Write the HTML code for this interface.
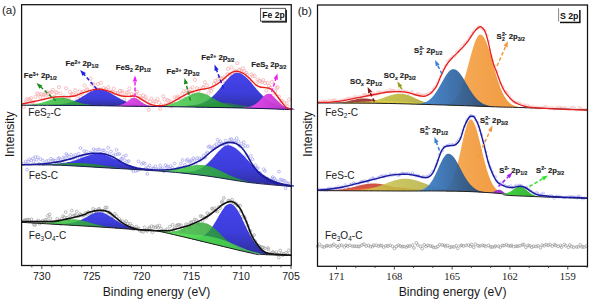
<!DOCTYPE html>
<html><head><meta charset="utf-8"><style>
html,body{margin:0;padding:0;background:#fff;}
svg{display:block;}
.b{stroke:#1a1a1a;stroke-width:0.14px;}
</style></head><body>
<svg width="593" height="300" viewBox="0 0 593 300">
<defs><linearGradient id="g1" gradientUnits="userSpaceOnUse" x1="0" y1="89.1" x2="0" y2="106.5"><stop offset="0.00" stop-color="#3434ea" stop-opacity="0.92"/><stop offset="0.55" stop-color="#2c2cd8" stop-opacity="0.92"/><stop offset="1.00" stop-color="#1c1c92" stop-opacity="0.92"/></linearGradient><linearGradient id="g2" gradientUnits="userSpaceOnUse" x1="0" y1="72.8" x2="0" y2="109.6"><stop offset="0.00" stop-color="#3434ea" stop-opacity="0.92"/><stop offset="0.55" stop-color="#2c2cd8" stop-opacity="0.92"/><stop offset="1.00" stop-color="#1c1c92" stop-opacity="0.92"/></linearGradient><linearGradient id="g3" gradientUnits="userSpaceOnUse" x1="19.4" y1="0" x2="102.6" y2="0"><stop offset="0" stop-color="#46dc46" stop-opacity="0.85"/><stop offset="1" stop-color="#1f8f2f" stop-opacity="0.85"/></linearGradient><linearGradient id="g4" gradientUnits="userSpaceOnUse" x1="151.0" y1="0" x2="247.0" y2="0"><stop offset="0" stop-color="#46dc46" stop-opacity="0.82"/><stop offset="1" stop-color="#1f8f2f" stop-opacity="0.82"/></linearGradient><linearGradient id="g5" gradientUnits="userSpaceOnUse" x1="164.4" y1="0" x2="279.6" y2="0"><stop offset="0" stop-color="#2aa02a" stop-opacity="0.55"/><stop offset="1" stop-color="#1f8a2a" stop-opacity="0.55"/></linearGradient><linearGradient id="g6" gradientUnits="userSpaceOnUse" x1="113.8" y1="0" x2="155.1" y2="0"><stop offset="0" stop-color="#f64cf6" stop-opacity="0.95"/><stop offset="1" stop-color="#b030c0" stop-opacity="0.95"/></linearGradient><linearGradient id="g7" gradientUnits="userSpaceOnUse" x1="242.9" y1="0" x2="295.7" y2="0"><stop offset="0" stop-color="#f64cf6" stop-opacity="0.95"/><stop offset="1" stop-color="#b030c0" stop-opacity="0.95"/></linearGradient><linearGradient id="g8" gradientUnits="userSpaceOnUse" x1="0" y1="153.8" x2="0" y2="171.1"><stop offset="0.00" stop-color="#3434ea" stop-opacity="0.92"/><stop offset="0.55" stop-color="#2c2cd8" stop-opacity="0.92"/><stop offset="1.00" stop-color="#1c1c92" stop-opacity="0.92"/></linearGradient><linearGradient id="g9" gradientUnits="userSpaceOnUse" x1="0" y1="145.3" x2="0" y2="186.6"><stop offset="0.00" stop-color="#3434ea" stop-opacity="0.92"/><stop offset="0.55" stop-color="#2c2cd8" stop-opacity="0.92"/><stop offset="1.00" stop-color="#1c1c92" stop-opacity="0.92"/></linearGradient><linearGradient id="g10" gradientUnits="userSpaceOnUse" x1="20.0" y1="0" x2="148.0" y2="0"><stop offset="0" stop-color="#2cae2c" stop-opacity="0.85"/><stop offset="1" stop-color="#1a7a2a" stop-opacity="0.85"/></linearGradient><linearGradient id="g11" gradientUnits="userSpaceOnUse" x1="140.0" y1="0" x2="264.8" y2="0"><stop offset="0" stop-color="#46dc46" stop-opacity="0.85"/><stop offset="1" stop-color="#1f8f2f" stop-opacity="0.85"/></linearGradient><linearGradient id="g12" gradientUnits="userSpaceOnUse" x1="0" y1="212.2" x2="0" y2="230.5"><stop offset="0.00" stop-color="#3434ea" stop-opacity="0.92"/><stop offset="0.55" stop-color="#2c2cd8" stop-opacity="0.92"/><stop offset="1.00" stop-color="#1c1c92" stop-opacity="0.92"/></linearGradient><linearGradient id="g13" gradientUnits="userSpaceOnUse" x1="0" y1="203.9" x2="0" y2="255.0"><stop offset="0.00" stop-color="#3434ea" stop-opacity="0.92"/><stop offset="0.55" stop-color="#2c2cd8" stop-opacity="0.92"/><stop offset="1.00" stop-color="#1c1c92" stop-opacity="0.92"/></linearGradient><linearGradient id="g14" gradientUnits="userSpaceOnUse" x1="26.0" y1="0" x2="125.2" y2="0"><stop offset="0" stop-color="#46dc46" stop-opacity="0.85"/><stop offset="1" stop-color="#1f8f2f" stop-opacity="0.85"/></linearGradient><linearGradient id="g15" gradientUnits="userSpaceOnUse" x1="150.6" y1="0" x2="254.6" y2="0"><stop offset="0" stop-color="#3cc83c" stop-opacity="0.82"/><stop offset="1" stop-color="#1f8a2a" stop-opacity="0.82"/></linearGradient><linearGradient id="g16" gradientUnits="userSpaceOnUse" x1="131.8" y1="0" x2="285.4" y2="0"><stop offset="0" stop-color="#60f060" stop-opacity="0.70"/><stop offset="1" stop-color="#48d848" stop-opacity="0.70"/></linearGradient><linearGradient id="g17" gradientUnits="userSpaceOnUse" x1="325.6" y1="0" x2="402.4" y2="0"><stop offset="0" stop-color="#a83030" stop-opacity="0.92"/><stop offset="1" stop-color="#8a2a2a" stop-opacity="0.92"/></linearGradient><linearGradient id="g18" gradientUnits="userSpaceOnUse" x1="349.8" y1="0" x2="445.8" y2="0"><stop offset="0" stop-color="#d2cc48" stop-opacity="0.92"/><stop offset="1" stop-color="#a6a238" stop-opacity="0.92"/></linearGradient><linearGradient id="g19" gradientUnits="userSpaceOnUse" x1="296.0" y1="0" x2="475.2" y2="0"><stop offset="0" stop-color="#ecd848" stop-opacity="0.80"/><stop offset="1" stop-color="#d8c840" stop-opacity="0.80"/></linearGradient><linearGradient id="g20" gradientUnits="userSpaceOnUse" x1="443.7" y1="0" x2="519.9" y2="0"><stop offset="0" stop-color="#f7ad5a" stop-opacity="1.00"/><stop offset="1" stop-color="#f09a40" stop-opacity="1.00"/></linearGradient><linearGradient id="g21" gradientUnits="userSpaceOnUse" x1="415.1" y1="0" x2="495.1" y2="0"><stop offset="0" stop-color="#3f88d8" stop-opacity="0.93"/><stop offset="1" stop-color="#22446e" stop-opacity="0.93"/></linearGradient><linearGradient id="g22" gradientUnits="userSpaceOnUse" x1="316.4" y1="0" x2="428.4" y2="0"><stop offset="0" stop-color="#d04a3a" stop-opacity="0.92"/><stop offset="1" stop-color="#c04030" stop-opacity="0.92"/></linearGradient><linearGradient id="g23" gradientUnits="userSpaceOnUse" x1="311.2" y1="0" x2="458.4" y2="0"><stop offset="0" stop-color="#f47040" stop-opacity="0.90"/><stop offset="1" stop-color="#e85a28" stop-opacity="0.90"/></linearGradient><linearGradient id="g24" gradientUnits="userSpaceOnUse" x1="344.2" y1="0" x2="469.0" y2="0"><stop offset="0" stop-color="#d6d050" stop-opacity="0.85"/><stop offset="1" stop-color="#a4a038" stop-opacity="0.85"/></linearGradient><linearGradient id="g25" gradientUnits="userSpaceOnUse" x1="440.4" y1="0" x2="504.7" y2="0"><stop offset="0" stop-color="#f7ad5a" stop-opacity="1.00"/><stop offset="1" stop-color="#f09a40" stop-opacity="1.00"/></linearGradient><linearGradient id="g26" gradientUnits="userSpaceOnUse" x1="415.9" y1="0" x2="486.9" y2="0"><stop offset="0" stop-color="#3f88d8" stop-opacity="0.93"/><stop offset="1" stop-color="#22446e" stop-opacity="0.93"/></linearGradient><linearGradient id="g27" gradientUnits="userSpaceOnUse" x1="486.5" y1="0" x2="512.1" y2="0"><stop offset="0" stop-color="#a030e0" stop-opacity="0.92"/><stop offset="1" stop-color="#8020c0" stop-opacity="0.92"/></linearGradient><linearGradient id="g28" gradientUnits="userSpaceOnUse" x1="497.4" y1="0" x2="542.2" y2="0"><stop offset="0" stop-color="#38d838" stop-opacity="0.92"/><stop offset="1" stop-color="#20a020" stop-opacity="0.92"/></linearGradient></defs>
<rect width="593" height="300" fill="#fff"/>
<g fill="none" stroke="#f3a6a6" stroke-width="0.70"><circle cx="23.8" cy="106.9" r="1.6"/><circle cx="25.5" cy="102.3" r="1.6"/><circle cx="26.5" cy="99.7" r="1.6"/><circle cx="28.3" cy="99.1" r="1.6"/><circle cx="29.9" cy="99.8" r="1.6"/><circle cx="31.0" cy="98.2" r="1.6"/><circle cx="32.2" cy="102.2" r="1.6"/><circle cx="34.2" cy="104.5" r="1.6"/><circle cx="35.4" cy="97.0" r="1.6"/><circle cx="37.2" cy="93.5" r="1.6"/><circle cx="38.5" cy="94.3" r="1.6"/><circle cx="40.2" cy="97.1" r="1.6"/><circle cx="41.3" cy="94.2" r="1.6"/><circle cx="43.3" cy="94.8" r="1.6"/><circle cx="44.5" cy="94.3" r="1.6"/><circle cx="45.8" cy="95.7" r="1.6"/><circle cx="47.1" cy="92.2" r="1.6"/><circle cx="48.6" cy="93.9" r="1.6"/><circle cx="50.1" cy="92.6" r="1.6"/><circle cx="51.9" cy="92.0" r="1.6"/><circle cx="52.8" cy="89.8" r="1.6"/><circle cx="54.4" cy="96.8" r="1.6"/><circle cx="55.9" cy="92.6" r="1.6"/><circle cx="56.9" cy="92.6" r="1.6"/><circle cx="59.0" cy="87.2" r="1.6"/><circle cx="60.5" cy="93.4" r="1.6"/><circle cx="61.6" cy="97.8" r="1.6"/><circle cx="63.3" cy="97.8" r="1.6"/><circle cx="64.4" cy="96.9" r="1.6"/><circle cx="66.0" cy="88.2" r="1.6"/><circle cx="67.7" cy="97.6" r="1.6"/><circle cx="68.9" cy="98.5" r="1.6"/><circle cx="70.0" cy="91.9" r="1.6"/><circle cx="71.5" cy="94.4" r="1.6"/><circle cx="73.0" cy="94.2" r="1.6"/><circle cx="75.2" cy="90.2" r="1.6"/><circle cx="76.4" cy="94.5" r="1.6"/><circle cx="77.4" cy="98.7" r="1.6"/><circle cx="79.4" cy="91.4" r="1.6"/><circle cx="80.8" cy="97.0" r="1.6"/><circle cx="82.1" cy="92.9" r="1.6"/><circle cx="83.3" cy="91.2" r="1.6"/><circle cx="84.6" cy="85.5" r="1.6"/><circle cx="86.6" cy="90.1" r="1.6"/><circle cx="87.4" cy="89.3" r="1.6"/><circle cx="89.2" cy="92.2" r="1.6"/><circle cx="90.4" cy="78.7" r="1.6"/><circle cx="91.8" cy="84.5" r="1.6"/><circle cx="93.5" cy="84.1" r="1.6"/><circle cx="94.6" cy="88.2" r="1.6"/><circle cx="96.7" cy="89.1" r="1.6"/><circle cx="97.9" cy="84.0" r="1.6"/><circle cx="99.9" cy="89.4" r="1.6"/><circle cx="100.8" cy="82.8" r="1.6"/><circle cx="102.0" cy="91.2" r="1.6"/><circle cx="103.5" cy="88.0" r="1.6"/><circle cx="105.0" cy="89.9" r="1.6"/><circle cx="106.2" cy="89.2" r="1.6"/><circle cx="108.3" cy="87.3" r="1.6"/><circle cx="109.2" cy="91.4" r="1.6"/><circle cx="111.2" cy="92.2" r="1.6"/><circle cx="112.3" cy="91.8" r="1.6"/><circle cx="113.7" cy="88.7" r="1.6"/><circle cx="115.3" cy="92.9" r="1.6"/><circle cx="117.3" cy="92.8" r="1.6"/><circle cx="118.1" cy="93.5" r="1.6"/><circle cx="120.0" cy="90.9" r="1.6"/><circle cx="121.6" cy="91.1" r="1.6"/><circle cx="122.4" cy="93.1" r="1.6"/><circle cx="124.4" cy="99.9" r="1.6"/><circle cx="125.8" cy="95.6" r="1.6"/><circle cx="126.8" cy="92.4" r="1.6"/><circle cx="128.4" cy="92.3" r="1.6"/><circle cx="129.4" cy="88.5" r="1.6"/><circle cx="131.6" cy="94.1" r="1.6"/><circle cx="132.5" cy="97.6" r="1.6"/><circle cx="134.4" cy="95.2" r="1.6"/><circle cx="136.0" cy="93.7" r="1.6"/><circle cx="137.1" cy="91.8" r="1.6"/><circle cx="138.2" cy="98.6" r="1.6"/><circle cx="140.3" cy="96.0" r="1.6"/><circle cx="141.0" cy="98.3" r="1.6"/><circle cx="143.3" cy="95.5" r="1.6"/><circle cx="144.3" cy="98.6" r="1.6"/><circle cx="145.5" cy="97.0" r="1.6"/><circle cx="147.2" cy="100.7" r="1.6"/><circle cx="148.8" cy="109.8" r="1.6"/><circle cx="150.0" cy="101.5" r="1.6"/><circle cx="151.4" cy="98.7" r="1.6"/><circle cx="153.3" cy="103.8" r="1.6"/><circle cx="154.2" cy="101.6" r="1.6"/><circle cx="155.9" cy="101.3" r="1.6"/><circle cx="157.6" cy="99.2" r="1.6"/><circle cx="159.1" cy="102.7" r="1.6"/><circle cx="160.2" cy="108.7" r="1.6"/><circle cx="161.3" cy="105.2" r="1.6"/><circle cx="163.3" cy="96.3" r="1.6"/><circle cx="164.3" cy="99.6" r="1.6"/><circle cx="165.9" cy="104.5" r="1.6"/><circle cx="167.5" cy="100.1" r="1.6"/><circle cx="168.6" cy="100.8" r="1.6"/><circle cx="170.7" cy="101.4" r="1.6"/><circle cx="171.4" cy="106.4" r="1.6"/><circle cx="173.3" cy="103.0" r="1.6"/><circle cx="174.6" cy="97.3" r="1.6"/><circle cx="176.7" cy="98.0" r="1.6"/><circle cx="177.9" cy="96.6" r="1.6"/><circle cx="179.3" cy="97.4" r="1.6"/><circle cx="180.3" cy="98.7" r="1.6"/><circle cx="182.4" cy="93.8" r="1.6"/><circle cx="183.7" cy="91.5" r="1.6"/><circle cx="184.9" cy="98.7" r="1.6"/><circle cx="186.4" cy="90.7" r="1.6"/><circle cx="188.2" cy="92.0" r="1.6"/><circle cx="189.1" cy="91.9" r="1.6"/><circle cx="190.3" cy="89.3" r="1.6"/><circle cx="192.4" cy="87.4" r="1.6"/><circle cx="193.6" cy="94.1" r="1.6"/><circle cx="194.9" cy="79.9" r="1.6"/><circle cx="197.0" cy="88.2" r="1.6"/><circle cx="198.4" cy="91.2" r="1.6"/><circle cx="199.2" cy="89.4" r="1.6"/><circle cx="200.5" cy="96.1" r="1.6"/><circle cx="202.6" cy="87.6" r="1.6"/><circle cx="203.4" cy="87.0" r="1.6"/><circle cx="204.8" cy="82.2" r="1.6"/><circle cx="206.9" cy="85.4" r="1.6"/><circle cx="208.4" cy="93.5" r="1.6"/><circle cx="209.8" cy="88.8" r="1.6"/><circle cx="211.1" cy="90.9" r="1.6"/><circle cx="212.5" cy="87.6" r="1.6"/><circle cx="214.0" cy="84.0" r="1.6"/><circle cx="215.3" cy="80.9" r="1.6"/><circle cx="216.5" cy="82.7" r="1.6"/><circle cx="218.3" cy="78.8" r="1.6"/><circle cx="219.8" cy="77.7" r="1.6"/><circle cx="221.6" cy="78.5" r="1.6"/><circle cx="222.5" cy="81.7" r="1.6"/><circle cx="224.2" cy="77.3" r="1.6"/><circle cx="225.3" cy="80.1" r="1.6"/><circle cx="227.5" cy="74.0" r="1.6"/><circle cx="228.0" cy="68.8" r="1.6"/><circle cx="229.4" cy="74.8" r="1.6"/><circle cx="231.6" cy="67.6" r="1.6"/><circle cx="232.9" cy="75.0" r="1.6"/><circle cx="234.7" cy="70.9" r="1.6"/><circle cx="235.3" cy="71.9" r="1.6"/><circle cx="237.2" cy="63.2" r="1.6"/><circle cx="239.0" cy="70.2" r="1.6"/><circle cx="239.7" cy="69.6" r="1.6"/><circle cx="241.5" cy="72.4" r="1.6"/><circle cx="243.0" cy="68.3" r="1.6"/><circle cx="244.3" cy="71.0" r="1.6"/><circle cx="246.3" cy="72.8" r="1.6"/><circle cx="247.0" cy="75.0" r="1.6"/><circle cx="249.2" cy="79.4" r="1.6"/><circle cx="249.9" cy="82.9" r="1.6"/><circle cx="251.5" cy="74.4" r="1.6"/><circle cx="252.6" cy="76.1" r="1.6"/><circle cx="254.7" cy="75.9" r="1.6"/><circle cx="256.1" cy="83.8" r="1.6"/><circle cx="257.6" cy="79.6" r="1.6"/><circle cx="259.2" cy="80.8" r="1.6"/><circle cx="260.2" cy="81.3" r="1.6"/><circle cx="262.3" cy="82.1" r="1.6"/><circle cx="263.2" cy="80.2" r="1.6"/><circle cx="265.1" cy="83.1" r="1.6"/><circle cx="266.4" cy="90.6" r="1.6"/><circle cx="267.5" cy="82.8" r="1.6"/><circle cx="269.0" cy="85.9" r="1.6"/><circle cx="270.2" cy="87.6" r="1.6"/><circle cx="271.9" cy="81.8" r="1.6"/><circle cx="273.6" cy="95.5" r="1.6"/><circle cx="275.1" cy="91.5" r="1.6"/><circle cx="276.7" cy="88.1" r="1.6"/><circle cx="277.6" cy="87.1" r="1.6"/><circle cx="279.0" cy="96.7" r="1.6"/><circle cx="280.8" cy="100.8" r="1.6"/><circle cx="281.9" cy="101.1" r="1.6"/><circle cx="283.5" cy="108.4" r="1.6"/><circle cx="284.6" cy="102.9" r="1.6"/><circle cx="286.6" cy="103.4" r="1.6"/><circle cx="287.5" cy="106.3" r="1.6"/><circle cx="289.0" cy="99.5" r="1.6"/></g>
<path d="M51.00 104.80 L52.00 104.77 L53.00 104.74 L54.00 104.70 L55.00 104.65 L56.00 104.60 L57.00 104.54 L58.00 104.47 L59.00 104.39 L60.00 104.30 L61.00 104.19 L62.00 104.07 L63.00 103.94 L64.00 103.79 L65.00 103.62 L66.00 103.43 L67.00 103.22 L68.00 102.98 L69.00 102.73 L70.00 102.44 L71.00 102.13 L72.00 101.79 L73.00 101.42 L74.00 101.02 L75.00 100.59 L76.00 100.14 L77.00 99.65 L78.00 99.14 L79.00 98.60 L80.00 98.04 L81.00 97.45 L82.00 96.85 L83.00 96.23 L84.00 95.60 L85.00 94.97 L86.00 94.33 L87.00 93.70 L88.00 93.08 L89.00 92.48 L90.00 91.91 L91.00 91.37 L92.00 90.88 L93.00 90.43 L94.00 90.04 L95.00 89.72 L96.00 89.46 L97.00 89.27 L98.00 89.17 L99.00 89.14 L100.00 89.19 L101.00 89.31 L102.00 89.49 L103.00 89.73 L104.00 90.03 L105.00 90.39 L106.00 90.80 L107.00 91.25 L108.00 91.73 L109.00 92.25 L110.00 92.80 L111.00 93.37 L112.00 93.95 L113.00 94.54 L114.00 95.14 L115.00 95.74 L116.00 96.33 L117.00 96.92 L118.00 97.50 L119.00 98.06 L120.00 98.61 L121.00 99.15 L122.00 99.66 L123.00 100.15 L124.00 100.62 L125.00 101.06 L126.00 101.48 L127.00 101.88 L128.00 102.25 L129.00 102.60 L130.00 102.92 L131.00 103.22 L132.00 103.50 L133.00 103.76 L134.00 103.99 L135.00 104.21 L136.00 104.41 L137.00 104.58 L138.00 104.74 L139.00 104.89 L140.00 105.02 L141.00 105.14 L142.00 105.25 L143.00 105.35 L144.00 105.44 L145.00 105.52 L146.00 105.59 L147.00 105.65 L148.00 105.71 L149.00 105.77 L150.00 105.82 L151.00 105.86 L151.00 106.46 L150.00 106.45 L149.00 106.44 L148.00 106.43 L147.00 106.42 L146.00 106.41 L145.00 106.40 L144.00 106.39 L143.00 106.38 L142.00 106.37 L141.00 106.36 L140.00 106.35 L139.00 106.34 L138.00 106.33 L137.00 106.32 L136.00 106.31 L135.00 106.30 L134.00 106.28 L133.00 106.27 L132.00 106.25 L131.00 106.24 L130.00 106.22 L129.00 106.21 L128.00 106.19 L127.00 106.18 L126.00 106.16 L125.00 106.14 L124.00 106.13 L123.00 106.11 L122.00 106.10 L121.00 106.08 L120.00 106.07 L119.00 106.05 L118.00 106.04 L117.00 106.02 L116.00 106.00 L115.00 105.99 L114.00 105.97 L113.00 105.96 L112.00 105.94 L111.00 105.93 L110.00 105.91 L109.00 105.90 L108.00 105.88 L107.00 105.86 L106.00 105.85 L105.00 105.83 L104.00 105.82 L103.00 105.80 L102.00 105.79 L101.00 105.77 L100.00 105.76 L99.00 105.74 L98.00 105.72 L97.00 105.71 L96.00 105.69 L95.00 105.68 L94.00 105.66 L93.00 105.65 L92.00 105.63 L91.00 105.62 L90.00 105.60 L89.00 105.59 L88.00 105.59 L87.00 105.58 L86.00 105.58 L85.00 105.57 L84.00 105.57 L83.00 105.56 L82.00 105.55 L81.00 105.55 L80.00 105.54 L79.00 105.54 L78.00 105.53 L77.00 105.52 L76.00 105.52 L75.00 105.51 L74.00 105.51 L73.00 105.50 L72.00 105.50 L71.00 105.49 L70.00 105.48 L69.00 105.48 L68.00 105.47 L67.00 105.47 L66.00 105.46 L65.00 105.46 L64.00 105.45 L63.00 105.44 L62.00 105.44 L61.00 105.43 L60.00 105.43 L59.00 105.42 L58.00 105.41 L57.00 105.41 L56.00 105.40 L55.00 105.40 L54.00 105.39 L53.00 105.39 L52.00 105.38 L51.00 105.37 Z" fill="url(#g1)"/>
<path d="M186.30 105.76 L187.30 105.70 L188.30 105.64 L189.30 105.57 L190.30 105.48 L191.30 105.39 L192.30 105.28 L193.30 105.15 L194.30 105.01 L195.30 104.84 L196.30 104.66 L197.30 104.45 L198.30 104.21 L199.30 103.94 L200.30 103.64 L201.30 103.31 L202.30 102.94 L203.30 102.53 L204.30 102.08 L205.30 101.58 L206.30 101.03 L207.30 100.43 L208.30 99.79 L209.30 99.09 L210.30 98.33 L211.30 97.52 L212.30 96.65 L213.30 95.73 L214.30 94.76 L215.30 93.74 L216.30 92.67 L217.30 91.55 L218.30 90.40 L219.30 89.21 L220.30 87.99 L221.30 86.75 L222.30 85.50 L223.30 84.25 L224.30 83.00 L225.30 81.77 L226.30 80.56 L227.30 79.40 L228.30 78.28 L229.30 77.24 L230.30 76.27 L231.30 75.40 L232.30 74.63 L233.30 73.98 L234.30 73.46 L235.30 73.07 L236.30 72.84 L237.30 72.75 L238.30 72.81 L239.30 72.99 L240.30 73.30 L241.30 73.73 L242.30 74.27 L243.30 74.92 L244.30 75.67 L245.30 76.51 L246.30 77.42 L247.30 78.40 L248.30 79.44 L249.30 80.53 L250.30 81.66 L251.30 82.82 L252.30 84.01 L253.30 85.21 L254.30 86.40 L255.30 87.60 L256.30 88.78 L257.30 89.95 L258.30 91.09 L259.30 92.21 L260.30 93.29 L261.30 94.34 L262.30 95.34 L263.30 96.31 L264.30 97.24 L265.30 98.11 L266.30 98.95 L267.30 99.74 L268.30 100.48 L269.30 101.18 L270.30 101.83 L271.30 102.44 L272.30 103.00 L273.30 103.53 L274.30 104.02 L275.30 104.47 L276.30 104.88 L277.30 105.26 L278.30 105.61 L279.30 105.93 L280.30 106.23 L281.30 106.50 L282.30 106.74 L283.30 106.97 L284.30 107.18 L285.30 107.36 L286.30 107.54 L287.30 107.70 L288.30 107.84 L289.30 107.98 L290.30 108.10 L291.30 108.22 L292.30 108.31 L293.30 108.38 L293.30 109.60 L292.30 109.60 L291.30 109.58 L290.30 109.54 L289.30 109.51 L288.30 109.48 L287.30 109.44 L286.30 109.41 L285.30 109.38 L284.30 109.34 L283.30 109.31 L282.30 109.28 L281.30 109.24 L280.30 109.21 L279.30 109.18 L278.30 109.14 L277.30 109.11 L276.30 109.08 L275.30 109.04 L274.30 109.01 L273.30 108.98 L272.30 108.94 L271.30 108.91 L270.30 108.88 L269.30 108.84 L268.30 108.81 L267.30 108.78 L266.30 108.74 L265.30 108.71 L264.30 108.68 L263.30 108.64 L262.30 108.61 L261.30 108.58 L260.30 108.54 L259.30 108.51 L258.30 108.48 L257.30 108.44 L256.30 108.41 L255.30 108.38 L254.30 108.34 L253.30 108.31 L252.30 108.28 L251.30 108.24 L250.30 108.21 L249.30 108.19 L248.30 108.17 L247.30 108.15 L246.30 108.13 L245.30 108.11 L244.30 108.09 L243.30 108.07 L242.30 108.05 L241.30 108.03 L240.30 108.01 L239.30 107.99 L238.30 107.97 L237.30 107.95 L236.30 107.93 L235.30 107.91 L234.30 107.89 L233.30 107.87 L232.30 107.85 L231.30 107.83 L230.30 107.81 L229.30 107.79 L228.30 107.77 L227.30 107.75 L226.30 107.73 L225.30 107.71 L224.30 107.69 L223.30 107.67 L222.30 107.65 L221.30 107.63 L220.30 107.61 L219.30 107.59 L218.30 107.57 L217.30 107.55 L216.30 107.53 L215.30 107.51 L214.30 107.49 L213.30 107.47 L212.30 107.45 L211.30 107.43 L210.30 107.41 L209.30 107.39 L208.30 107.37 L207.30 107.35 L206.30 107.33 L205.30 107.31 L204.30 107.29 L203.30 107.27 L202.30 107.25 L201.30 107.23 L200.30 107.21 L199.30 107.19 L198.30 107.17 L197.30 107.15 L196.30 107.14 L195.30 107.12 L194.30 107.10 L193.30 107.09 L192.30 107.07 L191.30 107.05 L190.30 107.03 L189.30 107.02 L188.30 107.00 L187.30 106.98 L186.30 106.97 Z" fill="url(#g2)"/>
<path d="M19.40 104.93 L20.40 104.91 L21.40 104.89 L22.40 104.87 L23.40 104.85 L24.40 104.82 L25.40 104.78 L26.40 104.74 L27.40 104.69 L28.40 104.64 L29.40 104.57 L30.40 104.50 L31.40 104.41 L32.40 104.31 L33.40 104.20 L34.40 104.07 L35.40 103.93 L36.40 103.77 L37.40 103.59 L38.40 103.40 L39.40 103.18 L40.40 102.95 L41.40 102.70 L42.40 102.43 L43.40 102.15 L44.40 101.85 L45.40 101.54 L46.40 101.21 L47.40 100.88 L48.40 100.54 L49.40 100.20 L50.40 99.86 L51.40 99.52 L52.40 99.20 L53.40 98.89 L54.40 98.61 L55.40 98.35 L56.40 98.12 L57.40 97.93 L58.40 97.79 L59.40 97.69 L60.40 97.64 L61.40 97.64 L62.40 97.69 L63.40 97.79 L64.40 97.94 L65.40 98.13 L66.40 98.36 L67.40 98.63 L68.40 98.92 L69.40 99.23 L70.40 99.57 L71.40 99.91 L72.40 100.26 L73.40 100.61 L74.40 100.97 L75.40 101.31 L76.40 101.65 L77.40 101.98 L78.40 102.29 L79.40 102.59 L80.40 102.88 L81.40 103.14 L82.40 103.39 L83.40 103.62 L84.40 103.83 L85.40 104.02 L86.40 104.19 L87.40 104.35 L88.40 104.49 L89.40 104.62 L90.40 104.74 L91.40 104.85 L92.40 104.95 L93.40 105.04 L94.40 105.11 L95.40 105.19 L96.40 105.25 L97.40 105.31 L98.40 105.36 L99.40 105.40 L100.40 105.45 L101.40 105.49 L102.40 105.52 L102.40 105.79 L101.40 105.78 L100.40 105.76 L99.40 105.75 L98.40 105.73 L97.40 105.72 L96.40 105.70 L95.40 105.68 L94.40 105.67 L93.40 105.65 L92.40 105.64 L91.40 105.62 L90.40 105.61 L89.40 105.60 L88.40 105.59 L87.40 105.58 L86.40 105.58 L85.40 105.57 L84.40 105.57 L83.40 105.56 L82.40 105.56 L81.40 105.55 L80.40 105.54 L79.40 105.54 L78.40 105.53 L77.40 105.53 L76.40 105.52 L75.40 105.52 L74.40 105.51 L73.40 105.50 L72.40 105.50 L71.40 105.49 L70.40 105.49 L69.40 105.48 L68.40 105.47 L67.40 105.47 L66.40 105.46 L65.40 105.46 L64.40 105.45 L63.40 105.45 L62.40 105.44 L61.40 105.43 L60.40 105.43 L59.40 105.42 L58.40 105.42 L57.40 105.41 L56.40 105.41 L55.40 105.40 L54.40 105.39 L53.40 105.39 L52.40 105.38 L51.40 105.38 L50.40 105.37 L49.40 105.36 L48.40 105.36 L47.40 105.35 L46.40 105.35 L45.40 105.34 L44.40 105.34 L43.40 105.33 L42.40 105.32 L41.40 105.32 L40.40 105.31 L39.40 105.31 L38.40 105.30 L37.40 105.30 L36.40 105.29 L35.40 105.28 L34.40 105.28 L33.40 105.27 L32.40 105.27 L31.40 105.26 L30.40 105.25 L29.40 105.25 L28.40 105.24 L27.40 105.24 L26.40 105.23 L25.40 105.23 L24.40 105.22 L23.40 105.21 L22.40 105.21 L21.40 105.20 L20.40 105.20 L19.40 105.20 Z" fill="url(#g3)"/>
<path d="M151.00 105.96 L152.00 105.94 L153.00 105.91 L154.00 105.88 L155.00 105.85 L156.00 105.80 L157.00 105.75 L158.00 105.70 L159.00 105.63 L160.00 105.56 L161.00 105.47 L162.00 105.37 L163.00 105.26 L164.00 105.13 L165.00 104.99 L166.00 104.83 L167.00 104.66 L168.00 104.46 L169.00 104.25 L170.00 104.01 L171.00 103.75 L172.00 103.46 L173.00 103.15 L174.00 102.81 L175.00 102.44 L176.00 102.06 L177.00 101.64 L178.00 101.20 L179.00 100.74 L180.00 100.26 L181.00 99.75 L182.00 99.24 L183.00 98.70 L184.00 98.16 L185.00 97.62 L186.00 97.07 L187.00 96.53 L188.00 96.00 L189.00 95.48 L190.00 94.98 L191.00 94.52 L192.00 94.09 L193.00 93.70 L194.00 93.36 L195.00 93.07 L196.00 92.85 L197.00 92.69 L198.00 92.60 L199.00 92.58 L200.00 92.64 L201.00 92.76 L202.00 92.96 L203.00 93.22 L204.00 93.54 L205.00 93.92 L206.00 94.35 L207.00 94.81 L208.00 95.32 L209.00 95.85 L210.00 96.40 L211.00 96.97 L212.00 97.55 L213.00 98.13 L214.00 98.72 L215.00 99.30 L216.00 99.86 L217.00 100.42 L218.00 100.96 L219.00 101.48 L220.00 101.98 L221.00 102.45 L222.00 102.91 L223.00 103.33 L224.00 103.73 L225.00 104.11 L226.00 104.46 L227.00 104.78 L228.00 105.08 L229.00 105.36 L230.00 105.61 L231.00 105.84 L232.00 106.05 L233.00 106.25 L234.00 106.42 L235.00 106.58 L236.00 106.72 L237.00 106.85 L238.00 106.97 L239.00 107.07 L240.00 107.17 L241.00 107.25 L242.00 107.33 L243.00 107.41 L244.00 107.47 L245.00 107.53 L246.00 107.59 L247.00 107.64 L247.00 108.14 L246.00 108.12 L245.00 108.10 L244.00 108.08 L243.00 108.06 L242.00 108.04 L241.00 108.02 L240.00 108.00 L239.00 107.98 L238.00 107.96 L237.00 107.94 L236.00 107.92 L235.00 107.90 L234.00 107.88 L233.00 107.86 L232.00 107.84 L231.00 107.82 L230.00 107.80 L229.00 107.78 L228.00 107.76 L227.00 107.74 L226.00 107.72 L225.00 107.70 L224.00 107.68 L223.00 107.66 L222.00 107.64 L221.00 107.62 L220.00 107.60 L219.00 107.58 L218.00 107.56 L217.00 107.54 L216.00 107.52 L215.00 107.50 L214.00 107.48 L213.00 107.46 L212.00 107.44 L211.00 107.42 L210.00 107.40 L209.00 107.38 L208.00 107.36 L207.00 107.34 L206.00 107.32 L205.00 107.30 L204.00 107.28 L203.00 107.26 L202.00 107.24 L201.00 107.22 L200.00 107.20 L199.00 107.18 L198.00 107.17 L197.00 107.15 L196.00 107.13 L195.00 107.11 L194.00 107.10 L193.00 107.08 L192.00 107.06 L191.00 107.05 L190.00 107.03 L189.00 107.01 L188.00 106.99 L187.00 106.98 L186.00 106.96 L185.00 106.94 L184.00 106.93 L183.00 106.91 L182.00 106.89 L181.00 106.87 L180.00 106.86 L179.00 106.84 L178.00 106.82 L177.00 106.81 L176.00 106.79 L175.00 106.77 L174.00 106.75 L173.00 106.74 L172.00 106.72 L171.00 106.70 L170.00 106.69 L169.00 106.67 L168.00 106.65 L167.00 106.63 L166.00 106.62 L165.00 106.60 L164.00 106.59 L163.00 106.58 L162.00 106.57 L161.00 106.56 L160.00 106.55 L159.00 106.54 L158.00 106.53 L157.00 106.52 L156.00 106.51 L155.00 106.50 L154.00 106.49 L153.00 106.48 L152.00 106.47 L151.00 106.46 Z" fill="url(#g4)"/>
<path d="M164.40 106.42 L165.40 106.43 L166.40 106.43 L167.40 106.44 L168.40 106.44 L169.40 106.45 L170.40 106.45 L171.40 106.45 L172.40 106.45 L173.40 106.45 L174.40 106.44 L175.40 106.43 L176.40 106.42 L177.40 106.41 L178.40 106.39 L179.40 106.37 L180.40 106.35 L181.40 106.32 L182.40 106.29 L183.40 106.25 L184.40 106.21 L185.40 106.16 L186.40 106.11 L187.40 106.05 L188.40 105.99 L189.40 105.92 L190.40 105.84 L191.40 105.76 L192.40 105.68 L193.40 105.58 L194.40 105.48 L195.40 105.38 L196.40 105.27 L197.40 105.15 L198.40 105.03 L199.40 104.90 L200.40 104.77 L201.40 104.64 L202.40 104.50 L203.40 104.36 L204.40 104.22 L205.40 104.08 L206.40 103.94 L207.40 103.80 L208.40 103.66 L209.40 103.53 L210.40 103.40 L211.40 103.28 L212.40 103.16 L213.40 103.05 L214.40 102.95 L215.40 102.86 L216.40 102.79 L217.40 102.72 L218.40 102.68 L219.40 102.65 L220.40 102.63 L221.40 102.63 L222.40 102.65 L223.40 102.68 L224.40 102.74 L225.40 102.81 L226.40 102.89 L227.40 102.99 L228.40 103.10 L229.40 103.23 L230.40 103.36 L231.40 103.51 L232.40 103.67 L233.40 103.83 L234.40 104.00 L235.40 104.17 L236.40 104.35 L237.40 104.53 L238.40 104.71 L239.40 104.89 L240.40 105.07 L241.40 105.25 L242.40 105.43 L243.40 105.60 L244.40 105.77 L245.40 105.93 L246.40 106.09 L247.40 106.25 L248.40 106.40 L249.40 106.54 L250.40 106.69 L251.40 106.83 L252.40 106.97 L253.40 107.10 L254.40 107.23 L255.40 107.35 L256.40 107.47 L257.40 107.57 L258.40 107.68 L259.40 107.78 L260.40 107.87 L261.40 107.96 L262.40 108.04 L263.40 108.12 L264.40 108.20 L265.40 108.27 L266.40 108.34 L267.40 108.40 L268.40 108.46 L269.40 108.52 L270.40 108.58 L271.40 108.63 L272.40 108.68 L273.40 108.73 L274.40 108.78 L275.40 108.83 L276.40 108.88 L277.40 108.92 L278.40 108.96 L279.40 109.01 L279.40 109.18 L278.40 109.15 L277.40 109.11 L276.40 109.08 L275.40 109.05 L274.40 109.01 L273.40 108.98 L272.40 108.95 L271.40 108.91 L270.40 108.88 L269.40 108.85 L268.40 108.81 L267.40 108.78 L266.40 108.75 L265.40 108.71 L264.40 108.68 L263.40 108.65 L262.40 108.61 L261.40 108.58 L260.40 108.55 L259.40 108.51 L258.40 108.48 L257.40 108.45 L256.40 108.41 L255.40 108.38 L254.40 108.35 L253.40 108.31 L252.40 108.28 L251.40 108.25 L250.40 108.21 L249.40 108.19 L248.40 108.17 L247.40 108.15 L246.40 108.13 L245.40 108.11 L244.40 108.09 L243.40 108.07 L242.40 108.05 L241.40 108.03 L240.40 108.01 L239.40 107.99 L238.40 107.97 L237.40 107.95 L236.40 107.93 L235.40 107.91 L234.40 107.89 L233.40 107.87 L232.40 107.85 L231.40 107.83 L230.40 107.81 L229.40 107.79 L228.40 107.77 L227.40 107.75 L226.40 107.73 L225.40 107.71 L224.40 107.69 L223.40 107.67 L222.40 107.65 L221.40 107.63 L220.40 107.61 L219.40 107.59 L218.40 107.57 L217.40 107.55 L216.40 107.53 L215.40 107.51 L214.40 107.49 L213.40 107.47 L212.40 107.45 L211.40 107.43 L210.40 107.41 L209.40 107.39 L208.40 107.37 L207.40 107.35 L206.40 107.33 L205.40 107.31 L204.40 107.29 L203.40 107.27 L202.40 107.25 L201.40 107.23 L200.40 107.21 L199.40 107.19 L198.40 107.17 L197.40 107.16 L196.40 107.14 L195.40 107.12 L194.40 107.10 L193.40 107.09 L192.40 107.07 L191.40 107.05 L190.40 107.04 L189.40 107.02 L188.40 107.00 L187.40 106.98 L186.40 106.97 L185.40 106.95 L184.40 106.93 L183.40 106.92 L182.40 106.90 L181.40 106.88 L180.40 106.86 L179.40 106.85 L178.40 106.83 L177.40 106.81 L176.40 106.80 L175.40 106.78 L174.40 106.76 L173.40 106.74 L172.40 106.73 L171.40 106.71 L170.40 106.69 L169.40 106.68 L168.40 106.66 L167.40 106.64 L166.40 106.62 L165.40 106.61 L164.40 106.59 Z" fill="url(#g5)"/>
<path d="M113.84 105.68 L114.84 105.65 L115.84 105.60 L116.84 105.53 L117.84 105.43 L118.84 105.29 L119.84 105.10 L120.84 104.85 L121.84 104.53 L122.84 104.13 L123.84 103.65 L124.84 103.09 L125.84 102.44 L126.84 101.73 L127.84 100.98 L128.84 100.21 L129.84 99.48 L130.84 98.82 L131.84 98.28 L132.84 97.92 L133.84 97.78 L134.84 97.87 L135.84 98.16 L136.84 98.63 L137.84 99.24 L138.84 99.94 L139.84 100.68 L140.84 101.43 L141.84 102.17 L142.84 102.85 L143.84 103.47 L144.84 104.02 L145.84 104.49 L146.84 104.89 L147.84 105.21 L148.84 105.47 L149.84 105.68 L150.84 105.84 L151.84 105.96 L152.84 106.06 L153.84 106.14 L154.84 106.20 L154.84 106.50 L153.84 106.49 L152.84 106.48 L151.84 106.47 L150.84 106.46 L149.84 106.45 L148.84 106.44 L147.84 106.43 L146.84 106.42 L145.84 106.41 L144.84 106.40 L143.84 106.39 L142.84 106.38 L141.84 106.37 L140.84 106.36 L139.84 106.35 L138.84 106.34 L137.84 106.33 L136.84 106.32 L135.84 106.31 L134.84 106.30 L133.84 106.28 L132.84 106.27 L131.84 106.25 L130.84 106.24 L129.84 106.22 L128.84 106.20 L127.84 106.19 L126.84 106.17 L125.84 106.16 L124.84 106.14 L123.84 106.13 L122.84 106.11 L121.84 106.10 L120.84 106.08 L119.84 106.06 L118.84 106.05 L117.84 106.03 L116.84 106.02 L115.84 106.00 L114.84 105.99 L113.84 105.97 Z" fill="url(#g6)"/>
<path d="M242.90 107.54 L243.90 107.50 L244.90 107.44 L245.90 107.35 L246.90 107.24 L247.90 107.10 L248.90 106.92 L249.90 106.68 L250.90 106.39 L251.90 106.04 L252.90 105.61 L253.90 105.10 L254.90 104.50 L255.90 103.80 L256.90 103.01 L257.90 102.13 L258.90 101.18 L259.90 100.17 L260.90 99.13 L261.90 98.08 L262.90 97.05 L263.90 96.10 L264.90 95.26 L265.90 94.57 L266.90 94.09 L267.90 93.84 L268.90 93.85 L269.90 94.09 L270.90 94.54 L271.90 95.18 L272.90 95.98 L273.90 96.90 L274.90 97.90 L275.90 98.94 L276.90 99.99 L277.90 101.03 L278.90 102.04 L279.90 102.99 L280.90 103.87 L281.90 104.67 L282.90 105.40 L283.90 106.04 L284.90 106.60 L285.90 107.08 L286.90 107.49 L287.90 107.84 L288.90 108.14 L289.90 108.38 L290.90 108.59 L291.90 108.76 L292.90 108.88 L293.90 108.97 L294.90 109.04 L294.90 109.60 L293.90 109.60 L292.90 109.60 L291.90 109.60 L290.90 109.56 L289.90 109.53 L288.90 109.50 L287.90 109.46 L286.90 109.43 L285.90 109.40 L284.90 109.36 L283.90 109.33 L282.90 109.30 L281.90 109.26 L280.90 109.23 L279.90 109.20 L278.90 109.16 L277.90 109.13 L276.90 109.10 L275.90 109.06 L274.90 109.03 L273.90 109.00 L272.90 108.96 L271.90 108.93 L270.90 108.90 L269.90 108.86 L268.90 108.83 L267.90 108.80 L266.90 108.76 L265.90 108.73 L264.90 108.70 L263.90 108.66 L262.90 108.63 L261.90 108.60 L260.90 108.56 L259.90 108.53 L258.90 108.50 L257.90 108.46 L256.90 108.43 L255.90 108.40 L254.90 108.36 L253.90 108.33 L252.90 108.30 L251.90 108.26 L250.90 108.23 L249.90 108.20 L248.90 108.18 L247.90 108.16 L246.90 108.14 L245.90 108.12 L244.90 108.10 L243.90 108.08 L242.90 108.06 Z" fill="url(#g7)"/>
<path d="M21.00 105.20 C32.50 105.27 71.00 105.42 90.00 105.60 C109.00 105.78 122.50 106.13 135.00 106.30 C147.50 106.47 154.17 106.45 165.00 106.60 C175.83 106.75 185.83 106.93 200.00 107.20 C214.17 107.47 234.67 107.80 250.00 108.20 C265.33 108.60 285.00 109.37 292.00 109.60" fill="none" stroke="#15154a" stroke-width="1.00" stroke-linejoin="round"/>
<path d="M22.00 104.00 C24.17 103.55 31.17 102.13 35.00 101.30 C38.83 100.47 41.67 99.72 45.00 99.00 C48.33 98.28 52.17 97.40 55.00 97.00 C57.83 96.60 59.67 96.67 62.00 96.60 C64.33 96.53 66.87 96.70 69.00 96.60 C71.13 96.50 72.85 96.48 74.80 96.00 C76.75 95.52 78.55 94.48 80.70 93.70 C82.85 92.92 85.57 91.98 87.70 91.30 C89.83 90.62 91.57 89.98 93.50 89.60 C95.43 89.22 97.35 88.90 99.30 89.00 C101.25 89.10 103.25 89.72 105.20 90.20 C107.15 90.68 109.23 91.23 111.00 91.90 C112.77 92.57 114.02 93.52 115.80 94.20 C117.58 94.88 119.75 95.63 121.70 96.00 C123.65 96.37 125.57 96.40 127.50 96.40 C129.43 96.40 131.55 95.87 133.30 96.00 C135.05 96.13 136.43 96.52 138.00 97.20 C139.57 97.88 140.95 99.03 142.70 100.10 C144.45 101.17 146.57 102.72 148.50 103.60 C150.43 104.48 152.35 105.07 154.30 105.40 C156.25 105.73 158.25 105.68 160.20 105.60 C162.15 105.52 164.03 105.43 166.00 104.90 C167.97 104.37 169.83 103.50 172.00 102.40 C174.17 101.30 176.67 99.63 179.00 98.30 C181.33 96.97 183.67 95.53 186.00 94.40 C188.33 93.27 190.67 92.30 193.00 91.50 C195.33 90.70 197.88 90.07 200.00 89.60 C202.12 89.13 203.87 89.08 205.70 88.70 C207.53 88.32 209.23 87.97 211.00 87.30 C212.77 86.63 214.52 85.80 216.30 84.70 C218.08 83.60 219.92 82.15 221.70 80.70 C223.48 79.25 225.45 77.30 227.00 76.00 C228.55 74.70 229.67 73.67 231.00 72.90 C232.33 72.13 233.67 71.60 235.00 71.40 C236.33 71.20 237.45 71.27 239.00 71.70 C240.55 72.13 242.75 73.07 244.30 74.00 C245.85 74.93 246.97 76.08 248.30 77.30 C249.63 78.52 251.02 80.02 252.30 81.30 C253.58 82.58 254.72 84.05 256.00 85.00 C257.28 85.95 258.67 86.58 260.00 87.00 C261.33 87.42 262.67 87.33 264.00 87.50 C265.33 87.67 266.75 87.67 268.00 88.00 C269.25 88.33 270.33 88.67 271.50 89.50 C272.67 90.33 273.75 91.50 275.00 93.00 C276.25 94.50 277.43 96.40 279.00 98.50 C280.57 100.60 282.90 103.93 284.40 105.60 C285.90 107.27 286.90 107.83 288.00 108.50 C289.10 109.17 290.50 109.42 291.00 109.60" fill="none" stroke="#e8201c" stroke-width="1.40" stroke-linejoin="round"/>
<g fill="none" stroke="#a0a0ec" stroke-width="0.70"><circle cx="23.7" cy="163.7" r="1.4"/><circle cx="25.8" cy="161.4" r="1.4"/><circle cx="27.1" cy="169.6" r="1.4"/><circle cx="28.2" cy="161.5" r="1.4"/><circle cx="29.2" cy="159.5" r="1.4"/><circle cx="31.2" cy="160.4" r="1.4"/><circle cx="32.8" cy="158.5" r="1.4"/><circle cx="33.6" cy="161.4" r="1.4"/><circle cx="35.3" cy="157.0" r="1.4"/><circle cx="36.7" cy="159.8" r="1.4"/><circle cx="37.8" cy="157.3" r="1.4"/><circle cx="39.2" cy="163.8" r="1.4"/><circle cx="40.5" cy="159.1" r="1.4"/><circle cx="42.7" cy="160.3" r="1.4"/><circle cx="43.1" cy="164.4" r="1.4"/><circle cx="45.1" cy="163.4" r="1.4"/><circle cx="46.5" cy="161.2" r="1.4"/><circle cx="48.3" cy="160.7" r="1.4"/><circle cx="49.6" cy="163.3" r="1.4"/><circle cx="51.0" cy="158.8" r="1.4"/><circle cx="52.5" cy="160.6" r="1.4"/><circle cx="53.3" cy="160.1" r="1.4"/><circle cx="55.1" cy="160.8" r="1.4"/><circle cx="56.2" cy="164.0" r="1.4"/><circle cx="58.1" cy="158.8" r="1.4"/><circle cx="59.1" cy="158.1" r="1.4"/><circle cx="60.5" cy="160.1" r="1.4"/><circle cx="62.1" cy="162.8" r="1.4"/><circle cx="63.2" cy="157.6" r="1.4"/><circle cx="64.9" cy="158.0" r="1.4"/><circle cx="66.3" cy="154.0" r="1.4"/><circle cx="67.3" cy="155.5" r="1.4"/><circle cx="68.9" cy="156.8" r="1.4"/><circle cx="70.6" cy="163.5" r="1.4"/><circle cx="71.2" cy="154.9" r="1.4"/><circle cx="72.9" cy="158.7" r="1.4"/><circle cx="74.3" cy="157.0" r="1.4"/><circle cx="75.3" cy="154.9" r="1.4"/><circle cx="77.2" cy="158.0" r="1.4"/><circle cx="78.5" cy="153.8" r="1.4"/><circle cx="80.5" cy="148.0" r="1.4"/><circle cx="81.7" cy="157.8" r="1.4"/><circle cx="82.6" cy="158.3" r="1.4"/><circle cx="84.1" cy="151.1" r="1.4"/><circle cx="85.4" cy="154.8" r="1.4"/><circle cx="86.6" cy="151.4" r="1.4"/><circle cx="88.8" cy="158.1" r="1.4"/><circle cx="90.3" cy="152.6" r="1.4"/><circle cx="91.4" cy="153.6" r="1.4"/><circle cx="92.8" cy="153.5" r="1.4"/><circle cx="93.7" cy="149.1" r="1.4"/><circle cx="95.1" cy="150.6" r="1.4"/><circle cx="96.4" cy="154.6" r="1.4"/><circle cx="98.1" cy="149.7" r="1.4"/><circle cx="99.2" cy="149.4" r="1.4"/><circle cx="100.7" cy="153.7" r="1.4"/><circle cx="102.7" cy="150.3" r="1.4"/><circle cx="104.1" cy="150.4" r="1.4"/><circle cx="104.8" cy="154.6" r="1.4"/><circle cx="107.1" cy="153.0" r="1.4"/><circle cx="108.3" cy="147.7" r="1.4"/><circle cx="109.6" cy="155.4" r="1.4"/><circle cx="111.0" cy="151.5" r="1.4"/><circle cx="111.9" cy="162.1" r="1.4"/><circle cx="113.5" cy="155.3" r="1.4"/><circle cx="115.4" cy="154.5" r="1.4"/><circle cx="116.5" cy="149.8" r="1.4"/><circle cx="117.8" cy="154.1" r="1.4"/><circle cx="119.3" cy="154.0" r="1.4"/><circle cx="120.8" cy="159.3" r="1.4"/><circle cx="121.9" cy="158.9" r="1.4"/><circle cx="123.2" cy="156.5" r="1.4"/><circle cx="124.8" cy="160.3" r="1.4"/><circle cx="126.0" cy="155.4" r="1.4"/><circle cx="127.2" cy="161.6" r="1.4"/><circle cx="128.8" cy="161.1" r="1.4"/><circle cx="130.9" cy="166.7" r="1.4"/><circle cx="131.9" cy="169.4" r="1.4"/><circle cx="133.4" cy="171.2" r="1.4"/><circle cx="134.7" cy="167.6" r="1.4"/><circle cx="135.9" cy="170.9" r="1.4"/><circle cx="137.7" cy="170.3" r="1.4"/><circle cx="138.5" cy="161.4" r="1.4"/><circle cx="139.8" cy="169.1" r="1.4"/><circle cx="141.7" cy="163.9" r="1.4"/><circle cx="143.3" cy="162.8" r="1.4"/><circle cx="144.8" cy="163.7" r="1.4"/><circle cx="146.0" cy="168.2" r="1.4"/><circle cx="147.2" cy="173.9" r="1.4"/><circle cx="148.3" cy="167.2" r="1.4"/><circle cx="149.6" cy="165.5" r="1.4"/><circle cx="151.8" cy="169.2" r="1.4"/><circle cx="153.1" cy="168.3" r="1.4"/><circle cx="153.8" cy="168.7" r="1.4"/><circle cx="155.3" cy="166.2" r="1.4"/><circle cx="156.9" cy="169.3" r="1.4"/><circle cx="158.5" cy="169.2" r="1.4"/><circle cx="160.1" cy="165.6" r="1.4"/><circle cx="161.1" cy="169.2" r="1.4"/><circle cx="162.6" cy="168.1" r="1.4"/><circle cx="163.8" cy="171.3" r="1.4"/><circle cx="165.7" cy="165.1" r="1.4"/><circle cx="166.7" cy="167.1" r="1.4"/><circle cx="167.8" cy="166.7" r="1.4"/><circle cx="169.5" cy="168.7" r="1.4"/><circle cx="170.7" cy="166.0" r="1.4"/><circle cx="172.5" cy="167.9" r="1.4"/><circle cx="174.2" cy="170.3" r="1.4"/><circle cx="174.7" cy="163.6" r="1.4"/><circle cx="176.6" cy="169.0" r="1.4"/><circle cx="177.7" cy="168.7" r="1.4"/><circle cx="179.5" cy="167.5" r="1.4"/><circle cx="180.9" cy="163.6" r="1.4"/><circle cx="182.7" cy="160.0" r="1.4"/><circle cx="183.8" cy="167.5" r="1.4"/><circle cx="185.0" cy="164.9" r="1.4"/><circle cx="186.7" cy="160.7" r="1.4"/><circle cx="187.5" cy="159.4" r="1.4"/><circle cx="189.4" cy="161.9" r="1.4"/><circle cx="190.5" cy="161.2" r="1.4"/><circle cx="191.6" cy="160.2" r="1.4"/><circle cx="193.3" cy="158.2" r="1.4"/><circle cx="194.7" cy="160.0" r="1.4"/><circle cx="195.7" cy="164.1" r="1.4"/><circle cx="197.1" cy="158.3" r="1.4"/><circle cx="199.4" cy="158.2" r="1.4"/><circle cx="200.0" cy="160.4" r="1.4"/><circle cx="201.7" cy="158.6" r="1.4"/><circle cx="203.6" cy="155.6" r="1.4"/><circle cx="205.1" cy="157.6" r="1.4"/><circle cx="206.1" cy="153.8" r="1.4"/><circle cx="207.2" cy="152.3" r="1.4"/><circle cx="208.5" cy="146.9" r="1.4"/><circle cx="209.7" cy="146.3" r="1.4"/><circle cx="211.2" cy="148.0" r="1.4"/><circle cx="213.0" cy="148.2" r="1.4"/><circle cx="214.2" cy="146.1" r="1.4"/><circle cx="216.3" cy="144.1" r="1.4"/><circle cx="217.6" cy="139.7" r="1.4"/><circle cx="219.1" cy="143.5" r="1.4"/><circle cx="220.4" cy="141.3" r="1.4"/><circle cx="221.3" cy="143.8" r="1.4"/><circle cx="223.0" cy="144.1" r="1.4"/><circle cx="224.5" cy="144.3" r="1.4"/><circle cx="225.6" cy="140.7" r="1.4"/><circle cx="226.6" cy="144.8" r="1.4"/><circle cx="228.1" cy="143.0" r="1.4"/><circle cx="230.0" cy="139.5" r="1.4"/><circle cx="231.5" cy="139.0" r="1.4"/><circle cx="232.8" cy="142.5" r="1.4"/><circle cx="234.3" cy="140.8" r="1.4"/><circle cx="235.7" cy="142.2" r="1.4"/><circle cx="236.7" cy="138.1" r="1.4"/><circle cx="238.4" cy="141.3" r="1.4"/><circle cx="239.4" cy="145.9" r="1.4"/><circle cx="241.3" cy="143.8" r="1.4"/><circle cx="242.8" cy="146.5" r="1.4"/><circle cx="243.8" cy="142.2" r="1.4"/><circle cx="245.2" cy="145.8" r="1.4"/><circle cx="246.2" cy="155.8" r="1.4"/><circle cx="247.8" cy="146.3" r="1.4"/><circle cx="249.1" cy="160.4" r="1.4"/><circle cx="250.7" cy="155.8" r="1.4"/><circle cx="252.5" cy="159.1" r="1.4"/><circle cx="253.7" cy="166.6" r="1.4"/><circle cx="255.5" cy="165.3" r="1.4"/><circle cx="256.5" cy="168.7" r="1.4"/><circle cx="257.8" cy="168.0" r="1.4"/><circle cx="259.5" cy="172.8" r="1.4"/><circle cx="260.4" cy="173.5" r="1.4"/><circle cx="261.5" cy="177.2" r="1.4"/><circle cx="263.7" cy="169.2" r="1.4"/><circle cx="264.9" cy="171.1" r="1.4"/><circle cx="266.7" cy="182.4" r="1.4"/><circle cx="267.3" cy="178.6" r="1.4"/><circle cx="269.5" cy="181.0" r="1.4"/><circle cx="270.4" cy="180.9" r="1.4"/><circle cx="272.0" cy="178.6" r="1.4"/><circle cx="272.7" cy="177.1" r="1.4"/><circle cx="274.4" cy="178.5" r="1.4"/><circle cx="275.6" cy="180.0" r="1.4"/><circle cx="277.8" cy="182.0" r="1.4"/><circle cx="279.0" cy="171.6" r="1.4"/><circle cx="280.5" cy="179.5" r="1.4"/><circle cx="281.5" cy="180.0" r="1.4"/><circle cx="283.3" cy="180.5" r="1.4"/><circle cx="284.8" cy="181.0" r="1.4"/><circle cx="285.6" cy="188.4" r="1.4"/><circle cx="287.0" cy="183.0" r="1.4"/><circle cx="288.3" cy="183.5" r="1.4"/></g>
<path d="M41.40 164.47 L42.40 164.45 L43.40 164.43 L44.40 164.41 L45.40 164.39 L46.40 164.36 L47.40 164.33 L48.40 164.29 L49.40 164.25 L50.40 164.20 L51.40 164.15 L52.40 164.09 L53.40 164.02 L54.40 163.95 L55.40 163.87 L56.40 163.78 L57.40 163.67 L58.40 163.56 L59.40 163.44 L60.40 163.32 L61.40 163.22 L62.40 163.11 L63.40 162.98 L64.40 162.84 L65.40 162.68 L66.40 162.51 L67.40 162.32 L68.40 162.12 L69.40 161.89 L70.40 161.66 L71.40 161.40 L72.40 161.13 L73.40 160.85 L74.40 160.55 L75.40 160.23 L76.40 159.91 L77.40 159.57 L78.40 159.21 L79.40 158.85 L80.40 158.49 L81.40 158.11 L82.40 157.74 L83.40 157.36 L84.40 156.98 L85.40 156.61 L86.40 156.25 L87.40 155.90 L88.40 155.56 L89.40 155.25 L90.40 154.95 L91.40 154.68 L92.40 154.44 L93.40 154.24 L94.40 154.07 L95.40 153.94 L96.40 153.85 L97.40 153.81 L98.40 153.82 L99.40 153.87 L100.40 153.97 L101.40 154.11 L102.40 154.29 L103.40 154.52 L104.40 154.79 L105.40 155.09 L106.40 155.42 L107.40 155.79 L108.40 156.18 L109.40 156.59 L110.40 157.02 L111.40 157.47 L112.40 157.93 L113.40 158.40 L114.40 158.88 L115.40 159.35 L116.40 159.84 L117.40 160.31 L118.40 160.79 L119.40 161.26 L120.40 161.72 L121.40 162.17 L122.40 162.62 L123.40 163.05 L124.40 163.46 L125.40 163.87 L126.40 164.26 L127.40 164.63 L128.40 164.99 L129.40 165.34 L130.40 165.67 L131.40 165.98 L132.40 166.28 L133.40 166.56 L134.40 166.83 L135.40 167.09 L136.40 167.33 L137.40 167.55 L138.40 167.77 L139.40 167.97 L140.40 168.17 L141.40 168.36 L142.40 168.55 L143.40 168.72 L144.40 168.89 L145.40 169.05 L146.40 169.20 L147.40 169.34 L148.40 169.48 L149.40 169.61 L150.40 169.74 L151.40 169.86 L152.40 169.98 L153.40 170.09 L154.40 170.20 L155.40 170.31 L156.40 170.41 L157.40 170.51 L157.40 171.07 L156.40 171.00 L155.40 170.93 L154.40 170.85 L153.40 170.78 L152.40 170.71 L151.40 170.63 L150.40 170.56 L149.40 170.49 L148.40 170.42 L147.40 170.34 L146.40 170.27 L145.40 170.20 L144.40 170.12 L143.40 170.05 L142.40 169.98 L141.40 169.90 L140.40 169.83 L139.40 169.77 L138.40 169.71 L137.40 169.65 L136.40 169.59 L135.40 169.54 L134.40 169.48 L133.40 169.42 L132.40 169.36 L131.40 169.31 L130.40 169.25 L129.40 169.19 L128.40 169.13 L127.40 169.08 L126.40 169.02 L125.40 168.96 L124.40 168.90 L123.40 168.85 L122.40 168.79 L121.40 168.73 L120.40 168.67 L119.40 168.62 L118.40 168.56 L117.40 168.50 L116.40 168.44 L115.40 168.39 L114.40 168.33 L113.40 168.27 L112.40 168.21 L111.40 168.16 L110.40 168.10 L109.40 168.04 L108.40 167.98 L107.40 167.93 L106.40 167.87 L105.40 167.81 L104.40 167.75 L103.40 167.70 L102.40 167.64 L101.40 167.58 L100.40 167.52 L99.40 167.47 L98.40 167.41 L97.40 167.35 L96.40 167.29 L95.40 167.24 L94.40 167.18 L93.40 167.12 L92.40 167.06 L91.40 167.01 L90.40 166.95 L89.40 166.89 L88.40 166.83 L87.40 166.78 L86.40 166.72 L85.40 166.66 L84.40 166.60 L83.40 166.55 L82.40 166.49 L81.40 166.43 L80.40 166.37 L79.40 166.32 L78.40 166.26 L77.40 166.20 L76.40 166.14 L75.40 166.09 L74.40 166.03 L73.40 165.97 L72.40 165.91 L71.40 165.86 L70.40 165.80 L69.40 165.74 L68.40 165.68 L67.40 165.63 L66.40 165.57 L65.40 165.51 L64.40 165.45 L63.40 165.40 L62.40 165.34 L61.40 165.28 L60.40 165.22 L59.40 165.19 L58.40 165.18 L57.40 165.17 L56.40 165.16 L55.40 165.15 L54.40 165.14 L53.40 165.13 L52.40 165.12 L51.40 165.11 L50.40 165.10 L49.40 165.09 L48.40 165.08 L47.40 165.07 L46.40 165.06 L45.40 165.05 L44.40 165.04 L43.40 165.03 L42.40 165.02 L41.40 165.01 Z" fill="url(#g8)"/>
<path d="M181.00 171.68 L182.00 171.72 L183.00 171.74 L184.00 171.76 L185.00 171.76 L186.00 171.75 L187.00 171.73 L188.00 171.69 L189.00 171.62 L190.00 171.54 L191.00 171.42 L192.00 171.28 L193.00 171.11 L194.00 170.91 L195.00 170.67 L196.00 170.39 L197.00 170.07 L198.00 169.70 L199.00 169.28 L200.00 168.81 L201.00 168.29 L202.00 167.71 L203.00 167.07 L204.00 166.37 L205.00 165.62 L206.00 164.81 L207.00 163.94 L208.00 163.01 L209.00 162.03 L210.00 161.00 L211.00 159.97 L212.00 158.89 L213.00 157.79 L214.00 156.66 L215.00 155.51 L216.00 154.37 L217.00 153.22 L218.00 152.10 L219.00 151.01 L220.00 149.97 L221.00 149.00 L222.00 148.10 L223.00 147.30 L224.00 146.61 L225.00 146.05 L226.00 145.64 L227.00 145.37 L228.00 145.28 L229.00 145.34 L230.00 145.55 L231.00 145.84 L232.00 146.22 L233.00 146.69 L234.00 147.24 L235.00 147.87 L236.00 148.57 L237.00 149.34 L238.00 150.17 L239.00 151.06 L240.00 152.00 L241.00 152.97 L242.00 153.99 L243.00 155.03 L244.00 156.10 L245.00 157.19 L246.00 158.29 L247.00 159.39 L248.00 160.50 L249.00 161.61 L250.00 162.71 L251.00 163.74 L252.00 164.76 L253.00 165.76 L254.00 166.75 L255.00 167.71 L256.00 168.64 L257.00 169.55 L258.00 170.44 L259.00 171.29 L260.00 172.12 L261.00 172.91 L262.00 173.67 L263.00 174.40 L264.00 175.10 L265.00 175.77 L266.00 176.41 L267.00 177.02 L268.00 177.59 L269.00 178.14 L270.00 178.66 L271.00 179.15 L272.00 179.61 L273.00 180.05 L274.00 180.47 L275.00 180.86 L276.00 181.23 L277.00 181.58 L278.00 181.91 L279.00 182.22 L280.00 182.51 L281.00 182.79 L282.00 183.05 L283.00 183.30 L284.00 183.54 L285.00 183.76 L286.00 183.98 L287.00 184.18 L288.00 184.38 L289.00 184.57 L290.00 184.74 L291.00 184.92 L292.00 185.08 L293.00 185.15 L294.00 185.21 L294.00 186.60 L293.00 186.60 L292.00 186.60 L291.00 186.50 L290.00 186.41 L289.00 186.31 L288.00 186.22 L287.00 186.12 L286.00 186.03 L285.00 185.93 L284.00 185.84 L283.00 185.74 L282.00 185.65 L281.00 185.55 L280.00 185.46 L279.00 185.36 L278.00 185.27 L277.00 185.17 L276.00 185.08 L275.00 184.98 L274.00 184.89 L273.00 184.79 L272.00 184.70 L271.00 184.60 L270.00 184.50 L269.00 184.41 L268.00 184.31 L267.00 184.22 L266.00 184.12 L265.00 184.03 L264.00 183.93 L263.00 183.84 L262.00 183.74 L261.00 183.65 L260.00 183.55 L259.00 183.46 L258.00 183.36 L257.00 183.27 L256.00 183.17 L255.00 183.08 L254.00 182.98 L253.00 182.89 L252.00 182.79 L251.00 182.70 L250.00 182.60 L249.00 182.44 L248.00 182.29 L247.00 182.13 L246.00 181.98 L245.00 181.82 L244.00 181.67 L243.00 181.51 L242.00 181.36 L241.00 181.20 L240.00 181.05 L239.00 180.90 L238.00 180.74 L237.00 180.59 L236.00 180.43 L235.00 180.28 L234.00 180.12 L233.00 179.97 L232.00 179.81 L231.00 179.66 L230.00 179.50 L229.00 179.34 L228.00 179.19 L227.00 179.03 L226.00 178.88 L225.00 178.72 L224.00 178.57 L223.00 178.41 L222.00 178.26 L221.00 178.10 L220.00 177.95 L219.00 177.80 L218.00 177.64 L217.00 177.49 L216.00 177.33 L215.00 177.18 L214.00 177.02 L213.00 176.87 L212.00 176.71 L211.00 176.56 L210.00 176.40 L209.00 176.28 L208.00 176.17 L207.00 176.05 L206.00 175.94 L205.00 175.82 L204.00 175.70 L203.00 175.59 L202.00 175.47 L201.00 175.36 L200.00 175.24 L199.00 175.12 L198.00 175.01 L197.00 174.89 L196.00 174.78 L195.00 174.66 L194.00 174.54 L193.00 174.43 L192.00 174.31 L191.00 174.20 L190.00 174.08 L189.00 173.97 L188.00 173.85 L187.00 173.73 L186.00 173.62 L185.00 173.50 L184.00 173.39 L183.00 173.27 L182.00 173.15 L181.00 173.04 Z" fill="url(#g9)"/>
<path d="M20.00 164.78 L21.00 164.78 L22.00 164.78 L23.00 164.79 L24.00 164.79 L25.00 164.80 L26.00 164.80 L27.00 164.80 L28.00 164.80 L29.00 164.80 L30.00 164.80 L31.00 164.80 L32.00 164.80 L33.00 164.79 L34.00 164.78 L35.00 164.77 L36.00 164.76 L37.00 164.75 L38.00 164.73 L39.00 164.71 L40.00 164.69 L41.00 164.67 L42.00 164.64 L43.00 164.61 L44.00 164.58 L45.00 164.54 L46.00 164.50 L47.00 164.45 L48.00 164.40 L49.00 164.35 L50.00 164.30 L51.00 164.24 L52.00 164.17 L53.00 164.11 L54.00 164.03 L55.00 163.96 L56.00 163.88 L57.00 163.80 L58.00 163.72 L59.00 163.63 L60.00 163.55 L61.00 163.50 L62.00 163.46 L63.00 163.41 L64.00 163.37 L65.00 163.32 L66.00 163.28 L67.00 163.23 L68.00 163.19 L69.00 163.15 L70.00 163.11 L71.00 163.08 L72.00 163.05 L73.00 163.02 L74.00 163.00 L75.00 162.99 L76.00 162.98 L77.00 162.98 L78.00 162.98 L79.00 163.00 L80.00 163.02 L81.00 163.05 L82.00 163.08 L83.00 163.13 L84.00 163.18 L85.00 163.24 L86.00 163.31 L87.00 163.39 L88.00 163.48 L89.00 163.57 L90.00 163.67 L91.00 163.78 L92.00 163.90 L93.00 164.02 L94.00 164.15 L95.00 164.29 L96.00 164.43 L97.00 164.57 L98.00 164.72 L99.00 164.88 L100.00 165.03 L101.00 165.19 L102.00 165.35 L103.00 165.51 L104.00 165.67 L105.00 165.83 L106.00 165.99 L107.00 166.15 L108.00 166.31 L109.00 166.46 L110.00 166.61 L111.00 166.77 L112.00 166.91 L113.00 167.06 L114.00 167.20 L115.00 167.34 L116.00 167.47 L117.00 167.61 L118.00 167.73 L119.00 167.86 L120.00 167.98 L121.00 168.09 L122.00 168.21 L123.00 168.31 L124.00 168.42 L125.00 168.52 L126.00 168.62 L127.00 168.72 L128.00 168.81 L129.00 168.90 L130.00 168.98 L131.00 169.07 L132.00 169.15 L133.00 169.23 L134.00 169.31 L135.00 169.38 L136.00 169.45 L137.00 169.53 L138.00 169.60 L139.00 169.66 L140.00 169.73 L141.00 169.81 L142.00 169.90 L143.00 169.98 L144.00 170.06 L145.00 170.13 L146.00 170.21 L147.00 170.29 L148.00 170.37 L148.00 170.39 L147.00 170.31 L146.00 170.24 L145.00 170.17 L144.00 170.09 L143.00 170.02 L142.00 169.95 L141.00 169.87 L140.00 169.80 L139.00 169.74 L138.00 169.69 L137.00 169.63 L136.00 169.57 L135.00 169.51 L134.00 169.46 L133.00 169.40 L132.00 169.34 L131.00 169.28 L130.00 169.23 L129.00 169.17 L128.00 169.11 L127.00 169.05 L126.00 169.00 L125.00 168.94 L124.00 168.88 L123.00 168.82 L122.00 168.77 L121.00 168.71 L120.00 168.65 L119.00 168.59 L118.00 168.53 L117.00 168.48 L116.00 168.42 L115.00 168.36 L114.00 168.31 L113.00 168.25 L112.00 168.19 L111.00 168.13 L110.00 168.07 L109.00 168.02 L108.00 167.96 L107.00 167.90 L106.00 167.84 L105.00 167.79 L104.00 167.73 L103.00 167.67 L102.00 167.62 L101.00 167.56 L100.00 167.50 L99.00 167.44 L98.00 167.38 L97.00 167.33 L96.00 167.27 L95.00 167.21 L94.00 167.16 L93.00 167.10 L92.00 167.04 L91.00 166.98 L90.00 166.93 L89.00 166.87 L88.00 166.81 L87.00 166.75 L86.00 166.69 L85.00 166.64 L84.00 166.58 L83.00 166.52 L82.00 166.47 L81.00 166.41 L80.00 166.35 L79.00 166.29 L78.00 166.23 L77.00 166.18 L76.00 166.12 L75.00 166.06 L74.00 166.00 L73.00 165.95 L72.00 165.89 L71.00 165.83 L70.00 165.77 L69.00 165.72 L68.00 165.66 L67.00 165.60 L66.00 165.54 L65.00 165.49 L64.00 165.43 L63.00 165.37 L62.00 165.31 L61.00 165.26 L60.00 165.20 L59.00 165.19 L58.00 165.18 L57.00 165.17 L56.00 165.16 L55.00 165.15 L54.00 165.14 L53.00 165.13 L52.00 165.12 L51.00 165.11 L50.00 165.10 L49.00 165.09 L48.00 165.08 L47.00 165.07 L46.00 165.06 L45.00 165.05 L44.00 165.04 L43.00 165.03 L42.00 165.02 L41.00 165.01 L40.00 164.99 L39.00 164.98 L38.00 164.97 L37.00 164.96 L36.00 164.95 L35.00 164.94 L34.00 164.93 L33.00 164.92 L32.00 164.91 L31.00 164.90 L30.00 164.89 L29.00 164.88 L28.00 164.87 L27.00 164.86 L26.00 164.85 L25.00 164.84 L24.00 164.83 L23.00 164.82 L22.00 164.81 L21.00 164.80 L20.00 164.80 Z" fill="url(#g10)"/>
<path d="M140.00 169.74 L141.00 169.80 L142.00 169.86 L143.00 169.92 L144.00 169.98 L145.00 170.03 L146.00 170.08 L147.00 170.13 L148.00 170.18 L149.00 170.22 L150.00 170.26 L151.00 170.29 L152.00 170.32 L153.00 170.35 L154.00 170.36 L155.00 170.38 L156.00 170.38 L157.00 170.38 L158.00 170.37 L159.00 170.36 L160.00 170.33 L161.00 170.30 L162.00 170.25 L163.00 170.20 L164.00 170.14 L165.00 170.06 L166.00 169.98 L167.00 169.88 L168.00 169.77 L169.00 169.65 L170.00 169.52 L171.00 169.38 L172.00 169.22 L173.00 169.06 L174.00 168.88 L175.00 168.69 L176.00 168.52 L177.00 168.35 L178.00 168.18 L179.00 168.00 L180.00 167.81 L181.00 167.62 L182.00 167.42 L183.00 167.22 L184.00 167.02 L185.00 166.81 L186.00 166.61 L187.00 166.42 L188.00 166.22 L189.00 166.04 L190.00 165.86 L191.00 165.70 L192.00 165.54 L193.00 165.40 L194.00 165.28 L195.00 165.17 L196.00 165.08 L197.00 165.02 L198.00 164.97 L199.00 164.95 L200.00 164.95 L201.00 164.97 L202.00 165.02 L203.00 165.10 L204.00 165.20 L205.00 165.33 L206.00 165.49 L207.00 165.68 L208.00 165.90 L209.00 166.14 L210.00 166.41 L211.00 166.74 L212.00 167.10 L213.00 167.48 L214.00 167.88 L215.00 168.30 L216.00 168.73 L217.00 169.18 L218.00 169.64 L219.00 170.11 L220.00 170.58 L221.00 171.07 L222.00 171.56 L223.00 172.05 L224.00 172.54 L225.00 173.02 L226.00 173.51 L227.00 173.99 L228.00 174.46 L229.00 174.93 L230.00 175.38 L231.00 175.83 L232.00 176.27 L233.00 176.69 L234.00 177.10 L235.00 177.50 L236.00 177.89 L237.00 178.26 L238.00 178.62 L239.00 178.97 L240.00 179.31 L241.00 179.63 L242.00 179.94 L243.00 180.24 L244.00 180.53 L245.00 180.80 L246.00 181.07 L247.00 181.32 L248.00 181.57 L249.00 181.81 L250.00 182.04 L251.00 182.20 L252.00 182.36 L253.00 182.51 L254.00 182.65 L255.00 182.79 L256.00 182.92 L257.00 183.05 L258.00 183.18 L259.00 183.30 L260.00 183.42 L261.00 183.53 L262.00 183.64 L263.00 183.75 L264.00 183.86 L264.00 183.93 L263.00 183.84 L262.00 183.74 L261.00 183.65 L260.00 183.55 L259.00 183.46 L258.00 183.36 L257.00 183.27 L256.00 183.17 L255.00 183.08 L254.00 182.98 L253.00 182.89 L252.00 182.79 L251.00 182.70 L250.00 182.60 L249.00 182.44 L248.00 182.29 L247.00 182.13 L246.00 181.98 L245.00 181.82 L244.00 181.67 L243.00 181.51 L242.00 181.36 L241.00 181.20 L240.00 181.05 L239.00 180.90 L238.00 180.74 L237.00 180.59 L236.00 180.43 L235.00 180.28 L234.00 180.12 L233.00 179.97 L232.00 179.81 L231.00 179.66 L230.00 179.50 L229.00 179.34 L228.00 179.19 L227.00 179.03 L226.00 178.88 L225.00 178.72 L224.00 178.57 L223.00 178.41 L222.00 178.26 L221.00 178.10 L220.00 177.95 L219.00 177.80 L218.00 177.64 L217.00 177.49 L216.00 177.33 L215.00 177.18 L214.00 177.02 L213.00 176.87 L212.00 176.71 L211.00 176.56 L210.00 176.40 L209.00 176.28 L208.00 176.17 L207.00 176.05 L206.00 175.94 L205.00 175.82 L204.00 175.70 L203.00 175.59 L202.00 175.47 L201.00 175.36 L200.00 175.24 L199.00 175.12 L198.00 175.01 L197.00 174.89 L196.00 174.78 L195.00 174.66 L194.00 174.54 L193.00 174.43 L192.00 174.31 L191.00 174.20 L190.00 174.08 L189.00 173.97 L188.00 173.85 L187.00 173.73 L186.00 173.62 L185.00 173.50 L184.00 173.39 L183.00 173.27 L182.00 173.15 L181.00 173.04 L180.00 172.92 L179.00 172.81 L178.00 172.69 L177.00 172.57 L176.00 172.46 L175.00 172.36 L174.00 172.29 L173.00 172.22 L172.00 172.14 L171.00 172.07 L170.00 172.00 L169.00 171.92 L168.00 171.85 L167.00 171.78 L166.00 171.70 L165.00 171.63 L164.00 171.56 L163.00 171.48 L162.00 171.41 L161.00 171.34 L160.00 171.26 L159.00 171.19 L158.00 171.12 L157.00 171.05 L156.00 170.97 L155.00 170.90 L154.00 170.83 L153.00 170.75 L152.00 170.68 L151.00 170.61 L150.00 170.53 L149.00 170.46 L148.00 170.39 L147.00 170.31 L146.00 170.24 L145.00 170.17 L144.00 170.09 L143.00 170.02 L142.00 169.95 L141.00 169.87 L140.00 169.80 Z" fill="url(#g11)"/>
<path d="M21.00 164.80 C27.50 164.87 46.83 164.75 60.00 165.20 C73.17 165.65 86.67 166.73 100.00 167.50 C113.33 168.27 127.42 168.98 140.00 169.80 C152.58 170.62 163.83 171.30 175.50 172.40 C187.17 173.50 197.58 174.70 210.00 176.40 C222.42 178.10 236.33 180.90 250.00 182.60 C263.67 184.30 285.00 185.93 292.00 186.60" fill="none" stroke="#222250" stroke-width="1.00" stroke-linejoin="round"/>
<path d="M22.00 164.70 C25.00 164.58 35.00 164.32 40.00 164.00 C45.00 163.68 48.67 163.20 52.00 162.80 C55.33 162.40 57.32 162.13 60.00 161.60 C62.68 161.07 65.40 160.38 68.10 159.60 C70.80 158.82 73.50 157.73 76.20 156.90 C78.90 156.07 81.60 155.18 84.30 154.60 C87.00 154.02 89.70 153.60 92.40 153.40 C95.10 153.20 98.03 153.17 100.50 153.40 C102.97 153.63 104.95 154.12 107.20 154.80 C109.45 155.48 111.75 156.37 114.00 157.50 C116.25 158.63 118.45 160.35 120.70 161.60 C122.95 162.85 125.25 164.00 127.50 165.00 C129.75 166.00 132.12 167.00 134.20 167.60 C136.28 168.20 137.17 168.23 140.00 168.60 C142.83 168.97 147.53 169.57 151.20 169.80 C154.87 170.03 158.40 170.08 162.00 170.00 C165.60 169.92 169.43 169.75 172.80 169.30 C176.17 168.85 179.05 168.12 182.20 167.30 C185.35 166.48 188.77 165.52 191.70 164.40 C194.63 163.28 197.58 161.83 199.80 160.60 C202.02 159.37 203.30 158.35 205.00 157.00 C206.70 155.65 208.17 154.00 210.00 152.50 C211.83 151.00 214.00 149.35 216.00 148.00 C218.00 146.65 219.83 145.33 222.00 144.40 C224.17 143.47 226.67 142.53 229.00 142.40 C231.33 142.27 233.83 142.67 236.00 143.60 C238.17 144.53 240.17 146.10 242.00 148.00 C243.83 149.90 245.33 152.33 247.00 155.00 C248.67 157.67 250.17 161.17 252.00 164.00 C253.83 166.83 256.00 169.83 258.00 172.00 C260.00 174.17 261.67 175.40 264.00 177.00 C266.33 178.60 269.33 180.43 272.00 181.60 C274.67 182.77 276.83 183.27 280.00 184.00 C283.17 184.73 289.17 185.67 291.00 186.00" fill="none" stroke="#1a1a9a" stroke-width="1.60" stroke-linejoin="round"/>
<g fill="none" stroke="#9c9c9c" stroke-width="0.70"><circle cx="24.0" cy="220.7" r="1.4"/><circle cx="25.0" cy="220.0" r="1.4"/><circle cx="26.7" cy="219.8" r="1.4"/><circle cx="27.9" cy="219.6" r="1.4"/><circle cx="29.3" cy="220.1" r="1.4"/><circle cx="31.4" cy="219.2" r="1.4"/><circle cx="32.8" cy="222.2" r="1.4"/><circle cx="34.0" cy="224.7" r="1.4"/><circle cx="35.1" cy="224.9" r="1.4"/><circle cx="36.8" cy="221.7" r="1.4"/><circle cx="38.4" cy="220.4" r="1.4"/><circle cx="39.7" cy="223.7" r="1.4"/><circle cx="40.9" cy="222.3" r="1.4"/><circle cx="42.6" cy="220.8" r="1.4"/><circle cx="44.0" cy="221.9" r="1.4"/><circle cx="45.3" cy="219.9" r="1.4"/><circle cx="46.5" cy="219.6" r="1.4"/><circle cx="47.8" cy="215.8" r="1.4"/><circle cx="49.6" cy="214.4" r="1.4"/><circle cx="50.3" cy="218.4" r="1.4"/><circle cx="52.4" cy="223.0" r="1.4"/><circle cx="52.9" cy="222.7" r="1.4"/><circle cx="54.8" cy="223.2" r="1.4"/><circle cx="55.8" cy="223.3" r="1.4"/><circle cx="57.2" cy="218.9" r="1.4"/><circle cx="58.9" cy="220.7" r="1.4"/><circle cx="60.7" cy="223.9" r="1.4"/><circle cx="61.6" cy="218.8" r="1.4"/><circle cx="63.0" cy="216.1" r="1.4"/><circle cx="64.5" cy="217.4" r="1.4"/><circle cx="65.7" cy="212.1" r="1.4"/><circle cx="67.1" cy="217.8" r="1.4"/><circle cx="68.7" cy="219.4" r="1.4"/><circle cx="70.3" cy="215.2" r="1.4"/><circle cx="71.8" cy="210.6" r="1.4"/><circle cx="73.1" cy="216.1" r="1.4"/><circle cx="74.5" cy="215.2" r="1.4"/><circle cx="75.8" cy="215.1" r="1.4"/><circle cx="76.8" cy="211.5" r="1.4"/><circle cx="78.6" cy="216.1" r="1.4"/><circle cx="80.0" cy="214.0" r="1.4"/><circle cx="81.0" cy="214.8" r="1.4"/><circle cx="82.6" cy="215.7" r="1.4"/><circle cx="83.8" cy="215.5" r="1.4"/><circle cx="85.2" cy="213.2" r="1.4"/><circle cx="86.6" cy="214.2" r="1.4"/><circle cx="88.2" cy="212.0" r="1.4"/><circle cx="89.9" cy="214.0" r="1.4"/><circle cx="91.2" cy="213.1" r="1.4"/><circle cx="93.1" cy="208.9" r="1.4"/><circle cx="93.7" cy="212.3" r="1.4"/><circle cx="95.4" cy="210.0" r="1.4"/><circle cx="96.4" cy="212.9" r="1.4"/><circle cx="98.5" cy="209.7" r="1.4"/><circle cx="99.1" cy="208.7" r="1.4"/><circle cx="101.3" cy="212.5" r="1.4"/><circle cx="102.5" cy="210.9" r="1.4"/><circle cx="104.3" cy="210.3" r="1.4"/><circle cx="105.4" cy="207.5" r="1.4"/><circle cx="106.8" cy="207.6" r="1.4"/><circle cx="108.2" cy="212.3" r="1.4"/><circle cx="109.6" cy="212.4" r="1.4"/><circle cx="110.6" cy="213.8" r="1.4"/><circle cx="112.5" cy="216.2" r="1.4"/><circle cx="113.6" cy="216.9" r="1.4"/><circle cx="114.9" cy="213.8" r="1.4"/><circle cx="116.6" cy="216.3" r="1.4"/><circle cx="117.6" cy="222.8" r="1.4"/><circle cx="119.3" cy="218.9" r="1.4"/><circle cx="120.6" cy="221.2" r="1.4"/><circle cx="122.5" cy="221.1" r="1.4"/><circle cx="123.8" cy="227.2" r="1.4"/><circle cx="125.0" cy="223.1" r="1.4"/><circle cx="126.1" cy="221.2" r="1.4"/><circle cx="127.7" cy="223.5" r="1.4"/><circle cx="129.2" cy="225.8" r="1.4"/><circle cx="130.3" cy="223.8" r="1.4"/><circle cx="132.0" cy="226.0" r="1.4"/><circle cx="133.3" cy="229.3" r="1.4"/><circle cx="134.3" cy="228.0" r="1.4"/><circle cx="136.2" cy="226.6" r="1.4"/><circle cx="137.1" cy="228.6" r="1.4"/><circle cx="138.7" cy="228.4" r="1.4"/><circle cx="139.8" cy="230.8" r="1.4"/><circle cx="141.8" cy="231.3" r="1.4"/><circle cx="143.2" cy="231.8" r="1.4"/><circle cx="144.6" cy="227.4" r="1.4"/><circle cx="146.2" cy="230.3" r="1.4"/><circle cx="147.1" cy="231.0" r="1.4"/><circle cx="149.0" cy="228.4" r="1.4"/><circle cx="149.6" cy="227.6" r="1.4"/><circle cx="151.7" cy="226.2" r="1.4"/><circle cx="152.4" cy="232.2" r="1.4"/><circle cx="153.7" cy="227.0" r="1.4"/><circle cx="155.6" cy="227.4" r="1.4"/><circle cx="157.1" cy="226.2" r="1.4"/><circle cx="158.2" cy="228.0" r="1.4"/><circle cx="159.5" cy="225.6" r="1.4"/><circle cx="161.2" cy="228.7" r="1.4"/><circle cx="162.2" cy="230.7" r="1.4"/><circle cx="163.6" cy="230.7" r="1.4"/><circle cx="165.6" cy="230.6" r="1.4"/><circle cx="167.1" cy="229.3" r="1.4"/><circle cx="168.6" cy="231.3" r="1.4"/><circle cx="169.9" cy="226.6" r="1.4"/><circle cx="170.8" cy="231.5" r="1.4"/><circle cx="172.7" cy="224.8" r="1.4"/><circle cx="173.6" cy="229.6" r="1.4"/><circle cx="174.9" cy="228.0" r="1.4"/><circle cx="176.8" cy="225.6" r="1.4"/><circle cx="177.8" cy="224.9" r="1.4"/><circle cx="179.1" cy="224.9" r="1.4"/><circle cx="181.0" cy="225.2" r="1.4"/><circle cx="182.4" cy="228.4" r="1.4"/><circle cx="183.3" cy="230.4" r="1.4"/><circle cx="185.0" cy="226.8" r="1.4"/><circle cx="186.1" cy="224.1" r="1.4"/><circle cx="188.2" cy="224.7" r="1.4"/><circle cx="189.3" cy="227.3" r="1.4"/><circle cx="190.7" cy="222.3" r="1.4"/><circle cx="191.6" cy="222.6" r="1.4"/><circle cx="193.4" cy="221.8" r="1.4"/><circle cx="194.7" cy="219.4" r="1.4"/><circle cx="196.2" cy="220.1" r="1.4"/><circle cx="197.7" cy="222.4" r="1.4"/><circle cx="199.1" cy="223.9" r="1.4"/><circle cx="200.5" cy="216.1" r="1.4"/><circle cx="202.0" cy="216.2" r="1.4"/><circle cx="202.7" cy="220.8" r="1.4"/><circle cx="204.9" cy="217.5" r="1.4"/><circle cx="206.3" cy="217.7" r="1.4"/><circle cx="207.2" cy="213.1" r="1.4"/><circle cx="208.6" cy="214.9" r="1.4"/><circle cx="210.5" cy="213.4" r="1.4"/><circle cx="211.9" cy="208.6" r="1.4"/><circle cx="212.9" cy="209.4" r="1.4"/><circle cx="214.7" cy="208.1" r="1.4"/><circle cx="216.0" cy="210.9" r="1.4"/><circle cx="217.6" cy="211.5" r="1.4"/><circle cx="218.9" cy="206.9" r="1.4"/><circle cx="220.1" cy="208.2" r="1.4"/><circle cx="221.7" cy="202.3" r="1.4"/><circle cx="222.4" cy="201.2" r="1.4"/><circle cx="223.9" cy="197.9" r="1.4"/><circle cx="225.8" cy="207.4" r="1.4"/><circle cx="226.8" cy="206.9" r="1.4"/><circle cx="228.3" cy="200.7" r="1.4"/><circle cx="229.5" cy="200.5" r="1.4"/><circle cx="231.6" cy="201.9" r="1.4"/><circle cx="232.2" cy="199.8" r="1.4"/><circle cx="234.1" cy="203.0" r="1.4"/><circle cx="235.6" cy="203.1" r="1.4"/><circle cx="237.2" cy="205.2" r="1.4"/><circle cx="238.1" cy="205.7" r="1.4"/><circle cx="240.1" cy="205.8" r="1.4"/><circle cx="240.9" cy="211.2" r="1.4"/><circle cx="242.2" cy="216.6" r="1.4"/><circle cx="244.2" cy="216.8" r="1.4"/><circle cx="244.9" cy="218.3" r="1.4"/><circle cx="246.4" cy="221.8" r="1.4"/><circle cx="248.0" cy="225.6" r="1.4"/><circle cx="249.0" cy="231.7" r="1.4"/><circle cx="250.5" cy="230.8" r="1.4"/><circle cx="252.3" cy="236.4" r="1.4"/><circle cx="254.0" cy="235.0" r="1.4"/><circle cx="255.2" cy="241.2" r="1.4"/><circle cx="256.4" cy="243.8" r="1.4"/><circle cx="257.9" cy="245.6" r="1.4"/><circle cx="259.3" cy="245.9" r="1.4"/><circle cx="260.8" cy="246.8" r="1.4"/><circle cx="262.5" cy="247.6" r="1.4"/><circle cx="263.2" cy="247.5" r="1.4"/><circle cx="264.9" cy="248.2" r="1.4"/><circle cx="266.6" cy="253.6" r="1.4"/><circle cx="268.0" cy="248.0" r="1.4"/><circle cx="268.5" cy="249.4" r="1.4"/><circle cx="269.9" cy="253.5" r="1.4"/><circle cx="272.0" cy="252.8" r="1.4"/><circle cx="273.0" cy="251.9" r="1.4"/><circle cx="274.6" cy="253.9" r="1.4"/><circle cx="276.4" cy="252.1" r="1.4"/><circle cx="277.2" cy="254.2" r="1.4"/><circle cx="278.8" cy="257.5" r="1.4"/><circle cx="280.2" cy="250.5" r="1.4"/><circle cx="281.6" cy="253.4" r="1.4"/><circle cx="282.7" cy="255.2" r="1.4"/><circle cx="284.0" cy="253.9" r="1.4"/><circle cx="286.0" cy="252.7" r="1.4"/><circle cx="287.5" cy="254.1" r="1.4"/><circle cx="288.8" cy="250.4" r="1.4"/></g>
<path d="M55.20 223.74 L56.20 223.77 L57.20 223.78 L58.20 223.80 L59.20 223.80 L60.20 223.80 L61.20 223.79 L62.20 223.77 L63.20 223.74 L64.20 223.70 L65.20 223.64 L66.20 223.57 L67.20 223.49 L68.20 223.38 L69.20 223.26 L70.20 223.11 L71.20 222.94 L72.20 222.75 L73.20 222.53 L74.20 222.28 L75.20 222.01 L76.20 221.70 L77.20 221.37 L78.20 221.01 L79.20 220.61 L80.20 220.19 L81.20 219.75 L82.20 219.27 L83.20 218.78 L84.20 218.27 L85.20 217.74 L86.20 217.20 L87.20 216.65 L88.20 216.10 L89.20 215.56 L90.20 215.03 L91.20 214.52 L92.20 214.04 L93.20 213.59 L94.20 213.20 L95.20 212.85 L96.20 212.57 L97.20 212.36 L98.20 212.23 L99.20 212.18 L100.20 212.22 L101.20 212.35 L102.20 212.56 L103.20 212.84 L104.20 213.19 L105.20 213.61 L106.20 214.09 L107.20 214.61 L108.20 215.18 L109.20 215.78 L110.20 216.40 L111.20 217.05 L112.20 217.70 L113.20 218.37 L114.20 219.03 L115.20 219.68 L116.20 220.33 L117.20 220.96 L118.20 221.57 L119.20 222.17 L120.20 222.74 L121.20 223.29 L122.20 223.81 L123.20 224.30 L124.20 224.77 L125.20 225.21 L126.20 225.62 L127.20 226.00 L128.20 226.36 L129.20 226.70 L130.20 227.01 L131.20 227.29 L132.20 227.56 L133.20 227.81 L134.20 228.04 L135.20 228.25 L136.20 228.45 L137.20 228.63 L138.20 228.80 L139.20 228.96 L140.20 229.11 L141.20 229.26 L142.20 229.39 L143.20 229.52 L144.20 229.64 L145.20 229.76 L146.20 229.87 L146.20 230.47 L145.20 230.39 L144.20 230.31 L143.20 230.24 L142.20 230.16 L141.20 230.09 L140.20 230.01 L139.20 229.94 L138.20 229.87 L137.20 229.79 L136.20 229.72 L135.20 229.64 L134.20 229.56 L133.20 229.49 L132.20 229.41 L131.20 229.34 L130.20 229.26 L129.20 229.19 L128.20 229.12 L127.20 229.04 L126.20 228.97 L125.20 228.89 L124.20 228.81 L123.20 228.74 L122.20 228.66 L121.20 228.59 L120.20 228.51 L119.20 228.44 L118.20 228.37 L117.20 228.29 L116.20 228.22 L115.20 228.14 L114.20 228.06 L113.20 227.99 L112.20 227.91 L111.20 227.84 L110.20 227.76 L109.20 227.69 L108.20 227.62 L107.20 227.54 L106.20 227.47 L105.20 227.39 L104.20 227.31 L103.20 227.24 L102.20 227.16 L101.20 227.09 L100.20 227.01 L99.20 226.95 L98.20 226.89 L97.20 226.83 L96.20 226.77 L95.20 226.71 L94.20 226.65 L93.20 226.60 L92.20 226.54 L91.20 226.48 L90.20 226.42 L89.20 226.36 L88.20 226.30 L87.20 226.24 L86.20 226.18 L85.20 226.12 L84.20 226.06 L83.20 226.00 L82.20 225.94 L81.20 225.88 L80.20 225.82 L79.20 225.76 L78.20 225.70 L77.20 225.64 L76.20 225.58 L75.20 225.52 L74.20 225.47 L73.20 225.41 L72.20 225.35 L71.20 225.29 L70.20 225.23 L69.20 225.17 L68.20 225.11 L67.20 225.05 L66.20 224.99 L65.20 224.93 L64.20 224.87 L63.20 224.81 L62.20 224.75 L61.20 224.69 L60.20 224.63 L59.20 224.57 L58.20 224.51 L57.20 224.45 L56.20 224.39 L55.20 224.33 Z" fill="url(#g12)"/>
<path d="M187.80 237.33 L188.80 237.48 L189.80 237.62 L190.80 237.74 L191.80 237.83 L192.80 237.90 L193.80 237.94 L194.80 237.95 L195.80 237.91 L196.80 237.83 L197.80 237.70 L198.80 237.51 L199.80 237.26 L200.80 236.94 L201.80 236.55 L202.80 236.07 L203.80 235.51 L204.80 234.85 L205.80 234.10 L206.80 233.24 L207.80 232.28 L208.80 231.22 L209.80 230.06 L210.80 228.79 L211.80 227.43 L212.80 225.97 L213.80 224.44 L214.80 222.84 L215.80 221.18 L216.80 219.48 L217.80 217.76 L218.80 216.04 L219.80 214.34 L220.80 212.68 L221.80 211.09 L222.80 209.60 L223.80 208.22 L224.80 206.99 L225.80 205.92 L226.80 205.05 L227.80 204.39 L228.80 203.95 L229.80 203.76 L230.80 203.82 L231.80 204.13 L232.80 204.67 L233.80 205.45 L234.80 206.44 L235.80 207.64 L236.80 209.02 L237.80 210.58 L238.80 212.29 L239.80 214.12 L240.80 216.05 L241.80 218.07 L242.80 220.15 L243.80 222.26 L244.80 224.39 L245.80 226.51 L246.80 228.61 L247.80 230.68 L248.80 232.61 L249.80 234.47 L250.80 236.25 L251.80 237.94 L252.80 239.55 L253.80 241.07 L254.80 242.49 L255.80 243.81 L256.80 245.04 L257.80 246.17 L258.80 247.21 L259.80 248.16 L260.80 249.03 L261.80 249.82 L262.80 250.45 L263.80 251.00 L264.80 251.48 L265.80 251.91 L266.80 252.29 L267.80 252.62 L268.80 252.91 L269.80 253.17 L270.80 253.40 L271.80 253.59 L272.80 253.77 L273.80 253.92 L274.80 254.06 L275.80 254.18 L275.80 254.95 L274.80 254.91 L273.80 254.87 L272.80 254.83 L271.80 254.79 L270.80 254.75 L269.80 254.71 L268.80 254.67 L267.80 254.63 L266.80 254.59 L265.80 254.55 L264.80 254.51 L263.80 254.47 L262.80 254.43 L261.80 254.37 L260.80 254.23 L259.80 254.09 L258.80 253.94 L257.80 253.80 L256.80 253.66 L255.80 253.51 L254.80 253.37 L253.80 253.23 L252.80 253.09 L251.80 252.94 L250.80 252.80 L249.80 252.66 L248.80 252.51 L247.80 252.35 L246.80 252.12 L245.80 251.88 L244.80 251.64 L243.80 251.40 L242.80 251.17 L241.80 250.93 L240.80 250.69 L239.80 250.45 L238.80 250.22 L237.80 249.98 L236.80 249.74 L235.80 249.50 L234.80 249.27 L233.80 249.03 L232.80 248.79 L231.80 248.55 L230.80 248.31 L229.80 248.08 L228.80 247.84 L227.80 247.60 L226.80 247.37 L225.80 247.13 L224.80 246.89 L223.80 246.65 L222.80 246.42 L221.80 246.18 L220.80 245.94 L219.80 245.70 L218.80 245.47 L217.80 245.23 L216.80 244.99 L215.80 244.75 L214.80 244.52 L213.80 244.28 L212.80 244.04 L211.80 243.80 L210.80 243.56 L209.80 243.33 L208.80 243.09 L207.80 242.85 L206.80 242.62 L205.80 242.38 L204.80 242.14 L203.80 241.90 L202.80 241.67 L201.80 241.43 L200.80 241.19 L199.80 240.95 L198.80 240.72 L197.80 240.48 L196.80 240.24 L195.80 240.00 L194.80 239.77 L193.80 239.53 L192.80 239.29 L191.80 239.05 L190.80 238.81 L189.80 238.58 L188.80 238.34 L187.80 238.10 Z" fill="url(#g13)"/>
<path d="M26.00 222.56 L27.00 222.61 L28.00 222.66 L29.00 222.71 L30.00 222.75 L31.00 222.79 L32.00 222.83 L33.00 222.87 L34.00 222.90 L35.00 222.92 L36.00 222.94 L37.00 222.96 L38.00 222.96 L39.00 222.96 L40.00 222.96 L41.00 222.94 L42.00 222.91 L43.00 222.88 L44.00 222.83 L45.00 222.77 L46.00 222.70 L47.00 222.62 L48.00 222.53 L49.00 222.42 L50.00 222.30 L51.00 222.17 L52.00 222.03 L53.00 221.88 L54.00 221.71 L55.00 221.54 L56.00 221.36 L57.00 221.18 L58.00 220.99 L59.00 220.80 L60.00 220.61 L61.00 220.42 L62.00 220.24 L63.00 220.06 L64.00 219.89 L65.00 219.74 L66.00 219.60 L67.00 219.48 L68.00 219.37 L69.00 219.29 L70.00 219.23 L71.00 219.20 L72.00 219.19 L73.00 219.21 L74.00 219.25 L75.00 219.32 L76.00 219.42 L77.00 219.54 L78.00 219.68 L79.00 219.85 L80.00 220.03 L81.00 220.24 L82.00 220.46 L83.00 220.70 L84.00 220.95 L85.00 221.21 L86.00 221.49 L87.00 221.77 L88.00 222.06 L89.00 222.35 L90.00 222.64 L91.00 222.94 L92.00 223.23 L93.00 223.52 L94.00 223.80 L95.00 224.08 L96.00 224.35 L97.00 224.62 L98.00 224.87 L99.00 225.11 L100.00 225.34 L101.00 225.58 L102.00 225.81 L103.00 226.03 L104.00 226.23 L105.00 226.43 L106.00 226.61 L107.00 226.79 L108.00 226.95 L109.00 227.11 L110.00 227.26 L111.00 227.40 L112.00 227.53 L113.00 227.66 L114.00 227.78 L115.00 227.89 L116.00 228.00 L117.00 228.11 L118.00 228.21 L119.00 228.31 L120.00 228.40 L121.00 228.49 L122.00 228.58 L123.00 228.67 L124.00 228.75 L125.00 228.84 L125.00 228.88 L124.00 228.80 L123.00 228.72 L122.00 228.65 L121.00 228.57 L120.00 228.50 L119.00 228.43 L118.00 228.35 L117.00 228.28 L116.00 228.20 L115.00 228.12 L114.00 228.05 L113.00 227.97 L112.00 227.90 L111.00 227.82 L110.00 227.75 L109.00 227.68 L108.00 227.60 L107.00 227.53 L106.00 227.45 L105.00 227.38 L104.00 227.30 L103.00 227.22 L102.00 227.15 L101.00 227.07 L100.00 227.00 L99.00 226.94 L98.00 226.88 L97.00 226.82 L96.00 226.76 L95.00 226.70 L94.00 226.64 L93.00 226.58 L92.00 226.52 L91.00 226.46 L90.00 226.41 L89.00 226.35 L88.00 226.29 L87.00 226.23 L86.00 226.17 L85.00 226.11 L84.00 226.05 L83.00 225.99 L82.00 225.93 L81.00 225.87 L80.00 225.81 L79.00 225.75 L78.00 225.69 L77.00 225.63 L76.00 225.57 L75.00 225.51 L74.00 225.45 L73.00 225.39 L72.00 225.33 L71.00 225.27 L70.00 225.22 L69.00 225.16 L68.00 225.10 L67.00 225.04 L66.00 224.98 L65.00 224.92 L64.00 224.86 L63.00 224.80 L62.00 224.74 L61.00 224.68 L60.00 224.62 L59.00 224.56 L58.00 224.50 L57.00 224.44 L56.00 224.38 L55.00 224.32 L54.00 224.26 L53.00 224.20 L52.00 224.14 L51.00 224.08 L50.00 224.03 L49.00 223.97 L48.00 223.91 L47.00 223.85 L46.00 223.79 L45.00 223.73 L44.00 223.67 L43.00 223.61 L42.00 223.55 L41.00 223.49 L40.00 223.43 L39.00 223.37 L38.00 223.31 L37.00 223.25 L36.00 223.19 L35.00 223.13 L34.00 223.07 L33.00 223.01 L32.00 222.95 L31.00 222.89 L30.00 222.84 L29.00 222.78 L28.00 222.72 L27.00 222.66 L26.00 222.60 Z" fill="url(#g14)"/>
<path d="M150.60 230.68 L151.60 230.73 L152.60 230.78 L153.60 230.82 L154.60 230.86 L155.60 230.89 L156.60 230.91 L157.60 230.93 L158.60 230.93 L159.60 230.93 L160.60 231.01 L161.60 231.14 L162.60 231.26 L163.60 231.37 L164.60 231.45 L165.60 231.52 L166.60 231.57 L167.60 231.60 L168.60 231.60 L169.60 231.58 L170.60 231.54 L171.60 231.47 L172.60 231.37 L173.60 231.24 L174.60 231.09 L175.60 230.90 L176.60 230.69 L177.60 230.44 L178.60 230.17 L179.60 229.87 L180.60 229.54 L181.60 229.18 L182.60 228.81 L183.60 228.41 L184.60 228.00 L185.60 227.57 L186.60 227.13 L187.60 226.68 L188.60 226.24 L189.60 225.79 L190.60 225.36 L191.60 224.93 L192.60 224.53 L193.60 224.15 L194.60 223.79 L195.60 223.48 L196.60 223.20 L197.60 222.97 L198.60 222.78 L199.60 222.65 L200.60 222.57 L201.60 222.56 L202.60 222.61 L203.60 222.72 L204.60 222.90 L205.60 223.14 L206.60 223.47 L207.60 223.87 L208.60 224.35 L209.60 224.91 L210.60 225.53 L211.60 226.22 L212.60 226.97 L213.60 227.77 L214.60 228.62 L215.60 229.51 L216.60 230.43 L217.60 231.38 L218.60 232.35 L219.60 233.33 L220.60 234.32 L221.60 235.31 L222.60 236.29 L223.60 237.26 L224.60 238.21 L225.60 239.14 L226.60 240.05 L227.60 240.92 L228.60 241.77 L229.60 242.58 L230.60 243.36 L231.60 244.10 L232.60 244.81 L233.60 245.48 L234.60 246.12 L235.60 246.72 L236.60 247.29 L237.60 247.83 L238.60 248.34 L239.60 248.82 L240.60 249.27 L241.60 249.70 L242.60 250.10 L243.60 250.49 L244.60 250.86 L245.60 251.21 L246.60 251.54 L247.60 251.87 L248.60 252.12 L249.60 252.32 L250.60 252.52 L251.60 252.71 L252.60 252.89 L253.60 253.06 L254.60 253.23 L254.60 253.34 L253.60 253.20 L252.60 253.06 L251.60 252.91 L250.60 252.77 L249.60 252.63 L248.60 252.49 L247.60 252.31 L246.60 252.07 L245.60 251.83 L244.60 251.59 L243.60 251.36 L242.60 251.12 L241.60 250.88 L240.60 250.64 L239.60 250.41 L238.60 250.17 L237.60 249.93 L236.60 249.69 L235.60 249.46 L234.60 249.22 L233.60 248.98 L232.60 248.74 L231.60 248.50 L230.60 248.27 L229.60 248.03 L228.60 247.79 L227.60 247.56 L226.60 247.32 L225.60 247.08 L224.60 246.84 L223.60 246.61 L222.60 246.37 L221.60 246.13 L220.60 245.89 L219.60 245.66 L218.60 245.42 L217.60 245.18 L216.60 244.94 L215.60 244.71 L214.60 244.47 L213.60 244.23 L212.60 243.99 L211.60 243.75 L210.60 243.52 L209.60 243.28 L208.60 243.04 L207.60 242.81 L206.60 242.57 L205.60 242.33 L204.60 242.09 L203.60 241.85 L202.60 241.62 L201.60 241.38 L200.60 241.14 L199.60 240.91 L198.60 240.67 L197.60 240.43 L196.60 240.19 L195.60 239.96 L194.60 239.72 L193.60 239.48 L192.60 239.24 L191.60 239.00 L190.60 238.77 L189.60 238.53 L188.60 238.29 L187.60 238.06 L186.60 237.82 L185.60 237.58 L184.60 237.34 L183.60 237.10 L182.60 236.87 L181.60 236.63 L180.60 236.39 L179.60 236.16 L178.60 235.92 L177.60 235.68 L176.60 235.44 L175.60 235.21 L174.60 234.97 L173.60 234.73 L172.60 234.49 L171.60 234.25 L170.60 234.02 L169.60 233.78 L168.60 233.54 L167.60 233.31 L166.60 233.07 L165.60 232.83 L164.60 232.59 L163.60 232.35 L162.60 232.12 L161.60 231.88 L160.60 231.64 L159.60 231.47 L158.60 231.40 L157.60 231.32 L156.60 231.25 L155.60 231.17 L154.60 231.09 L153.60 231.02 L152.60 230.94 L151.60 230.87 L150.60 230.79 Z" fill="url(#g15)"/>
<path d="M131.80 229.34 L132.80 229.41 L133.80 229.48 L134.80 229.55 L135.80 229.62 L136.80 229.68 L137.80 229.75 L138.80 229.81 L139.80 229.88 L140.80 229.94 L141.80 230.00 L142.80 230.06 L143.80 230.12 L144.80 230.18 L145.80 230.23 L146.80 230.29 L147.80 230.34 L148.80 230.39 L149.80 230.43 L150.80 230.48 L151.80 230.52 L152.80 230.56 L153.80 230.60 L154.80 230.63 L155.80 230.66 L156.80 230.69 L157.80 230.71 L158.80 230.73 L159.80 230.75 L160.80 230.89 L161.80 231.06 L162.80 231.23 L163.80 231.40 L164.80 231.55 L165.80 231.71 L166.80 231.86 L167.80 232.01 L168.80 232.15 L169.80 232.28 L170.80 232.41 L171.80 232.54 L172.80 232.66 L173.80 232.78 L174.80 232.90 L175.80 233.01 L176.80 233.11 L177.80 233.21 L178.80 233.31 L179.80 233.40 L180.80 233.49 L181.80 233.58 L182.80 233.66 L183.80 233.75 L184.80 233.82 L185.80 233.90 L186.80 233.98 L187.80 234.05 L188.80 234.13 L189.80 234.20 L190.80 234.28 L191.80 234.35 L192.80 234.43 L193.80 234.51 L194.80 234.59 L195.80 234.67 L196.80 234.76 L197.80 234.85 L198.80 234.95 L199.80 235.05 L200.80 235.16 L201.80 235.27 L202.80 235.39 L203.80 235.52 L204.80 235.66 L205.80 235.80 L206.80 235.95 L207.80 236.12 L208.80 236.29 L209.80 236.47 L210.80 236.66 L211.80 236.86 L212.80 237.07 L213.80 237.28 L214.80 237.52 L215.80 237.76 L216.80 238.01 L217.80 238.28 L218.80 238.57 L219.80 238.87 L220.80 239.18 L221.80 239.50 L222.80 239.84 L223.80 240.19 L224.80 240.55 L225.80 240.92 L226.80 241.30 L227.80 241.69 L228.80 242.09 L229.80 242.50 L230.80 242.91 L231.80 243.32 L232.80 243.74 L233.80 244.17 L234.80 244.60 L235.80 245.03 L236.80 245.46 L237.80 245.89 L238.80 246.32 L239.80 246.74 L240.80 247.17 L241.80 247.59 L242.80 248.01 L243.80 248.43 L244.80 248.84 L245.80 249.25 L246.80 249.65 L247.80 250.05 L248.80 250.36 L249.80 250.65 L250.80 250.94 L251.80 251.21 L252.80 251.49 L253.80 251.75 L254.80 252.01 L255.80 252.26 L256.80 252.51 L257.80 252.75 L258.80 252.98 L259.80 253.21 L260.80 253.43 L261.80 253.64 L262.80 253.77 L263.80 253.87 L264.80 253.97 L265.80 254.07 L266.80 254.15 L267.80 254.24 L268.80 254.32 L269.80 254.40 L270.80 254.47 L271.80 254.54 L272.80 254.61 L273.80 254.68 L274.80 254.74 L275.80 254.80 L276.80 254.86 L277.80 254.91 L278.80 254.97 L279.80 255.02 L280.80 255.07 L281.80 255.12 L282.80 255.17 L283.80 255.22 L284.80 255.27 L284.80 255.31 L283.80 255.27 L282.80 255.23 L281.80 255.19 L280.80 255.15 L279.80 255.11 L278.80 255.07 L277.80 255.03 L276.80 254.99 L275.80 254.95 L274.80 254.91 L273.80 254.87 L272.80 254.83 L271.80 254.79 L270.80 254.75 L269.80 254.71 L268.80 254.67 L267.80 254.63 L266.80 254.59 L265.80 254.55 L264.80 254.51 L263.80 254.47 L262.80 254.43 L261.80 254.37 L260.80 254.23 L259.80 254.09 L258.80 253.94 L257.80 253.80 L256.80 253.66 L255.80 253.51 L254.80 253.37 L253.80 253.23 L252.80 253.09 L251.80 252.94 L250.80 252.80 L249.80 252.66 L248.80 252.51 L247.80 252.35 L246.80 252.12 L245.80 251.88 L244.80 251.64 L243.80 251.40 L242.80 251.17 L241.80 250.93 L240.80 250.69 L239.80 250.45 L238.80 250.22 L237.80 249.98 L236.80 249.74 L235.80 249.50 L234.80 249.27 L233.80 249.03 L232.80 248.79 L231.80 248.55 L230.80 248.31 L229.80 248.08 L228.80 247.84 L227.80 247.60 L226.80 247.37 L225.80 247.13 L224.80 246.89 L223.80 246.65 L222.80 246.42 L221.80 246.18 L220.80 245.94 L219.80 245.70 L218.80 245.47 L217.80 245.23 L216.80 244.99 L215.80 244.75 L214.80 244.52 L213.80 244.28 L212.80 244.04 L211.80 243.80 L210.80 243.56 L209.80 243.33 L208.80 243.09 L207.80 242.85 L206.80 242.62 L205.80 242.38 L204.80 242.14 L203.80 241.90 L202.80 241.67 L201.80 241.43 L200.80 241.19 L199.80 240.95 L198.80 240.72 L197.80 240.48 L196.80 240.24 L195.80 240.00 L194.80 239.77 L193.80 239.53 L192.80 239.29 L191.80 239.05 L190.80 238.81 L189.80 238.58 L188.80 238.34 L187.80 238.10 L186.80 237.87 L185.80 237.63 L184.80 237.39 L183.80 237.15 L182.80 236.91 L181.80 236.68 L180.80 236.44 L179.80 236.20 L178.80 235.97 L177.80 235.73 L176.80 235.49 L175.80 235.25 L174.80 235.02 L173.80 234.78 L172.80 234.54 L171.80 234.30 L170.80 234.06 L169.80 233.83 L168.80 233.59 L167.80 233.35 L166.80 233.12 L165.80 232.88 L164.80 232.64 L163.80 232.40 L162.80 232.16 L161.80 231.93 L160.80 231.69 L159.80 231.49 L158.80 231.41 L157.80 231.34 L156.80 231.26 L155.80 231.19 L154.80 231.11 L153.80 231.03 L152.80 230.96 L151.80 230.88 L150.80 230.81 L149.80 230.74 L148.80 230.66 L147.80 230.59 L146.80 230.51 L145.80 230.44 L144.80 230.36 L143.80 230.28 L142.80 230.21 L141.80 230.13 L140.80 230.06 L139.80 229.99 L138.80 229.91 L137.80 229.84 L136.80 229.76 L135.80 229.69 L134.80 229.61 L133.80 229.53 L132.80 229.46 L131.80 229.38 Z" fill="url(#g16)"/>
<path d="M21.00 222.30 C34.17 223.08 80.17 225.72 100.00 227.00 C119.83 228.28 130.00 229.25 140.00 230.00 C150.00 230.75 142.00 227.77 160.00 231.50 C178.00 235.23 231.00 248.58 248.00 252.40 C265.00 256.22 254.67 253.87 262.00 254.40 C269.33 254.93 287.00 255.40 292.00 255.60" fill="none" stroke="#202020" stroke-width="1.00" stroke-linejoin="round"/>
<path d="M22.00 221.60 C23.92 221.60 29.33 221.60 33.50 221.60 C37.67 221.60 42.95 221.72 47.00 221.60 C51.05 221.48 54.43 221.35 57.80 220.90 C61.17 220.45 64.05 219.60 67.20 218.90 C70.35 218.20 73.77 217.43 76.70 216.70 C79.63 215.97 82.92 215.18 84.80 214.50 C86.68 213.82 86.65 213.15 88.00 212.60 C89.35 212.05 91.40 211.53 92.90 211.20 C94.40 210.87 95.65 210.73 97.00 210.60 C98.35 210.47 99.67 210.37 101.00 210.40 C102.33 210.43 103.67 210.48 105.00 210.80 C106.33 211.12 107.42 211.33 109.00 212.30 C110.58 213.27 112.33 214.88 114.50 216.60 C116.67 218.32 119.50 220.90 122.00 222.60 C124.50 224.30 127.00 225.70 129.50 226.80 C132.00 227.90 134.25 228.63 137.00 229.20 C139.75 229.77 143.00 229.95 146.00 230.20 C149.00 230.45 152.00 230.62 155.00 230.70 C158.00 230.78 161.50 230.73 164.00 230.70 C166.50 230.67 167.33 230.95 170.00 230.50 C172.67 230.05 176.67 228.92 180.00 228.00 C183.33 227.08 186.67 226.23 190.00 225.00 C193.33 223.77 197.00 222.10 200.00 220.60 C203.00 219.10 205.33 217.77 208.00 216.00 C210.67 214.23 213.67 211.83 216.00 210.00 C218.33 208.17 219.83 206.40 222.00 205.00 C224.17 203.60 227.00 202.03 229.00 201.60 C231.00 201.17 232.33 201.50 234.00 202.40 C235.67 203.30 237.67 205.40 239.00 207.00 C240.33 208.60 240.72 209.42 242.00 212.00 C243.28 214.58 245.15 218.73 246.70 222.50 C248.25 226.27 249.75 231.22 251.30 234.60 C252.85 237.98 254.25 240.27 256.00 242.80 C257.75 245.33 259.87 248.07 261.80 249.80 C263.73 251.53 265.07 252.43 267.60 253.20 C270.13 253.97 273.10 254.08 277.00 254.40 C280.90 254.72 288.67 254.98 291.00 255.10" fill="none" stroke="#111111" stroke-width="1.60" stroke-linejoin="round"/>
<g fill="none" stroke="#f4a4a4" stroke-width="0.45"><circle cx="318.9" cy="102.8" r="1.1"/><circle cx="320.5" cy="101.2" r="1.1"/><circle cx="322.4" cy="101.4" r="1.1"/><circle cx="323.9" cy="101.1" r="1.1"/><circle cx="325.4" cy="101.0" r="1.1"/><circle cx="326.9" cy="101.7" r="1.1"/><circle cx="327.5" cy="101.7" r="1.1"/><circle cx="329.1" cy="100.4" r="1.1"/><circle cx="331.3" cy="100.4" r="1.1"/><circle cx="332.8" cy="100.6" r="1.1"/><circle cx="333.6" cy="99.8" r="1.1"/><circle cx="335.1" cy="99.8" r="1.1"/><circle cx="336.6" cy="101.1" r="1.1"/><circle cx="338.5" cy="101.6" r="1.1"/><circle cx="340.2" cy="101.1" r="1.1"/><circle cx="341.6" cy="99.8" r="1.1"/><circle cx="343.5" cy="100.3" r="1.1"/><circle cx="344.3" cy="99.6" r="1.1"/><circle cx="345.6" cy="99.8" r="1.1"/><circle cx="347.4" cy="98.4" r="1.1"/><circle cx="348.6" cy="98.4" r="1.1"/><circle cx="350.3" cy="97.9" r="1.1"/><circle cx="352.3" cy="98.1" r="1.1"/><circle cx="353.6" cy="97.8" r="1.1"/><circle cx="354.7" cy="96.2" r="1.1"/><circle cx="356.4" cy="98.1" r="1.1"/><circle cx="357.5" cy="96.7" r="1.1"/><circle cx="359.8" cy="96.6" r="1.1"/><circle cx="361.2" cy="97.1" r="1.1"/><circle cx="362.9" cy="95.1" r="1.1"/><circle cx="364.3" cy="94.3" r="1.1"/><circle cx="365.8" cy="94.4" r="1.1"/><circle cx="367.1" cy="95.9" r="1.1"/><circle cx="369.0" cy="95.1" r="1.1"/><circle cx="370.4" cy="95.4" r="1.1"/><circle cx="371.3" cy="93.5" r="1.1"/><circle cx="373.0" cy="92.6" r="1.1"/><circle cx="374.1" cy="94.6" r="1.1"/><circle cx="376.2" cy="95.1" r="1.1"/><circle cx="377.4" cy="92.4" r="1.1"/><circle cx="379.3" cy="91.9" r="1.1"/><circle cx="380.8" cy="92.2" r="1.1"/><circle cx="382.1" cy="92.7" r="1.1"/><circle cx="383.7" cy="92.3" r="1.1"/><circle cx="384.8" cy="92.2" r="1.1"/><circle cx="386.4" cy="91.0" r="1.1"/><circle cx="388.2" cy="91.8" r="1.1"/><circle cx="389.6" cy="89.6" r="1.1"/><circle cx="391.3" cy="90.2" r="1.1"/><circle cx="392.3" cy="90.5" r="1.1"/><circle cx="393.8" cy="90.3" r="1.1"/><circle cx="395.1" cy="90.8" r="1.1"/><circle cx="397.5" cy="91.9" r="1.1"/><circle cx="398.6" cy="90.1" r="1.1"/><circle cx="400.1" cy="91.5" r="1.1"/><circle cx="401.8" cy="90.0" r="1.1"/><circle cx="402.9" cy="91.9" r="1.1"/><circle cx="404.3" cy="91.4" r="1.1"/><circle cx="406.2" cy="92.2" r="1.1"/><circle cx="407.5" cy="91.7" r="1.1"/><circle cx="408.9" cy="93.7" r="1.1"/><circle cx="410.6" cy="92.4" r="1.1"/><circle cx="412.4" cy="91.2" r="1.1"/><circle cx="413.3" cy="94.0" r="1.1"/><circle cx="415.1" cy="94.2" r="1.1"/><circle cx="416.9" cy="94.1" r="1.1"/><circle cx="418.2" cy="93.2" r="1.1"/><circle cx="419.5" cy="94.9" r="1.1"/><circle cx="420.6" cy="94.1" r="1.1"/><circle cx="422.9" cy="95.2" r="1.1"/><circle cx="424.1" cy="94.9" r="1.1"/><circle cx="425.7" cy="94.8" r="1.1"/><circle cx="426.7" cy="94.2" r="1.1"/><circle cx="428.7" cy="93.9" r="1.1"/><circle cx="430.0" cy="92.5" r="1.1"/><circle cx="431.9" cy="92.7" r="1.1"/><circle cx="433.1" cy="89.3" r="1.1"/><circle cx="434.3" cy="87.8" r="1.1"/><circle cx="435.9" cy="86.3" r="1.1"/><circle cx="437.2" cy="83.0" r="1.1"/><circle cx="439.3" cy="79.9" r="1.1"/><circle cx="440.2" cy="76.2" r="1.1"/><circle cx="441.7" cy="73.7" r="1.1"/><circle cx="443.3" cy="69.4" r="1.1"/><circle cx="445.3" cy="65.9" r="1.1"/><circle cx="446.9" cy="64.7" r="1.1"/><circle cx="447.5" cy="61.2" r="1.1"/><circle cx="449.4" cy="59.5" r="1.1"/><circle cx="451.2" cy="58.5" r="1.1"/><circle cx="452.6" cy="56.2" r="1.1"/><circle cx="454.4" cy="56.5" r="1.1"/><circle cx="455.5" cy="55.1" r="1.1"/><circle cx="456.6" cy="52.0" r="1.1"/><circle cx="458.2" cy="51.5" r="1.1"/><circle cx="460.3" cy="48.7" r="1.1"/><circle cx="461.9" cy="48.3" r="1.1"/><circle cx="463.1" cy="45.3" r="1.1"/><circle cx="464.4" cy="44.5" r="1.1"/><circle cx="465.7" cy="42.4" r="1.1"/><circle cx="467.5" cy="40.8" r="1.1"/><circle cx="468.9" cy="37.7" r="1.1"/><circle cx="470.7" cy="36.5" r="1.1"/><circle cx="471.9" cy="33.7" r="1.1"/><circle cx="473.4" cy="32.0" r="1.1"/><circle cx="474.8" cy="29.7" r="1.1"/><circle cx="477.0" cy="28.7" r="1.1"/><circle cx="478.4" cy="27.0" r="1.1"/><circle cx="479.3" cy="27.2" r="1.1"/><circle cx="480.9" cy="27.7" r="1.1"/><circle cx="482.3" cy="28.4" r="1.1"/><circle cx="483.8" cy="30.2" r="1.1"/><circle cx="485.3" cy="30.5" r="1.1"/><circle cx="487.3" cy="35.7" r="1.1"/><circle cx="488.5" cy="41.3" r="1.1"/><circle cx="490.0" cy="50.3" r="1.1"/><circle cx="491.3" cy="55.7" r="1.1"/><circle cx="492.8" cy="60.8" r="1.1"/><circle cx="494.5" cy="66.1" r="1.1"/><circle cx="496.2" cy="69.7" r="1.1"/><circle cx="497.1" cy="72.0" r="1.1"/><circle cx="499.0" cy="78.2" r="1.1"/><circle cx="500.4" cy="83.0" r="1.1"/><circle cx="502.5" cy="85.7" r="1.1"/><circle cx="503.2" cy="87.8" r="1.1"/><circle cx="505.3" cy="91.3" r="1.1"/><circle cx="506.8" cy="91.9" r="1.1"/><circle cx="507.6" cy="94.1" r="1.1"/><circle cx="509.4" cy="96.1" r="1.1"/><circle cx="510.5" cy="98.9" r="1.1"/><circle cx="512.1" cy="99.7" r="1.1"/><circle cx="513.6" cy="101.7" r="1.1"/><circle cx="515.1" cy="102.5" r="1.1"/><circle cx="516.8" cy="102.5" r="1.1"/><circle cx="518.2" cy="103.1" r="1.1"/><circle cx="520.0" cy="103.1" r="1.1"/><circle cx="521.1" cy="104.6" r="1.1"/><circle cx="523.3" cy="105.0" r="1.1"/><circle cx="524.5" cy="104.9" r="1.1"/><circle cx="525.6" cy="106.9" r="1.1"/><circle cx="527.3" cy="105.2" r="1.1"/><circle cx="529.3" cy="105.8" r="1.1"/><circle cx="530.6" cy="107.4" r="1.1"/><circle cx="532.1" cy="107.8" r="1.1"/><circle cx="533.0" cy="106.3" r="1.1"/><circle cx="535.3" cy="107.6" r="1.1"/><circle cx="536.7" cy="106.8" r="1.1"/><circle cx="537.8" cy="107.9" r="1.1"/><circle cx="539.4" cy="107.5" r="1.1"/><circle cx="540.8" cy="108.1" r="1.1"/><circle cx="542.2" cy="107.7" r="1.1"/><circle cx="543.6" cy="107.1" r="1.1"/><circle cx="545.6" cy="106.2" r="1.1"/><circle cx="547.5" cy="107.4" r="1.1"/><circle cx="548.4" cy="108.2" r="1.1"/><circle cx="550.2" cy="108.1" r="1.1"/><circle cx="551.5" cy="107.8" r="1.1"/><circle cx="553.2" cy="107.7" r="1.1"/><circle cx="554.2" cy="109.2" r="1.1"/><circle cx="556.0" cy="108.1" r="1.1"/><circle cx="557.5" cy="107.5" r="1.1"/><circle cx="559.4" cy="107.2" r="1.1"/><circle cx="561.0" cy="107.4" r="1.1"/><circle cx="561.7" cy="108.4" r="1.1"/><circle cx="563.9" cy="108.4" r="1.1"/><circle cx="565.1" cy="107.2" r="1.1"/><circle cx="566.1" cy="109.1" r="1.1"/><circle cx="567.6" cy="109.0" r="1.1"/><circle cx="569.2" cy="109.5" r="1.1"/><circle cx="570.7" cy="108.4" r="1.1"/><circle cx="572.3" cy="107.2" r="1.1"/><circle cx="574.3" cy="107.8" r="1.1"/><circle cx="575.5" cy="109.0" r="1.1"/><circle cx="576.7" cy="110.1" r="1.1"/><circle cx="578.9" cy="107.4" r="1.1"/><circle cx="580.5" cy="109.1" r="1.1"/><circle cx="581.1" cy="108.3" r="1.1"/><circle cx="583.1" cy="109.6" r="1.1"/><circle cx="584.9" cy="109.3" r="1.1"/><circle cx="586.0" cy="109.9" r="1.1"/></g>
<path d="M325.60 103.01 L326.60 103.01 L327.60 103.00 L328.60 102.99 L329.60 102.98 L330.60 102.96 L331.60 102.94 L332.60 102.92 L333.60 102.89 L334.60 102.85 L335.60 102.80 L336.60 102.74 L337.60 102.67 L338.60 102.59 L339.60 102.50 L340.60 102.40 L341.60 102.28 L342.60 102.14 L343.60 102.00 L344.60 101.83 L345.60 101.65 L346.60 101.46 L347.60 101.26 L348.60 101.04 L349.60 100.82 L350.60 100.59 L351.60 100.35 L352.60 100.11 L353.60 99.88 L354.60 99.65 L355.60 99.43 L356.60 99.22 L357.60 99.03 L358.60 98.86 L359.60 98.71 L360.60 98.60 L361.60 98.51 L362.60 98.45 L363.60 98.42 L364.60 98.43 L365.60 98.47 L366.60 98.55 L367.60 98.65 L368.60 98.79 L369.60 98.95 L370.60 99.13 L371.60 99.33 L372.60 99.55 L373.60 99.78 L374.60 100.02 L375.60 100.27 L376.60 100.52 L377.60 100.76 L378.60 101.00 L379.60 101.24 L380.60 101.47 L381.60 101.71 L382.60 101.93 L383.60 102.13 L384.60 102.33 L385.60 102.50 L386.60 102.66 L387.60 102.81 L388.60 102.95 L389.60 103.07 L390.60 103.18 L391.60 103.27 L392.60 103.36 L393.60 103.44 L394.60 103.51 L395.60 103.57 L396.60 103.63 L397.60 103.68 L398.60 103.73 L399.60 103.77 L400.60 103.81 L401.60 103.85 L401.60 103.89 L400.60 103.86 L399.60 103.83 L398.60 103.80 L397.60 103.78 L396.60 103.75 L395.60 103.72 L394.60 103.70 L393.60 103.67 L392.60 103.64 L391.60 103.61 L390.60 103.59 L389.60 103.56 L388.60 103.53 L387.60 103.51 L386.60 103.48 L385.60 103.45 L384.60 103.42 L383.60 103.40 L382.60 103.37 L381.60 103.34 L380.60 103.32 L379.60 103.30 L378.60 103.29 L377.60 103.29 L376.60 103.28 L375.60 103.28 L374.60 103.27 L373.60 103.27 L372.60 103.26 L371.60 103.26 L370.60 103.26 L369.60 103.25 L368.60 103.25 L367.60 103.24 L366.60 103.24 L365.60 103.23 L364.60 103.23 L363.60 103.22 L362.60 103.22 L361.60 103.21 L360.60 103.21 L359.60 103.20 L358.60 103.20 L357.60 103.19 L356.60 103.19 L355.60 103.18 L354.60 103.18 L353.60 103.17 L352.60 103.17 L351.60 103.16 L350.60 103.16 L349.60 103.16 L348.60 103.15 L347.60 103.15 L346.60 103.14 L345.60 103.14 L344.60 103.13 L343.60 103.13 L342.60 103.12 L341.60 103.12 L340.60 103.11 L339.60 103.11 L338.60 103.10 L337.60 103.10 L336.60 103.09 L335.60 103.09 L334.60 103.08 L333.60 103.08 L332.60 103.07 L331.60 103.07 L330.60 103.06 L329.60 103.06 L328.60 103.06 L327.60 103.05 L326.60 103.05 L325.60 103.04 Z" fill="url(#g17)"/>
<path d="M349.80 103.10 L350.80 103.09 L351.80 103.08 L352.80 103.06 L353.80 103.04 L354.80 103.02 L355.80 103.00 L356.80 102.96 L357.80 102.93 L358.80 102.88 L359.80 102.83 L360.80 102.77 L361.80 102.71 L362.80 102.63 L363.80 102.54 L364.80 102.44 L365.80 102.33 L366.80 102.20 L367.80 102.06 L368.80 101.90 L369.80 101.73 L370.80 101.54 L371.80 101.33 L372.80 101.11 L373.80 100.87 L374.80 100.61 L375.80 100.33 L376.80 100.04 L377.80 99.72 L378.80 99.40 L379.80 99.06 L380.80 98.72 L381.80 98.38 L382.80 98.03 L383.80 97.68 L384.80 97.32 L385.80 96.96 L386.80 96.60 L387.80 96.25 L388.80 95.91 L389.80 95.58 L390.80 95.27 L391.80 94.97 L392.80 94.70 L393.80 94.46 L394.80 94.24 L395.80 94.05 L396.80 93.90 L397.80 93.79 L398.80 93.71 L399.80 93.67 L400.80 93.67 L401.80 93.71 L402.80 93.80 L403.80 93.95 L404.80 94.14 L405.80 94.38 L406.80 94.67 L407.80 94.99 L408.80 95.35 L409.80 95.74 L410.80 96.15 L411.80 96.59 L412.80 97.04 L413.80 97.50 L414.80 97.97 L415.80 98.44 L416.80 98.90 L417.80 99.36 L418.80 99.81 L419.80 100.24 L420.80 100.66 L421.80 101.05 L422.80 101.43 L423.80 101.78 L424.80 102.11 L425.80 102.42 L426.80 102.70 L427.80 102.96 L428.80 103.20 L429.80 103.42 L430.80 103.62 L431.80 103.80 L432.80 103.96 L433.80 104.10 L434.80 104.23 L435.80 104.35 L436.80 104.45 L437.80 104.55 L438.80 104.63 L439.80 104.70 L440.80 104.77 L441.80 104.83 L442.80 104.89 L443.80 104.94 L444.80 104.98 L445.80 105.03 L445.80 105.09 L444.80 105.06 L443.80 105.03 L442.80 105.00 L441.80 104.98 L440.80 104.95 L439.80 104.92 L438.80 104.90 L437.80 104.87 L436.80 104.84 L435.80 104.81 L434.80 104.79 L433.80 104.76 L432.80 104.73 L431.80 104.71 L430.80 104.68 L429.80 104.65 L428.80 104.62 L427.80 104.60 L426.80 104.57 L425.80 104.54 L424.80 104.52 L423.80 104.49 L422.80 104.46 L421.80 104.43 L420.80 104.41 L419.80 104.38 L418.80 104.35 L417.80 104.33 L416.80 104.30 L415.80 104.27 L414.80 104.24 L413.80 104.22 L412.80 104.19 L411.80 104.16 L410.80 104.14 L409.80 104.11 L408.80 104.08 L407.80 104.05 L406.80 104.03 L405.80 104.00 L404.80 103.97 L403.80 103.95 L402.80 103.92 L401.80 103.89 L400.80 103.86 L399.80 103.84 L398.80 103.81 L397.80 103.78 L396.80 103.76 L395.80 103.73 L394.80 103.70 L393.80 103.67 L392.80 103.65 L391.80 103.62 L390.80 103.59 L389.80 103.57 L388.80 103.54 L387.80 103.51 L386.80 103.48 L385.80 103.46 L384.80 103.43 L383.80 103.40 L382.80 103.38 L381.80 103.35 L380.80 103.32 L379.80 103.30 L378.80 103.29 L377.80 103.29 L376.80 103.28 L375.80 103.28 L374.80 103.28 L373.80 103.27 L372.80 103.27 L371.80 103.26 L370.80 103.26 L369.80 103.25 L368.80 103.25 L367.80 103.24 L366.80 103.24 L365.80 103.23 L364.80 103.23 L363.80 103.22 L362.80 103.22 L361.80 103.21 L360.80 103.21 L359.80 103.20 L358.80 103.20 L357.80 103.19 L356.80 103.19 L355.80 103.18 L354.80 103.18 L353.80 103.18 L352.80 103.17 L351.80 103.17 L350.80 103.16 L349.80 103.16 Z" fill="url(#g18)"/>
<path d="M296.00 102.99 L297.00 102.98 L298.00 102.98 L299.00 102.98 L300.00 102.98 L301.00 102.98 L302.00 102.97 L303.00 102.97 L304.00 102.97 L305.00 102.96 L306.00 102.96 L307.00 102.96 L308.00 102.95 L309.00 102.95 L310.00 102.94 L311.00 102.94 L312.00 102.93 L313.00 102.93 L314.00 102.92 L315.00 102.91 L316.00 102.90 L317.00 102.89 L318.00 102.89 L319.00 102.89 L320.00 102.88 L321.00 102.87 L322.00 102.87 L323.00 102.86 L324.00 102.85 L325.00 102.84 L326.00 102.83 L327.00 102.82 L328.00 102.81 L329.00 102.79 L330.00 102.78 L331.00 102.76 L332.00 102.75 L333.00 102.73 L334.00 102.71 L335.00 102.69 L336.00 102.67 L337.00 102.65 L338.00 102.63 L339.00 102.60 L340.00 102.58 L341.00 102.55 L342.00 102.52 L343.00 102.49 L344.00 102.46 L345.00 102.43 L346.00 102.40 L347.00 102.36 L348.00 102.33 L349.00 102.29 L350.00 102.26 L351.00 102.22 L352.00 102.18 L353.00 102.14 L354.00 102.10 L355.00 102.06 L356.00 102.02 L357.00 101.98 L358.00 101.93 L359.00 101.89 L360.00 101.85 L361.00 101.80 L362.00 101.76 L363.00 101.71 L364.00 101.67 L365.00 101.63 L366.00 101.58 L367.00 101.54 L368.00 101.50 L369.00 101.46 L370.00 101.42 L371.00 101.38 L372.00 101.34 L373.00 101.30 L374.00 101.27 L375.00 101.23 L376.00 101.20 L377.00 101.17 L378.00 101.14 L379.00 101.11 L380.00 101.08 L381.00 101.08 L382.00 101.08 L383.00 101.09 L384.00 101.09 L385.00 101.10 L386.00 101.11 L387.00 101.12 L388.00 101.14 L389.00 101.16 L390.00 101.18 L391.00 101.20 L392.00 101.23 L393.00 101.25 L394.00 101.29 L395.00 101.32 L396.00 101.36 L397.00 101.41 L398.00 101.45 L399.00 101.50 L400.00 101.55 L401.00 101.61 L402.00 101.67 L403.00 101.73 L404.00 101.79 L405.00 101.86 L406.00 101.93 L407.00 102.00 L408.00 102.07 L409.00 102.15 L410.00 102.23 L411.00 102.30 L412.00 102.38 L413.00 102.46 L414.00 102.55 L415.00 102.63 L416.00 102.71 L417.00 102.79 L418.00 102.88 L419.00 102.96 L420.00 103.04 L421.00 103.12 L422.00 103.21 L423.00 103.29 L424.00 103.37 L425.00 103.45 L426.00 103.53 L427.00 103.61 L428.00 103.68 L429.00 103.76 L430.00 103.83 L431.00 103.91 L432.00 103.98 L433.00 104.05 L434.00 104.11 L435.00 104.18 L436.00 104.25 L437.00 104.31 L438.00 104.37 L439.00 104.43 L440.00 104.49 L441.00 104.55 L442.00 104.61 L443.00 104.66 L444.00 104.71 L445.00 104.76 L446.00 104.81 L447.00 104.86 L448.00 104.91 L449.00 104.96 L450.00 105.00 L451.00 105.05 L452.00 105.10 L453.00 105.15 L454.00 105.20 L455.00 105.25 L456.00 105.30 L457.00 105.35 L458.00 105.39 L459.00 105.44 L460.00 105.48 L461.00 105.53 L462.00 105.57 L463.00 105.61 L464.00 105.65 L465.00 105.69 L466.00 105.73 L467.00 105.77 L468.00 105.81 L469.00 105.85 L470.00 105.89 L471.00 105.93 L472.00 105.97 L473.00 106.01 L474.00 106.05 L475.00 106.09 L475.00 106.10 L474.00 106.06 L473.00 106.03 L472.00 105.99 L471.00 105.96 L470.00 105.92 L469.00 105.88 L468.00 105.85 L467.00 105.81 L466.00 105.78 L465.00 105.74 L464.00 105.70 L463.00 105.67 L462.00 105.63 L461.00 105.60 L460.00 105.56 L459.00 105.52 L458.00 105.49 L457.00 105.45 L456.00 105.42 L455.00 105.38 L454.00 105.34 L453.00 105.31 L452.00 105.27 L451.00 105.24 L450.00 105.20 L449.00 105.17 L448.00 105.15 L447.00 105.12 L446.00 105.09 L445.00 105.06 L444.00 105.04 L443.00 105.01 L442.00 104.98 L441.00 104.96 L440.00 104.93 L439.00 104.90 L438.00 104.87 L437.00 104.85 L436.00 104.82 L435.00 104.79 L434.00 104.77 L433.00 104.74 L432.00 104.71 L431.00 104.68 L430.00 104.66 L429.00 104.63 L428.00 104.60 L427.00 104.58 L426.00 104.55 L425.00 104.52 L424.00 104.49 L423.00 104.47 L422.00 104.44 L421.00 104.41 L420.00 104.39 L419.00 104.36 L418.00 104.33 L417.00 104.30 L416.00 104.28 L415.00 104.25 L414.00 104.22 L413.00 104.20 L412.00 104.17 L411.00 104.14 L410.00 104.11 L409.00 104.09 L408.00 104.06 L407.00 104.03 L406.00 104.01 L405.00 103.98 L404.00 103.95 L403.00 103.92 L402.00 103.90 L401.00 103.87 L400.00 103.84 L399.00 103.82 L398.00 103.79 L397.00 103.76 L396.00 103.73 L395.00 103.71 L394.00 103.68 L393.00 103.65 L392.00 103.63 L391.00 103.60 L390.00 103.57 L389.00 103.54 L388.00 103.52 L387.00 103.49 L386.00 103.46 L385.00 103.44 L384.00 103.41 L383.00 103.38 L382.00 103.35 L381.00 103.33 L380.00 103.30 L379.00 103.30 L378.00 103.29 L377.00 103.29 L376.00 103.28 L375.00 103.28 L374.00 103.27 L373.00 103.27 L372.00 103.26 L371.00 103.26 L370.00 103.25 L369.00 103.25 L368.00 103.24 L367.00 103.24 L366.00 103.23 L365.00 103.23 L364.00 103.22 L363.00 103.22 L362.00 103.21 L361.00 103.21 L360.00 103.20 L359.00 103.20 L358.00 103.20 L357.00 103.19 L356.00 103.19 L355.00 103.18 L354.00 103.18 L353.00 103.17 L352.00 103.17 L351.00 103.16 L350.00 103.16 L349.00 103.15 L348.00 103.15 L347.00 103.14 L346.00 103.14 L345.00 103.13 L344.00 103.13 L343.00 103.12 L342.00 103.12 L341.00 103.11 L340.00 103.11 L339.00 103.10 L338.00 103.10 L337.00 103.10 L336.00 103.09 L335.00 103.09 L334.00 103.08 L333.00 103.08 L332.00 103.07 L331.00 103.07 L330.00 103.06 L329.00 103.06 L328.00 103.05 L327.00 103.05 L326.00 103.04 L325.00 103.04 L324.00 103.03 L323.00 103.03 L322.00 103.02 L321.00 103.02 L320.00 103.01 L319.00 103.01 L318.00 103.00 L317.00 103.00 L316.00 103.00 L315.00 103.00 L314.00 103.00 L313.00 103.00 L312.00 103.00 L311.00 103.00 L310.00 103.00 L309.00 103.00 L308.00 103.00 L307.00 103.00 L306.00 103.00 L305.00 103.00 L304.00 103.00 L303.00 103.00 L302.00 103.00 L301.00 103.00 L300.00 103.00 L299.00 103.00 L298.00 103.00 L297.00 103.00 L296.00 103.00 Z" fill="url(#g19)"/>
<path d="M443.70 104.60 L444.70 104.49 L445.70 104.35 L446.70 104.15 L447.70 103.91 L448.70 103.60 L449.70 103.20 L450.70 102.72 L451.70 102.14 L452.70 101.43 L453.70 100.58 L454.70 99.57 L455.70 98.39 L456.70 97.01 L457.70 95.42 L458.70 93.61 L459.70 91.56 L460.70 89.28 L461.70 86.75 L462.70 83.99 L463.70 80.99 L464.70 77.79 L465.70 74.40 L466.70 70.85 L467.70 67.19 L468.70 63.46 L469.70 59.71 L470.70 56.01 L471.70 52.40 L472.70 48.97 L473.70 45.77 L474.70 42.86 L475.70 40.31 L476.70 38.18 L477.70 36.49 L478.70 35.31 L479.70 34.64 L480.70 34.51 L481.70 34.88 L482.70 35.72 L483.70 37.00 L484.70 38.72 L485.70 40.82 L486.70 43.29 L487.70 46.06 L488.70 49.10 L489.70 52.35 L490.70 55.76 L491.70 59.27 L492.70 62.83 L493.70 66.41 L494.70 69.94 L495.70 73.39 L496.70 76.72 L497.70 79.91 L498.70 82.93 L499.70 85.76 L500.70 88.38 L501.70 90.79 L502.70 92.99 L503.70 94.97 L504.70 96.76 L505.70 98.35 L506.70 99.75 L507.70 100.97 L508.70 102.04 L509.70 102.96 L510.70 103.75 L511.70 104.43 L512.70 105.00 L513.70 105.48 L514.70 105.88 L515.70 106.21 L516.70 106.49 L517.70 106.72 L518.70 106.91 L519.70 107.07 L519.70 107.51 L518.70 107.49 L517.70 107.46 L516.70 107.44 L515.70 107.41 L514.70 107.38 L513.70 107.36 L512.70 107.33 L511.70 107.31 L510.70 107.28 L509.70 107.25 L508.70 107.23 L507.70 107.20 L506.70 107.17 L505.70 107.15 L504.70 107.12 L503.70 107.10 L502.70 107.07 L501.70 107.04 L500.70 107.02 L499.70 106.99 L498.70 106.95 L497.70 106.92 L496.70 106.88 L495.70 106.85 L494.70 106.81 L493.70 106.77 L492.70 106.74 L491.70 106.70 L490.70 106.67 L489.70 106.63 L488.70 106.59 L487.70 106.56 L486.70 106.52 L485.70 106.49 L484.70 106.45 L483.70 106.41 L482.70 106.38 L481.70 106.34 L480.70 106.31 L479.70 106.27 L478.70 106.23 L477.70 106.20 L476.70 106.16 L475.70 106.13 L474.70 106.09 L473.70 106.05 L472.70 106.02 L471.70 105.98 L470.70 105.95 L469.70 105.91 L468.70 105.87 L467.70 105.84 L466.70 105.80 L465.70 105.77 L464.70 105.73 L463.70 105.69 L462.70 105.66 L461.70 105.62 L460.70 105.59 L459.70 105.55 L458.70 105.51 L457.70 105.48 L456.70 105.44 L455.70 105.41 L454.70 105.37 L453.70 105.33 L452.70 105.30 L451.70 105.26 L450.70 105.23 L449.70 105.19 L448.70 105.16 L447.70 105.14 L446.70 105.11 L445.70 105.08 L444.70 105.06 L443.70 105.03 Z" fill="url(#g20)"/>
<path d="M415.10 104.04 L416.10 104.00 L417.10 103.94 L418.10 103.87 L419.10 103.77 L420.10 103.64 L421.10 103.47 L422.10 103.26 L423.10 103.01 L424.10 102.70 L425.10 102.32 L426.10 101.88 L427.10 101.36 L428.10 100.75 L429.10 100.05 L430.10 99.25 L431.10 98.35 L432.10 97.33 L433.10 96.21 L434.10 94.97 L435.10 93.62 L436.10 92.17 L437.10 90.62 L438.10 88.99 L439.10 87.28 L440.10 85.53 L441.10 83.73 L442.10 81.93 L443.10 80.15 L444.10 78.40 L445.10 76.73 L446.10 75.16 L447.10 73.72 L448.10 72.43 L449.10 71.33 L450.10 70.43 L451.10 69.76 L452.10 69.32 L453.10 69.13 L454.10 69.19 L455.10 69.46 L456.10 69.94 L457.10 70.62 L458.10 71.49 L459.10 72.54 L460.10 73.74 L461.10 75.09 L462.10 76.55 L463.10 78.11 L464.10 79.75 L465.10 81.43 L466.10 83.15 L467.10 84.87 L468.10 86.58 L469.10 88.27 L470.10 89.90 L471.10 91.48 L472.10 92.99 L473.10 94.41 L474.10 95.75 L475.10 97.00 L476.10 98.15 L477.10 99.21 L478.10 100.17 L479.10 101.04 L480.10 101.82 L481.10 102.52 L482.10 103.14 L483.10 103.68 L484.10 104.16 L485.10 104.58 L486.10 104.94 L487.10 105.25 L488.10 105.52 L489.10 105.76 L490.10 105.96 L491.10 106.13 L492.10 106.27 L493.10 106.40 L494.10 106.51 L495.10 106.61 L495.10 106.82 L494.10 106.79 L493.10 106.75 L492.10 106.72 L491.10 106.68 L490.10 106.64 L489.10 106.61 L488.10 106.57 L487.10 106.54 L486.10 106.50 L485.10 106.46 L484.10 106.43 L483.10 106.39 L482.10 106.36 L481.10 106.32 L480.10 106.28 L479.10 106.25 L478.10 106.21 L477.10 106.18 L476.10 106.14 L475.10 106.10 L474.10 106.07 L473.10 106.03 L472.10 106.00 L471.10 105.96 L470.10 105.92 L469.10 105.89 L468.10 105.85 L467.10 105.82 L466.10 105.78 L465.10 105.74 L464.10 105.71 L463.10 105.67 L462.10 105.64 L461.10 105.60 L460.10 105.56 L459.10 105.53 L458.10 105.49 L457.10 105.46 L456.10 105.42 L455.10 105.38 L454.10 105.35 L453.10 105.31 L452.10 105.28 L451.10 105.24 L450.10 105.20 L449.10 105.18 L448.10 105.15 L447.10 105.12 L446.10 105.09 L445.10 105.07 L444.10 105.04 L443.10 105.01 L442.10 104.99 L441.10 104.96 L440.10 104.93 L439.10 104.90 L438.10 104.88 L437.10 104.85 L436.10 104.82 L435.10 104.80 L434.10 104.77 L433.10 104.74 L432.10 104.71 L431.10 104.69 L430.10 104.66 L429.10 104.63 L428.10 104.61 L427.10 104.58 L426.10 104.55 L425.10 104.52 L424.10 104.50 L423.10 104.47 L422.10 104.44 L421.10 104.42 L420.10 104.39 L419.10 104.36 L418.10 104.33 L417.10 104.31 L416.10 104.28 L415.10 104.25 Z" fill="url(#g21)"/>
<path d="M317.00 103.00 C327.50 103.05 357.83 102.93 380.00 103.30 C402.17 103.67 430.00 104.58 450.00 105.20 C470.00 105.82 487.83 106.60 500.00 107.00 C512.17 107.40 508.33 107.10 523.00 107.60 C537.67 108.10 577.17 109.60 588.00 110.00" fill="none" stroke="#202020" stroke-width="1.00" stroke-linejoin="round"/>
<path d="M318.00 102.30 C319.75 102.30 324.50 102.53 328.50 102.30 C332.50 102.07 337.50 101.58 342.00 100.90 C346.50 100.22 351.00 99.10 355.50 98.20 C360.00 97.30 364.92 96.28 369.00 95.50 C373.08 94.72 376.67 94.08 380.00 93.50 C383.33 92.92 385.75 92.30 389.00 92.00 C392.25 91.70 396.25 91.58 399.50 91.70 C402.75 91.82 405.75 92.15 408.50 92.70 C411.25 93.25 413.50 94.40 416.00 95.00 C418.50 95.60 421.58 96.25 423.50 96.30 C425.42 96.35 426.25 95.85 427.50 95.30 C428.75 94.75 429.53 94.45 431.00 93.00 C432.47 91.55 434.70 89.32 436.30 86.60 C437.90 83.88 438.95 80.25 440.60 76.70 C442.25 73.15 444.32 68.38 446.20 65.30 C448.08 62.22 450.00 60.32 451.90 58.20 C453.80 56.08 455.72 54.48 457.60 52.60 C459.48 50.72 461.32 49.03 463.20 46.90 C465.08 44.77 467.00 42.40 468.90 39.80 C470.80 37.20 472.82 33.47 474.60 31.30 C476.38 29.13 478.27 27.35 479.60 26.80 C480.93 26.25 481.60 27.02 482.60 28.00 C483.60 28.98 484.63 30.25 485.60 32.70 C486.57 35.15 487.47 38.90 488.40 42.70 C489.33 46.50 490.27 51.70 491.20 55.50 C492.13 59.30 493.17 62.95 494.00 65.50 C494.83 68.05 495.42 68.72 496.20 70.80 C496.98 72.88 497.85 75.68 498.70 78.00 C499.55 80.32 500.30 82.48 501.30 84.70 C502.30 86.92 503.47 89.30 504.70 91.30 C505.93 93.30 507.37 95.13 508.70 96.70 C510.03 98.27 511.15 99.48 512.70 100.70 C514.25 101.92 516.00 103.07 518.00 104.00 C520.00 104.93 522.03 105.70 524.70 106.30 C527.37 106.90 530.62 107.25 534.00 107.60 C537.38 107.95 540.55 108.15 545.00 108.40 C549.45 108.65 553.70 108.80 560.70 109.10 C567.70 109.40 582.62 110.02 587.00 110.20" fill="none" stroke="#e82020" stroke-width="1.30" stroke-linejoin="round"/>
<g fill="none" stroke="#8c8cec" stroke-width="0.45"><circle cx="319.3" cy="189.0" r="1.1"/><circle cx="320.9" cy="190.0" r="1.1"/><circle cx="321.9" cy="189.3" r="1.1"/><circle cx="323.5" cy="189.6" r="1.1"/><circle cx="324.1" cy="190.2" r="1.1"/><circle cx="325.8" cy="189.8" r="1.1"/><circle cx="327.2" cy="190.2" r="1.1"/><circle cx="328.6" cy="188.0" r="1.1"/><circle cx="329.7" cy="189.1" r="1.1"/><circle cx="331.2" cy="188.2" r="1.1"/><circle cx="332.5" cy="189.0" r="1.1"/><circle cx="334.6" cy="188.3" r="1.1"/><circle cx="335.8" cy="187.9" r="1.1"/><circle cx="337.7" cy="189.3" r="1.1"/><circle cx="338.4" cy="186.6" r="1.1"/><circle cx="340.2" cy="188.1" r="1.1"/><circle cx="341.4" cy="186.9" r="1.1"/><circle cx="342.6" cy="186.9" r="1.1"/><circle cx="344.5" cy="187.5" r="1.1"/><circle cx="345.2" cy="184.7" r="1.1"/><circle cx="346.6" cy="186.0" r="1.1"/><circle cx="348.0" cy="186.8" r="1.1"/><circle cx="350.2" cy="184.4" r="1.1"/><circle cx="351.4" cy="184.2" r="1.1"/><circle cx="352.7" cy="184.5" r="1.1"/><circle cx="353.6" cy="182.7" r="1.1"/><circle cx="355.0" cy="183.3" r="1.1"/><circle cx="356.5" cy="184.1" r="1.1"/><circle cx="358.7" cy="184.3" r="1.1"/><circle cx="360.0" cy="182.4" r="1.1"/><circle cx="361.4" cy="181.3" r="1.1"/><circle cx="362.3" cy="181.8" r="1.1"/><circle cx="363.4" cy="181.8" r="1.1"/><circle cx="364.9" cy="180.8" r="1.1"/><circle cx="367.1" cy="181.8" r="1.1"/><circle cx="368.0" cy="182.0" r="1.1"/><circle cx="369.1" cy="180.3" r="1.1"/><circle cx="370.5" cy="179.2" r="1.1"/><circle cx="372.7" cy="177.8" r="1.1"/><circle cx="373.2" cy="178.3" r="1.1"/><circle cx="374.6" cy="179.0" r="1.1"/><circle cx="376.0" cy="179.0" r="1.1"/><circle cx="378.0" cy="177.7" r="1.1"/><circle cx="379.2" cy="177.2" r="1.1"/><circle cx="380.9" cy="176.4" r="1.1"/><circle cx="381.7" cy="176.2" r="1.1"/><circle cx="383.1" cy="175.8" r="1.1"/><circle cx="384.4" cy="176.6" r="1.1"/><circle cx="385.8" cy="175.3" r="1.1"/><circle cx="387.3" cy="176.0" r="1.1"/><circle cx="389.3" cy="175.9" r="1.1"/><circle cx="390.1" cy="174.0" r="1.1"/><circle cx="391.8" cy="175.4" r="1.1"/><circle cx="393.1" cy="174.7" r="1.1"/><circle cx="394.7" cy="174.7" r="1.1"/><circle cx="395.8" cy="173.9" r="1.1"/><circle cx="397.9" cy="175.5" r="1.1"/><circle cx="399.0" cy="174.5" r="1.1"/><circle cx="399.8" cy="175.1" r="1.1"/><circle cx="401.7" cy="173.4" r="1.1"/><circle cx="402.8" cy="173.0" r="1.1"/><circle cx="404.1" cy="173.7" r="1.1"/><circle cx="406.0" cy="173.3" r="1.1"/><circle cx="406.8" cy="173.7" r="1.1"/><circle cx="408.6" cy="173.1" r="1.1"/><circle cx="409.8" cy="174.5" r="1.1"/><circle cx="411.0" cy="174.5" r="1.1"/><circle cx="412.4" cy="172.8" r="1.1"/><circle cx="413.9" cy="174.6" r="1.1"/><circle cx="415.9" cy="176.0" r="1.1"/><circle cx="417.4" cy="175.1" r="1.1"/><circle cx="418.5" cy="176.1" r="1.1"/><circle cx="419.3" cy="176.3" r="1.1"/><circle cx="421.7" cy="177.2" r="1.1"/><circle cx="422.4" cy="177.0" r="1.1"/><circle cx="423.7" cy="176.4" r="1.1"/><circle cx="425.2" cy="177.4" r="1.1"/><circle cx="426.9" cy="176.1" r="1.1"/><circle cx="428.4" cy="176.3" r="1.1"/><circle cx="430.0" cy="175.1" r="1.1"/><circle cx="430.8" cy="174.4" r="1.1"/><circle cx="432.1" cy="172.2" r="1.1"/><circle cx="433.4" cy="171.0" r="1.1"/><circle cx="435.6" cy="166.5" r="1.1"/><circle cx="436.4" cy="164.2" r="1.1"/><circle cx="437.7" cy="160.7" r="1.1"/><circle cx="439.1" cy="154.3" r="1.1"/><circle cx="441.3" cy="151.8" r="1.1"/><circle cx="442.6" cy="150.4" r="1.1"/><circle cx="443.8" cy="147.0" r="1.1"/><circle cx="444.7" cy="147.0" r="1.1"/><circle cx="446.9" cy="145.6" r="1.1"/><circle cx="447.9" cy="145.7" r="1.1"/><circle cx="449.2" cy="144.8" r="1.1"/><circle cx="450.8" cy="144.8" r="1.1"/><circle cx="452.5" cy="144.5" r="1.1"/><circle cx="453.1" cy="145.0" r="1.1"/><circle cx="455.1" cy="144.8" r="1.1"/><circle cx="456.5" cy="142.7" r="1.1"/><circle cx="457.8" cy="141.7" r="1.1"/><circle cx="458.6" cy="139.7" r="1.1"/><circle cx="460.4" cy="137.8" r="1.1"/><circle cx="461.9" cy="133.6" r="1.1"/><circle cx="462.9" cy="130.4" r="1.1"/><circle cx="464.6" cy="126.4" r="1.1"/><circle cx="466.4" cy="122.0" r="1.1"/><circle cx="466.9" cy="119.8" r="1.1"/><circle cx="468.9" cy="118.3" r="1.1"/><circle cx="470.0" cy="116.1" r="1.1"/><circle cx="471.2" cy="115.4" r="1.1"/><circle cx="472.6" cy="116.9" r="1.1"/><circle cx="474.7" cy="116.7" r="1.1"/><circle cx="475.5" cy="120.0" r="1.1"/><circle cx="477.6" cy="122.4" r="1.1"/><circle cx="478.6" cy="126.4" r="1.1"/><circle cx="479.8" cy="130.4" r="1.1"/><circle cx="481.6" cy="134.8" r="1.1"/><circle cx="483.3" cy="140.9" r="1.1"/><circle cx="483.9" cy="145.4" r="1.1"/><circle cx="485.9" cy="151.8" r="1.1"/><circle cx="487.0" cy="156.5" r="1.1"/><circle cx="488.4" cy="162.2" r="1.1"/><circle cx="489.3" cy="166.2" r="1.1"/><circle cx="490.9" cy="168.5" r="1.1"/><circle cx="492.3" cy="172.0" r="1.1"/><circle cx="493.9" cy="176.0" r="1.1"/><circle cx="495.7" cy="176.9" r="1.1"/><circle cx="496.5" cy="180.6" r="1.1"/><circle cx="498.3" cy="182.3" r="1.1"/><circle cx="499.4" cy="184.0" r="1.1"/><circle cx="500.9" cy="183.2" r="1.1"/><circle cx="502.5" cy="183.8" r="1.1"/><circle cx="503.6" cy="185.2" r="1.1"/><circle cx="505.3" cy="185.7" r="1.1"/><circle cx="507.1" cy="186.6" r="1.1"/><circle cx="507.9" cy="186.9" r="1.1"/><circle cx="509.2" cy="186.6" r="1.1"/><circle cx="510.8" cy="185.7" r="1.1"/><circle cx="512.3" cy="187.8" r="1.1"/><circle cx="513.4" cy="187.6" r="1.1"/><circle cx="515.2" cy="186.5" r="1.1"/><circle cx="516.1" cy="185.2" r="1.1"/><circle cx="517.7" cy="186.1" r="1.1"/><circle cx="519.6" cy="185.1" r="1.1"/><circle cx="520.1" cy="185.7" r="1.1"/><circle cx="521.6" cy="185.4" r="1.1"/><circle cx="523.0" cy="187.1" r="1.1"/><circle cx="525.1" cy="187.7" r="1.1"/><circle cx="526.7" cy="187.0" r="1.1"/><circle cx="527.2" cy="188.5" r="1.1"/><circle cx="529.1" cy="189.5" r="1.1"/><circle cx="530.3" cy="190.8" r="1.1"/><circle cx="532.0" cy="191.7" r="1.1"/><circle cx="533.2" cy="193.0" r="1.1"/><circle cx="534.6" cy="193.4" r="1.1"/><circle cx="536.4" cy="192.4" r="1.1"/><circle cx="537.6" cy="193.3" r="1.1"/><circle cx="538.5" cy="194.4" r="1.1"/><circle cx="540.5" cy="195.2" r="1.1"/><circle cx="541.8" cy="193.9" r="1.1"/><circle cx="543.5" cy="193.3" r="1.1"/><circle cx="544.5" cy="196.5" r="1.1"/><circle cx="545.5" cy="196.1" r="1.1"/><circle cx="547.6" cy="196.3" r="1.1"/><circle cx="548.8" cy="196.9" r="1.1"/><circle cx="549.6" cy="195.8" r="1.1"/><circle cx="551.4" cy="195.8" r="1.1"/><circle cx="552.7" cy="196.4" r="1.1"/><circle cx="554.3" cy="198.3" r="1.1"/><circle cx="556.0" cy="196.6" r="1.1"/><circle cx="556.8" cy="196.1" r="1.1"/><circle cx="558.8" cy="197.2" r="1.1"/><circle cx="559.5" cy="196.4" r="1.1"/><circle cx="561.0" cy="197.2" r="1.1"/><circle cx="562.9" cy="197.6" r="1.1"/><circle cx="564.0" cy="197.7" r="1.1"/><circle cx="565.1" cy="197.5" r="1.1"/><circle cx="566.3" cy="197.2" r="1.1"/><circle cx="568.7" cy="196.5" r="1.1"/><circle cx="569.9" cy="197.6" r="1.1"/><circle cx="571.3" cy="196.6" r="1.1"/><circle cx="572.3" cy="197.0" r="1.1"/><circle cx="573.9" cy="197.2" r="1.1"/><circle cx="575.2" cy="197.2" r="1.1"/><circle cx="577.1" cy="198.1" r="1.1"/><circle cx="578.1" cy="196.0" r="1.1"/><circle cx="578.9" cy="196.9" r="1.1"/><circle cx="580.5" cy="196.6" r="1.1"/><circle cx="582.3" cy="198.8" r="1.1"/><circle cx="584.0" cy="198.1" r="1.1"/><circle cx="584.5" cy="198.2" r="1.1"/></g>
<path d="M316.40 190.56 L317.40 190.55 L318.40 190.54 L319.40 190.54 L320.40 190.53 L321.40 190.52 L322.40 190.50 L323.40 190.49 L324.40 190.47 L325.40 190.45 L326.40 190.42 L327.40 190.39 L328.40 190.36 L329.40 190.32 L330.40 190.27 L331.40 190.22 L332.40 190.16 L333.40 190.10 L334.40 190.03 L335.40 189.95 L336.40 189.86 L337.40 189.76 L338.40 189.66 L339.40 189.54 L340.40 189.42 L341.40 189.28 L342.40 189.14 L343.40 188.98 L344.40 188.82 L345.40 188.64 L346.40 188.46 L347.40 188.26 L348.40 188.06 L349.40 187.85 L350.40 187.63 L351.40 187.40 L352.40 187.17 L353.40 186.93 L354.40 186.69 L355.40 186.45 L356.40 186.20 L357.40 185.96 L358.40 185.72 L359.40 185.48 L360.40 185.25 L361.40 185.02 L362.40 184.81 L363.40 184.60 L364.40 184.41 L365.40 184.23 L366.40 184.07 L367.40 183.92 L368.40 183.80 L369.40 183.69 L370.40 183.60 L371.40 183.54 L372.40 183.50 L373.40 183.48 L374.40 183.48 L375.40 183.51 L376.40 183.56 L377.40 183.64 L378.40 183.74 L379.40 183.86 L380.40 184.01 L381.40 184.18 L382.40 184.37 L383.40 184.57 L384.40 184.79 L385.40 185.02 L386.40 185.26 L387.40 185.52 L388.40 185.77 L389.40 186.04 L390.40 186.31 L391.40 186.58 L392.40 186.84 L393.40 187.11 L394.40 187.37 L395.40 187.63 L396.40 187.88 L397.40 188.12 L398.40 188.35 L399.40 188.57 L400.40 188.78 L401.40 188.98 L402.40 189.17 L403.40 189.34 L404.40 189.50 L405.40 189.66 L406.40 189.80 L407.40 189.93 L408.40 190.04 L409.40 190.15 L410.40 190.25 L411.40 190.34 L412.40 190.42 L413.40 190.50 L414.40 190.56 L415.40 190.62 L416.40 190.67 L417.40 190.72 L418.40 190.76 L419.40 190.79 L420.40 190.82 L421.40 190.85 L422.40 190.87 L423.40 190.89 L424.40 190.91 L425.40 190.92 L426.40 190.94 L427.40 190.95 L428.40 190.96 L428.40 191.00 L427.40 191.00 L426.40 191.00 L425.40 191.00 L424.40 191.00 L423.40 191.00 L422.40 191.00 L421.40 191.00 L420.40 191.00 L419.40 191.00 L418.40 191.00 L417.40 191.00 L416.40 191.00 L415.40 191.00 L414.40 191.00 L413.40 191.00 L412.40 191.00 L411.40 191.00 L410.40 191.00 L409.40 191.00 L408.40 191.00 L407.40 191.00 L406.40 191.00 L405.40 191.00 L404.40 191.00 L403.40 191.00 L402.40 191.00 L401.40 191.00 L400.40 191.00 L399.40 191.00 L398.40 190.99 L397.40 190.99 L396.40 190.98 L395.40 190.98 L394.40 190.97 L393.40 190.97 L392.40 190.96 L391.40 190.96 L390.40 190.95 L389.40 190.95 L388.40 190.94 L387.40 190.94 L386.40 190.93 L385.40 190.93 L384.40 190.92 L383.40 190.92 L382.40 190.92 L381.40 190.91 L380.40 190.91 L379.40 190.90 L378.40 190.90 L377.40 190.89 L376.40 190.89 L375.40 190.88 L374.40 190.88 L373.40 190.87 L372.40 190.87 L371.40 190.86 L370.40 190.86 L369.40 190.85 L368.40 190.85 L367.40 190.84 L366.40 190.84 L365.40 190.83 L364.40 190.83 L363.40 190.82 L362.40 190.82 L361.40 190.81 L360.40 190.81 L359.40 190.80 L358.40 190.80 L357.40 190.79 L356.40 190.79 L355.40 190.79 L354.40 190.78 L353.40 190.78 L352.40 190.77 L351.40 190.77 L350.40 190.76 L349.40 190.76 L348.40 190.75 L347.40 190.75 L346.40 190.74 L345.40 190.74 L344.40 190.73 L343.40 190.73 L342.40 190.72 L341.40 190.72 L340.40 190.71 L339.40 190.71 L338.40 190.70 L337.40 190.70 L336.40 190.69 L335.40 190.69 L334.40 190.68 L333.40 190.68 L332.40 190.67 L331.40 190.67 L330.40 190.66 L329.40 190.66 L328.40 190.65 L327.40 190.65 L326.40 190.65 L325.40 190.64 L324.40 190.64 L323.40 190.63 L322.40 190.63 L321.40 190.62 L320.40 190.62 L319.40 190.61 L318.40 190.61 L317.40 190.60 L316.40 190.60 Z" fill="url(#g22)"/>
<path d="M311.20 190.57 L312.20 190.57 L313.20 190.57 L314.20 190.56 L315.20 190.56 L316.20 190.55 L317.20 190.55 L318.20 190.54 L319.20 190.54 L320.20 190.54 L321.20 190.53 L322.20 190.53 L323.20 190.52 L324.20 190.51 L325.20 190.50 L326.20 190.49 L327.20 190.48 L328.20 190.47 L329.20 190.45 L330.20 190.43 L331.20 190.41 L332.20 190.39 L333.20 190.37 L334.20 190.34 L335.20 190.31 L336.20 190.28 L337.20 190.25 L338.20 190.21 L339.20 190.18 L340.20 190.13 L341.20 190.09 L342.20 190.04 L343.20 189.99 L344.20 189.94 L345.20 189.88 L346.20 189.82 L347.20 189.76 L348.20 189.69 L349.20 189.62 L350.20 189.54 L351.20 189.47 L352.20 189.39 L353.20 189.31 L354.20 189.22 L355.20 189.13 L356.20 189.04 L357.20 188.95 L358.20 188.86 L359.20 188.76 L360.20 188.66 L361.20 188.56 L362.20 188.46 L363.20 188.36 L364.20 188.26 L365.20 188.16 L366.20 188.06 L367.20 187.96 L368.20 187.86 L369.20 187.76 L370.20 187.67 L371.20 187.57 L372.20 187.48 L373.20 187.40 L374.20 187.32 L375.20 187.24 L376.20 187.16 L377.20 187.09 L378.20 187.03 L379.20 186.97 L380.20 186.92 L381.20 186.87 L382.20 186.84 L383.20 186.80 L384.20 186.78 L385.20 186.76 L386.20 186.75 L387.20 186.74 L388.20 186.74 L389.20 186.75 L390.20 186.77 L391.20 186.80 L392.20 186.84 L393.20 186.88 L394.20 186.94 L395.20 187.00 L396.20 187.06 L397.20 187.14 L398.20 187.22 L399.20 187.31 L400.20 187.40 L401.20 187.49 L402.20 187.59 L403.20 187.69 L404.20 187.80 L405.20 187.91 L406.20 188.02 L407.20 188.13 L408.20 188.24 L409.20 188.36 L410.20 188.48 L411.20 188.59 L412.20 188.71 L413.20 188.82 L414.20 188.93 L415.20 189.04 L416.20 189.15 L417.20 189.26 L418.20 189.36 L419.20 189.46 L420.20 189.56 L421.20 189.65 L422.20 189.75 L423.20 189.83 L424.20 189.92 L425.20 189.99 L426.20 190.07 L427.20 190.14 L428.20 190.21 L429.20 190.27 L430.20 190.33 L431.20 190.39 L432.20 190.44 L433.20 190.49 L434.20 190.54 L435.20 190.58 L436.20 190.62 L437.20 190.66 L438.20 190.69 L439.20 190.72 L440.20 190.75 L441.20 190.80 L442.20 190.84 L443.20 190.88 L444.20 190.92 L445.20 190.96 L446.20 191.00 L447.20 191.03 L448.20 191.06 L449.20 191.10 L450.20 191.13 L451.20 191.16 L452.20 191.18 L453.20 191.21 L454.20 191.24 L455.20 191.26 L456.20 191.29 L457.20 191.31 L458.20 191.34 L458.20 191.36 L457.20 191.34 L456.20 191.32 L455.20 191.30 L454.20 191.28 L453.20 191.26 L452.20 191.24 L451.20 191.22 L450.20 191.20 L449.20 191.18 L448.20 191.16 L447.20 191.14 L446.20 191.12 L445.20 191.10 L444.20 191.08 L443.20 191.06 L442.20 191.04 L441.20 191.02 L440.20 191.00 L439.20 191.00 L438.20 191.00 L437.20 191.00 L436.20 191.00 L435.20 191.00 L434.20 191.00 L433.20 191.00 L432.20 191.00 L431.20 191.00 L430.20 191.00 L429.20 191.00 L428.20 191.00 L427.20 191.00 L426.20 191.00 L425.20 191.00 L424.20 191.00 L423.20 191.00 L422.20 191.00 L421.20 191.00 L420.20 191.00 L419.20 191.00 L418.20 191.00 L417.20 191.00 L416.20 191.00 L415.20 191.00 L414.20 191.00 L413.20 191.00 L412.20 191.00 L411.20 191.00 L410.20 191.00 L409.20 191.00 L408.20 191.00 L407.20 191.00 L406.20 191.00 L405.20 191.00 L404.20 191.00 L403.20 191.00 L402.20 191.00 L401.20 191.00 L400.20 191.00 L399.20 191.00 L398.20 190.99 L397.20 190.99 L396.20 190.98 L395.20 190.98 L394.20 190.97 L393.20 190.97 L392.20 190.96 L391.20 190.96 L390.20 190.95 L389.20 190.95 L388.20 190.94 L387.20 190.94 L386.20 190.93 L385.20 190.93 L384.20 190.92 L383.20 190.92 L382.20 190.91 L381.20 190.91 L380.20 190.90 L379.20 190.90 L378.20 190.89 L377.20 190.89 L376.20 190.89 L375.20 190.88 L374.20 190.88 L373.20 190.87 L372.20 190.87 L371.20 190.86 L370.20 190.86 L369.20 190.85 L368.20 190.85 L367.20 190.84 L366.20 190.84 L365.20 190.83 L364.20 190.83 L363.20 190.82 L362.20 190.82 L361.20 190.81 L360.20 190.81 L359.20 190.80 L358.20 190.80 L357.20 190.79 L356.20 190.79 L355.20 190.78 L354.20 190.78 L353.20 190.77 L352.20 190.77 L351.20 190.76 L350.20 190.76 L349.20 190.76 L348.20 190.75 L347.20 190.75 L346.20 190.74 L345.20 190.74 L344.20 190.73 L343.20 190.73 L342.20 190.72 L341.20 190.72 L340.20 190.71 L339.20 190.71 L338.20 190.70 L337.20 190.70 L336.20 190.69 L335.20 190.69 L334.20 190.68 L333.20 190.68 L332.20 190.67 L331.20 190.67 L330.20 190.66 L329.20 190.66 L328.20 190.65 L327.20 190.65 L326.20 190.64 L325.20 190.64 L324.20 190.63 L323.20 190.63 L322.20 190.63 L321.20 190.62 L320.20 190.62 L319.20 190.61 L318.20 190.61 L317.20 190.60 L316.20 190.60 L315.20 190.60 L314.20 190.60 L313.20 190.60 L312.20 190.60 L311.20 190.60 Z" fill="url(#g23)"/>
<path d="M344.20 190.66 L345.20 190.65 L346.20 190.64 L347.20 190.63 L348.20 190.61 L349.20 190.59 L350.20 190.57 L351.20 190.54 L352.20 190.51 L353.20 190.48 L354.20 190.43 L355.20 190.39 L356.20 190.33 L357.20 190.27 L358.20 190.21 L359.20 190.13 L360.20 190.04 L361.20 189.95 L362.20 189.85 L363.20 189.73 L364.20 189.60 L365.20 189.46 L366.20 189.31 L367.20 189.14 L368.20 188.96 L369.20 188.77 L370.20 188.56 L371.20 188.33 L372.20 188.09 L373.20 187.84 L374.20 187.57 L375.20 187.29 L376.20 186.99 L377.20 186.67 L378.20 186.35 L379.20 186.01 L380.20 185.66 L381.20 185.30 L382.20 184.93 L383.20 184.55 L384.20 184.17 L385.20 183.78 L386.20 183.39 L387.20 183.01 L388.20 182.62 L389.20 182.24 L390.20 181.87 L391.20 181.51 L392.20 181.16 L393.20 180.82 L394.20 180.51 L395.20 180.21 L396.20 179.93 L397.20 179.68 L398.20 179.45 L399.20 179.26 L400.20 179.09 L401.20 178.94 L402.20 178.83 L403.20 178.76 L404.20 178.71 L405.20 178.70 L406.20 178.72 L407.20 178.77 L408.20 178.86 L409.20 178.97 L410.20 179.11 L411.20 179.28 L412.20 179.47 L413.20 179.69 L414.20 179.93 L415.20 180.20 L416.20 180.49 L417.20 180.79 L418.20 181.11 L419.20 181.44 L420.20 181.79 L421.20 182.14 L422.20 182.50 L423.20 182.87 L424.20 183.24 L425.20 183.61 L426.20 183.99 L427.20 184.36 L428.20 184.72 L429.20 185.08 L430.20 185.44 L431.20 185.78 L432.20 186.12 L433.20 186.45 L434.20 186.76 L435.20 187.07 L436.20 187.36 L437.20 187.63 L438.20 187.90 L439.20 188.15 L440.20 188.39 L441.20 188.63 L442.20 188.86 L443.20 189.08 L444.20 189.28 L445.20 189.47 L446.20 189.65 L447.20 189.82 L448.20 189.97 L449.20 190.11 L450.20 190.25 L451.20 190.37 L452.20 190.48 L453.20 190.59 L454.20 190.69 L455.20 190.78 L456.20 190.86 L457.20 190.94 L458.20 191.01 L459.20 191.07 L460.20 191.13 L461.20 191.19 L462.20 191.24 L463.20 191.29 L464.20 191.33 L465.20 191.37 L466.20 191.41 L467.20 191.45 L468.20 191.48 L468.20 191.56 L467.20 191.54 L466.20 191.52 L465.20 191.50 L464.20 191.48 L463.20 191.46 L462.20 191.44 L461.20 191.42 L460.20 191.40 L459.20 191.38 L458.20 191.36 L457.20 191.34 L456.20 191.32 L455.20 191.30 L454.20 191.28 L453.20 191.26 L452.20 191.24 L451.20 191.22 L450.20 191.20 L449.20 191.18 L448.20 191.16 L447.20 191.14 L446.20 191.12 L445.20 191.10 L444.20 191.08 L443.20 191.06 L442.20 191.04 L441.20 191.02 L440.20 191.00 L439.20 191.00 L438.20 191.00 L437.20 191.00 L436.20 191.00 L435.20 191.00 L434.20 191.00 L433.20 191.00 L432.20 191.00 L431.20 191.00 L430.20 191.00 L429.20 191.00 L428.20 191.00 L427.20 191.00 L426.20 191.00 L425.20 191.00 L424.20 191.00 L423.20 191.00 L422.20 191.00 L421.20 191.00 L420.20 191.00 L419.20 191.00 L418.20 191.00 L417.20 191.00 L416.20 191.00 L415.20 191.00 L414.20 191.00 L413.20 191.00 L412.20 191.00 L411.20 191.00 L410.20 191.00 L409.20 191.00 L408.20 191.00 L407.20 191.00 L406.20 191.00 L405.20 191.00 L404.20 191.00 L403.20 191.00 L402.20 191.00 L401.20 191.00 L400.20 191.00 L399.20 191.00 L398.20 190.99 L397.20 190.99 L396.20 190.98 L395.20 190.98 L394.20 190.97 L393.20 190.97 L392.20 190.96 L391.20 190.96 L390.20 190.95 L389.20 190.95 L388.20 190.94 L387.20 190.94 L386.20 190.93 L385.20 190.93 L384.20 190.92 L383.20 190.92 L382.20 190.91 L381.20 190.91 L380.20 190.90 L379.20 190.90 L378.20 190.89 L377.20 190.89 L376.20 190.89 L375.20 190.88 L374.20 190.88 L373.20 190.87 L372.20 190.87 L371.20 190.86 L370.20 190.86 L369.20 190.85 L368.20 190.85 L367.20 190.84 L366.20 190.84 L365.20 190.83 L364.20 190.83 L363.20 190.82 L362.20 190.82 L361.20 190.81 L360.20 190.81 L359.20 190.80 L358.20 190.80 L357.20 190.79 L356.20 190.79 L355.20 190.78 L354.20 190.78 L353.20 190.77 L352.20 190.77 L351.20 190.76 L350.20 190.76 L349.20 190.76 L348.20 190.75 L347.20 190.75 L346.20 190.74 L345.20 190.74 L344.20 190.73 Z" fill="url(#g24)"/>
<path d="M440.40 190.58 L441.40 190.43 L442.40 190.22 L443.40 189.94 L444.40 189.57 L445.40 189.08 L446.40 188.46 L447.40 187.67 L448.40 186.68 L449.40 185.47 L450.40 184.00 L451.40 182.24 L452.40 180.17 L453.40 177.76 L454.40 174.99 L455.40 171.88 L456.40 168.41 L457.40 164.61 L458.40 160.52 L459.40 156.20 L460.40 151.70 L461.40 147.11 L462.40 142.54 L463.40 138.09 L464.40 133.87 L465.40 129.99 L466.40 126.58 L467.40 123.73 L468.40 121.54 L469.40 120.07 L470.40 119.39 L471.40 119.50 L472.40 120.27 L473.40 121.66 L474.40 123.63 L475.40 126.14 L476.40 129.12 L477.40 132.51 L478.40 136.22 L479.40 140.17 L480.40 144.28 L481.40 148.47 L482.40 152.66 L483.40 156.78 L484.40 160.77 L485.40 164.57 L486.40 168.16 L487.40 171.49 L488.40 174.55 L489.40 177.32 L490.40 179.81 L491.40 182.02 L492.40 183.95 L493.40 185.63 L494.40 187.08 L495.40 188.32 L496.40 189.36 L497.40 190.23 L498.40 190.96 L499.40 191.56 L500.40 192.10 L501.40 192.62 L502.40 193.07 L503.40 193.46 L504.40 193.79 L504.40 194.27 L503.40 194.09 L502.40 193.92 L501.40 193.75 L500.40 193.57 L499.40 193.46 L498.40 193.40 L497.40 193.34 L496.40 193.27 L495.40 193.21 L494.40 193.15 L493.40 193.08 L492.40 193.02 L491.40 192.96 L490.40 192.89 L489.40 192.83 L488.40 192.77 L487.40 192.70 L486.40 192.64 L485.40 192.58 L484.40 192.51 L483.40 192.45 L482.40 192.39 L481.40 192.32 L480.40 192.26 L479.40 192.20 L478.40 192.13 L477.40 192.07 L476.40 192.01 L475.40 191.94 L474.40 191.88 L473.40 191.82 L472.40 191.75 L471.40 191.69 L470.40 191.63 L469.40 191.59 L468.40 191.57 L467.40 191.55 L466.40 191.53 L465.40 191.51 L464.40 191.49 L463.40 191.47 L462.40 191.45 L461.40 191.43 L460.40 191.41 L459.40 191.39 L458.40 191.37 L457.40 191.35 L456.40 191.33 L455.40 191.31 L454.40 191.29 L453.40 191.27 L452.40 191.25 L451.40 191.23 L450.40 191.21 L449.40 191.19 L448.40 191.17 L447.40 191.15 L446.40 191.13 L445.40 191.11 L444.40 191.09 L443.40 191.07 L442.40 191.05 L441.40 191.03 L440.40 191.01 Z" fill="url(#g25)"/>
<path d="M415.86 190.78 L416.86 190.69 L417.86 190.59 L418.86 190.45 L419.86 190.27 L420.86 190.05 L421.86 189.76 L422.86 189.41 L423.86 188.97 L424.86 188.44 L425.86 187.81 L426.86 187.05 L427.86 186.16 L428.86 185.13 L429.86 183.94 L430.86 182.59 L431.86 181.09 L432.86 179.43 L433.86 177.61 L434.86 175.66 L435.86 173.60 L436.86 171.45 L437.86 169.24 L438.86 167.01 L439.86 164.80 L440.86 162.69 L441.86 160.70 L442.86 158.87 L443.86 157.26 L444.86 155.91 L445.86 154.85 L446.86 154.12 L447.86 153.73 L448.86 153.69 L449.86 153.94 L450.86 154.44 L451.86 155.18 L452.86 156.15 L453.86 157.34 L454.86 158.71 L455.86 160.25 L456.86 161.92 L457.86 163.69 L458.86 165.54 L459.86 167.44 L460.86 169.35 L461.86 171.26 L462.86 173.13 L463.86 174.95 L464.86 176.69 L465.86 178.35 L466.86 179.90 L467.86 181.35 L468.86 182.69 L469.86 183.91 L470.86 185.05 L471.86 186.08 L472.86 187.00 L473.86 187.82 L474.86 188.55 L475.86 189.18 L476.86 189.74 L477.86 190.22 L478.86 190.63 L479.86 190.99 L480.86 191.30 L481.86 191.56 L482.86 191.79 L483.86 191.99 L484.86 192.16 L485.86 192.31 L486.86 192.44 L486.86 192.67 L485.86 192.60 L484.86 192.54 L483.86 192.48 L482.86 192.41 L481.86 192.35 L480.86 192.29 L479.86 192.22 L478.86 192.16 L477.86 192.10 L476.86 192.03 L475.86 191.97 L474.86 191.91 L473.86 191.84 L472.86 191.78 L471.86 191.72 L470.86 191.65 L469.86 191.60 L468.86 191.58 L467.86 191.56 L466.86 191.54 L465.86 191.52 L464.86 191.50 L463.86 191.48 L462.86 191.46 L461.86 191.44 L460.86 191.42 L459.86 191.40 L458.86 191.38 L457.86 191.36 L456.86 191.34 L455.86 191.32 L454.86 191.30 L453.86 191.28 L452.86 191.26 L451.86 191.24 L450.86 191.22 L449.86 191.20 L448.86 191.18 L447.86 191.16 L446.86 191.14 L445.86 191.12 L444.86 191.10 L443.86 191.08 L442.86 191.06 L441.86 191.04 L440.86 191.02 L439.86 191.00 L438.86 191.00 L437.86 191.00 L436.86 191.00 L435.86 191.00 L434.86 191.00 L433.86 191.00 L432.86 191.00 L431.86 191.00 L430.86 191.00 L429.86 191.00 L428.86 191.00 L427.86 191.00 L426.86 191.00 L425.86 191.00 L424.86 191.00 L423.86 191.00 L422.86 191.00 L421.86 191.00 L420.86 191.00 L419.86 191.00 L418.86 191.00 L417.86 191.00 L416.86 191.00 L415.86 191.00 Z" fill="url(#g26)"/>
<path d="M486.50 192.62 L487.50 192.66 L488.50 192.67 L489.50 192.65 L490.50 192.56 L491.50 192.39 L492.50 192.13 L493.50 191.76 L494.50 191.30 L495.50 190.80 L496.50 190.30 L497.50 189.91 L498.50 189.68 L499.50 189.67 L500.50 189.95 L501.50 190.50 L502.50 191.18 L503.50 191.92 L504.50 192.66 L505.50 193.32 L506.50 193.89 L507.50 194.35 L508.50 194.72 L509.50 195.02 L510.50 195.26 L511.50 195.48 L511.50 195.51 L510.50 195.34 L509.50 195.16 L508.50 194.99 L507.50 194.81 L506.50 194.64 L505.50 194.46 L504.50 194.29 L503.50 194.11 L502.50 193.94 L501.50 193.76 L500.50 193.59 L499.50 193.47 L498.50 193.41 L497.50 193.34 L496.50 193.28 L495.50 193.22 L494.50 193.15 L493.50 193.09 L492.50 193.03 L491.50 192.96 L490.50 192.90 L489.50 192.84 L488.50 192.77 L487.50 192.71 L486.50 192.65 Z" fill="url(#g27)"/>
<path d="M497.40 193.28 L498.40 193.31 L499.40 193.33 L500.40 193.37 L501.40 193.45 L502.40 193.49 L503.40 193.49 L504.40 193.43 L505.40 193.31 L506.40 193.12 L507.40 192.84 L508.40 192.47 L509.40 192.03 L510.40 191.50 L511.40 190.92 L512.40 190.24 L513.40 189.46 L514.40 188.71 L515.40 188.01 L516.40 187.41 L517.40 186.94 L518.40 186.63 L519.40 186.49 L520.40 186.55 L521.40 186.79 L522.40 187.21 L523.40 187.79 L524.40 188.49 L525.40 189.27 L526.40 190.11 L527.40 190.96 L528.40 191.79 L529.40 192.58 L530.40 193.30 L531.40 193.94 L532.40 194.50 L533.40 194.98 L534.40 195.37 L535.40 195.69 L536.40 195.95 L537.40 196.15 L538.40 196.31 L539.40 196.44 L540.40 196.54 L541.40 196.62 L541.40 196.70 L540.40 196.66 L539.40 196.62 L538.40 196.59 L537.40 196.55 L536.40 196.51 L535.40 196.47 L534.40 196.44 L533.40 196.40 L532.40 196.36 L531.40 196.32 L530.40 196.29 L529.40 196.25 L528.40 196.21 L527.40 196.17 L526.40 196.14 L525.40 196.10 L524.40 196.06 L523.40 196.03 L522.40 195.99 L521.40 195.95 L520.40 195.91 L519.40 195.88 L518.40 195.84 L517.40 195.80 L516.40 195.76 L515.40 195.73 L514.40 195.69 L513.40 195.65 L512.40 195.61 L511.40 195.50 L510.40 195.32 L509.40 195.14 L508.40 194.97 L507.40 194.79 L506.40 194.62 L505.40 194.44 L504.40 194.27 L503.40 194.09 L502.40 193.92 L501.40 193.75 L500.40 193.57 L499.40 193.46 L498.40 193.40 L497.40 193.34 Z" fill="url(#g28)"/>
<path d="M317.00 190.60 C330.83 190.67 379.50 190.93 400.00 191.00 C420.50 191.07 428.33 190.90 440.00 191.00 C451.67 191.10 460.00 191.18 470.00 191.60 C480.00 192.02 493.00 192.83 500.00 193.50 C507.00 194.17 497.50 194.78 512.00 195.60 C526.50 196.42 574.50 197.93 587.00 198.40" fill="none" stroke="#202020" stroke-width="1.00" stroke-linejoin="round"/>
<path d="M318.00 190.00 C319.75 189.88 324.50 189.75 328.50 189.30 C332.50 188.85 337.50 188.20 342.00 187.30 C346.50 186.40 351.00 185.03 355.50 183.90 C360.00 182.77 364.50 181.63 369.00 180.50 C373.50 179.37 379.00 177.95 382.50 177.10 C386.00 176.25 387.75 175.82 390.00 175.40 C392.25 174.98 394.00 174.78 396.00 174.60 C398.00 174.42 400.00 174.33 402.00 174.30 C404.00 174.27 406.00 174.25 408.00 174.40 C410.00 174.55 412.00 174.83 414.00 175.20 C416.00 175.57 418.17 176.20 420.00 176.60 C421.83 177.00 423.50 177.57 425.00 177.60 C426.50 177.63 427.75 177.48 429.00 176.80 C430.25 176.12 431.25 175.55 432.50 173.50 C433.75 171.45 435.08 168.08 436.50 164.50 C437.92 160.92 439.75 154.82 441.00 152.00 C442.25 149.18 443.00 148.60 444.00 147.60 C445.00 146.60 445.83 146.33 447.00 146.00 C448.17 145.67 449.75 145.73 451.00 145.60 C452.25 145.47 453.42 145.63 454.50 145.20 C455.58 144.77 456.50 144.12 457.50 143.00 C458.50 141.88 459.33 141.33 460.50 138.50 C461.67 135.67 463.05 129.53 464.50 126.00 C465.95 122.47 467.95 118.92 469.20 117.30 C470.45 115.68 471.12 116.30 472.00 116.30 C472.88 116.30 473.38 115.68 474.50 117.30 C475.62 118.92 477.20 121.72 478.70 126.00 C480.20 130.28 481.92 137.00 483.50 143.00 C485.08 149.00 486.62 156.73 488.20 162.00 C489.78 167.27 491.42 171.18 493.00 174.60 C494.58 178.02 495.60 180.50 497.70 182.50 C499.80 184.50 503.17 185.77 505.60 186.60 C508.03 187.43 509.95 187.55 512.30 187.50 C514.65 187.45 517.57 186.30 519.70 186.30 C521.83 186.30 523.28 186.68 525.10 187.50 C526.92 188.32 528.77 190.07 530.60 191.20 C532.43 192.33 533.95 193.53 536.10 194.30 C538.25 195.07 539.52 195.35 543.50 195.80 C547.48 196.25 552.75 196.63 560.00 197.00 C567.25 197.37 582.50 197.83 587.00 198.00" fill="none" stroke="#1a1aa0" stroke-width="1.40" stroke-linejoin="round"/>
<g fill="none" stroke="#8a8a8a" stroke-width="0.60"><circle cx="317.7" cy="246.2" r="1.4"/><circle cx="319.6" cy="244.3" r="1.4"/><circle cx="322.1" cy="246.6" r="1.4"/><circle cx="324.1" cy="247.0" r="1.4"/><circle cx="326.4" cy="245.9" r="1.4"/><circle cx="327.6" cy="245.7" r="1.4"/><circle cx="330.1" cy="246.1" r="1.4"/><circle cx="332.1" cy="245.6" r="1.4"/><circle cx="333.8" cy="244.4" r="1.4"/><circle cx="336.1" cy="245.9" r="1.4"/><circle cx="337.9" cy="247.2" r="1.4"/><circle cx="339.6" cy="245.6" r="1.4"/><circle cx="341.7" cy="245.1" r="1.4"/><circle cx="344.3" cy="246.9" r="1.4"/><circle cx="346.0" cy="245.3" r="1.4"/><circle cx="347.7" cy="246.1" r="1.4"/><circle cx="349.9" cy="245.3" r="1.4"/><circle cx="352.4" cy="246.3" r="1.4"/><circle cx="354.2" cy="246.1" r="1.4"/><circle cx="356.2" cy="246.3" r="1.4"/><circle cx="358.3" cy="246.5" r="1.4"/><circle cx="359.5" cy="246.4" r="1.4"/><circle cx="362.0" cy="245.0" r="1.4"/><circle cx="364.0" cy="244.2" r="1.4"/><circle cx="366.1" cy="246.1" r="1.4"/><circle cx="368.5" cy="245.4" r="1.4"/><circle cx="370.4" cy="246.6" r="1.4"/><circle cx="372.4" cy="246.6" r="1.4"/><circle cx="373.8" cy="245.2" r="1.4"/><circle cx="376.2" cy="245.3" r="1.4"/><circle cx="378.4" cy="246.2" r="1.4"/><circle cx="380.2" cy="245.5" r="1.4"/><circle cx="381.7" cy="245.5" r="1.4"/><circle cx="383.7" cy="247.1" r="1.4"/><circle cx="386.0" cy="245.8" r="1.4"/><circle cx="388.0" cy="246.1" r="1.4"/><circle cx="390.1" cy="245.3" r="1.4"/><circle cx="392.5" cy="246.3" r="1.4"/><circle cx="394.5" cy="248.4" r="1.4"/><circle cx="396.3" cy="246.5" r="1.4"/><circle cx="398.4" cy="245.2" r="1.4"/><circle cx="400.2" cy="246.0" r="1.4"/><circle cx="402.2" cy="246.7" r="1.4"/><circle cx="403.9" cy="246.5" r="1.4"/><circle cx="406.4" cy="247.1" r="1.4"/><circle cx="407.8" cy="246.0" r="1.4"/><circle cx="409.9" cy="246.1" r="1.4"/><circle cx="412.4" cy="245.1" r="1.4"/><circle cx="413.9" cy="248.0" r="1.4"/><circle cx="416.3" cy="242.9" r="1.4"/><circle cx="417.8" cy="245.1" r="1.4"/><circle cx="420.5" cy="246.4" r="1.4"/><circle cx="422.2" cy="248.6" r="1.4"/><circle cx="424.2" cy="244.9" r="1.4"/><circle cx="426.1" cy="246.5" r="1.4"/><circle cx="428.0" cy="245.4" r="1.4"/><circle cx="430.3" cy="245.9" r="1.4"/><circle cx="432.2" cy="246.3" r="1.4"/><circle cx="433.7" cy="247.5" r="1.4"/><circle cx="435.9" cy="247.5" r="1.4"/><circle cx="437.9" cy="246.5" r="1.4"/><circle cx="439.7" cy="244.7" r="1.4"/><circle cx="442.3" cy="245.0" r="1.4"/><circle cx="444.3" cy="245.4" r="1.4"/><circle cx="445.6" cy="246.5" r="1.4"/><circle cx="447.7" cy="245.4" r="1.4"/><circle cx="450.0" cy="247.2" r="1.4"/><circle cx="451.8" cy="246.8" r="1.4"/><circle cx="454.0" cy="246.9" r="1.4"/><circle cx="456.4" cy="245.7" r="1.4"/><circle cx="457.7" cy="248.3" r="1.4"/><circle cx="460.5" cy="245.8" r="1.4"/><circle cx="461.8" cy="245.2" r="1.4"/><circle cx="463.6" cy="246.1" r="1.4"/><circle cx="466.0" cy="245.4" r="1.4"/><circle cx="468.4" cy="245.0" r="1.4"/><circle cx="470.3" cy="246.2" r="1.4"/><circle cx="471.6" cy="244.5" r="1.4"/><circle cx="473.7" cy="247.2" r="1.4"/><circle cx="475.5" cy="244.2" r="1.4"/><circle cx="478.1" cy="245.8" r="1.4"/><circle cx="479.9" cy="246.0" r="1.4"/><circle cx="482.4" cy="245.4" r="1.4"/><circle cx="484.1" cy="245.5" r="1.4"/><circle cx="485.7" cy="246.5" r="1.4"/><circle cx="488.4" cy="245.3" r="1.4"/><circle cx="490.5" cy="246.8" r="1.4"/><circle cx="492.0" cy="247.1" r="1.4"/><circle cx="494.5" cy="246.9" r="1.4"/><circle cx="495.5" cy="246.0" r="1.4"/><circle cx="498.4" cy="246.2" r="1.4"/><circle cx="500.2" cy="247.1" r="1.4"/><circle cx="502.4" cy="245.4" r="1.4"/><circle cx="504.0" cy="245.6" r="1.4"/><circle cx="506.4" cy="244.8" r="1.4"/><circle cx="508.2" cy="245.7" r="1.4"/><circle cx="510.3" cy="246.1" r="1.4"/><circle cx="511.5" cy="245.4" r="1.4"/><circle cx="513.7" cy="246.6" r="1.4"/><circle cx="516.2" cy="246.2" r="1.4"/><circle cx="517.7" cy="246.2" r="1.4"/><circle cx="519.9" cy="245.8" r="1.4"/><circle cx="522.5" cy="244.9" r="1.4"/><circle cx="523.7" cy="244.5" r="1.4"/><circle cx="525.9" cy="247.2" r="1.4"/><circle cx="528.1" cy="245.4" r="1.4"/><circle cx="529.8" cy="245.8" r="1.4"/><circle cx="531.8" cy="247.2" r="1.4"/><circle cx="533.6" cy="246.3" r="1.4"/><circle cx="536.0" cy="246.5" r="1.4"/><circle cx="538.0" cy="245.9" r="1.4"/><circle cx="540.4" cy="247.8" r="1.4"/><circle cx="542.1" cy="245.2" r="1.4"/><circle cx="544.2" cy="245.7" r="1.4"/><circle cx="546.2" cy="244.6" r="1.4"/><circle cx="548.1" cy="245.3" r="1.4"/><circle cx="550.1" cy="244.6" r="1.4"/><circle cx="552.2" cy="246.1" r="1.4"/><circle cx="554.5" cy="244.7" r="1.4"/><circle cx="555.8" cy="245.4" r="1.4"/><circle cx="558.0" cy="246.4" r="1.4"/><circle cx="560.5" cy="245.5" r="1.4"/><circle cx="561.5" cy="247.1" r="1.4"/><circle cx="564.3" cy="244.5" r="1.4"/><circle cx="565.7" cy="245.7" r="1.4"/><circle cx="568.4" cy="247.3" r="1.4"/><circle cx="569.8" cy="245.0" r="1.4"/><circle cx="571.7" cy="246.6" r="1.4"/><circle cx="573.6" cy="247.2" r="1.4"/><circle cx="576.5" cy="246.9" r="1.4"/><circle cx="578.3" cy="246.9" r="1.4"/><circle cx="580.4" cy="244.8" r="1.4"/><circle cx="582.0" cy="246.9" r="1.4"/><circle cx="583.9" cy="247.1" r="1.4"/><circle cx="586.4" cy="246.1" r="1.4"/></g>
<text class="b" x="23.80" y="78.10" fill="#1a1a1a" style="font-family:'Liberation Sans',sans-serif;font-weight:bold;font-size:7.70px"><tspan dy="0.00" style="font-size:7.70px">Fe</tspan><tspan dy="-2.39" style="font-size:5.24px">3+</tspan><tspan dy="2.39" style="font-size:7.70px">&#160;2p</tspan><tspan dy="2.08" style="font-size:5.08px">1/2</tspan></text>
<text class="b" x="65.50" y="65.90" fill="#1a1a1a" style="font-family:'Liberation Sans',sans-serif;font-weight:bold;font-size:7.70px"><tspan dy="0.00" style="font-size:7.70px">Fe</tspan><tspan dy="-2.39" style="font-size:5.24px">2+</tspan><tspan dy="2.39" style="font-size:7.70px">&#160;2p</tspan><tspan dy="2.08" style="font-size:5.08px">1/2</tspan></text>
<text class="b" x="115.80" y="69.90" fill="#1a1a1a" style="font-family:'Liberation Sans',sans-serif;font-weight:bold;font-size:7.70px"><tspan dy="0.00" style="font-size:7.70px">FeS</tspan><tspan dy="2.08" style="font-size:5.08px">2</tspan><tspan dy="-2.08" style="font-size:7.70px">&#160;2p</tspan><tspan dy="2.08" style="font-size:5.08px">1/2</tspan></text>
<text class="b" x="166.50" y="74.00" fill="#1a1a1a" style="font-family:'Liberation Sans',sans-serif;font-weight:bold;font-size:7.70px"><tspan dy="0.00" style="font-size:7.70px">Fe</tspan><tspan dy="-2.39" style="font-size:5.24px">3+</tspan><tspan dy="2.39" style="font-size:7.70px">&#160;2p</tspan><tspan dy="2.08" style="font-size:5.08px">3/2</tspan></text>
<text class="b" x="201.30" y="59.90" fill="#1a1a1a" style="font-family:'Liberation Sans',sans-serif;font-weight:bold;font-size:7.70px"><tspan dy="0.00" style="font-size:7.70px">Fe</tspan><tspan dy="-2.39" style="font-size:5.24px">2+</tspan><tspan dy="2.39" style="font-size:7.70px">&#160;2p</tspan><tspan dy="2.08" style="font-size:5.08px">3/2</tspan></text>
<text class="b" x="251.20" y="66.50" fill="#1a1a1a" style="font-family:'Liberation Sans',sans-serif;font-weight:bold;font-size:7.70px"><tspan dy="0.00" style="font-size:7.70px">FeS</tspan><tspan dy="2.08" style="font-size:5.08px">2</tspan><tspan dy="-2.08" style="font-size:7.70px">&#160;2p</tspan><tspan dy="2.08" style="font-size:5.08px">3/2</tspan></text>
<text class="b" x="350.00" y="84.00" fill="#1a1a1a" style="font-family:'Liberation Sans',sans-serif;font-weight:bold;font-size:7.70px"><tspan dy="0.00" style="font-size:7.70px">SO</tspan><tspan dy="2.08" style="font-size:5.08px;font-style:italic">x</tspan><tspan dy="-2.08" style="font-size:7.70px">&#160;2p</tspan><tspan dy="2.08" style="font-size:5.08px">1/2</tspan></text>
<text class="b" x="383.80" y="77.80" fill="#1a1a1a" style="font-family:'Liberation Sans',sans-serif;font-weight:bold;font-size:7.70px"><tspan dy="0.00" style="font-size:7.70px">SO</tspan><tspan dy="2.08" style="font-size:5.08px;font-style:italic">x</tspan><tspan dy="-2.08" style="font-size:7.70px">&#160;2p</tspan><tspan dy="2.08" style="font-size:5.08px">3/2</tspan></text>
<text class="b" x="414.00" y="53.00" fill="#1a1a1a" style="font-family:'Liberation Sans',sans-serif;font-weight:bold;font-size:7.70px">S</text><text class="b" x="419.44" y="55.08" fill="#1a1a1a" style="font-family:'Liberation Sans',sans-serif;font-weight:bold;font-size:5.08px">2</text><text class="b" x="419.44" y="50.25" fill="#1a1a1a" style="font-family:'Liberation Sans',sans-serif;font-weight:bold;font-size:5.24px">2-</text>
<text class="b" x="424.09" y="53.00" fill="#1a1a1a" style="font-family:'Liberation Sans',sans-serif;font-weight:bold;font-size:7.70px"><tspan dy="0.00" style="font-size:7.70px">&#160;2p</tspan><tspan dy="2.08" style="font-size:5.08px">1/2</tspan></text>
<text class="b" x="496.50" y="38.50" fill="#1a1a1a" style="font-family:'Liberation Sans',sans-serif;font-weight:bold;font-size:7.70px">S</text><text class="b" x="501.94" y="40.58" fill="#1a1a1a" style="font-family:'Liberation Sans',sans-serif;font-weight:bold;font-size:5.08px">2</text><text class="b" x="501.94" y="35.75" fill="#1a1a1a" style="font-family:'Liberation Sans',sans-serif;font-weight:bold;font-size:5.24px">2-</text>
<text class="b" x="506.59" y="38.50" fill="#1a1a1a" style="font-family:'Liberation Sans',sans-serif;font-weight:bold;font-size:7.70px"><tspan dy="0.00" style="font-size:7.70px">&#160;2p</tspan><tspan dy="2.08" style="font-size:5.08px">3/2</tspan></text>
<text class="b" x="419.80" y="132.80" fill="#1a1a1a" style="font-family:'Liberation Sans',sans-serif;font-weight:bold;font-size:7.70px">S</text><text class="b" x="425.24" y="134.88" fill="#1a1a1a" style="font-family:'Liberation Sans',sans-serif;font-weight:bold;font-size:5.08px">n</text><text class="b" x="425.24" y="130.05" fill="#1a1a1a" style="font-family:'Liberation Sans',sans-serif;font-weight:bold;font-size:5.24px">2-</text>
<text class="b" x="429.89" y="132.80" fill="#1a1a1a" style="font-family:'Liberation Sans',sans-serif;font-weight:bold;font-size:7.70px"><tspan dy="0.00" style="font-size:7.70px">&#160;2p</tspan><tspan dy="2.08" style="font-size:5.08px">1/2</tspan></text>
<text class="b" x="479.90" y="123.20" fill="#1a1a1a" style="font-family:'Liberation Sans',sans-serif;font-weight:bold;font-size:7.70px">S</text><text class="b" x="485.34" y="125.28" fill="#1a1a1a" style="font-family:'Liberation Sans',sans-serif;font-weight:bold;font-size:5.08px">n</text><text class="b" x="485.34" y="120.45" fill="#1a1a1a" style="font-family:'Liberation Sans',sans-serif;font-weight:bold;font-size:5.24px">2-</text>
<text class="b" x="489.99" y="123.20" fill="#1a1a1a" style="font-family:'Liberation Sans',sans-serif;font-weight:bold;font-size:7.70px"><tspan dy="0.00" style="font-size:7.70px">&#160;2p</tspan><tspan dy="2.08" style="font-size:5.08px">3/2</tspan></text>
<text class="b" x="499.30" y="172.70" fill="#1a1a1a" style="font-family:'Liberation Sans',sans-serif;font-weight:bold;font-size:7.70px"><tspan dy="0.00" style="font-size:7.70px">S</tspan><tspan dy="-2.39" style="font-size:5.24px">2-</tspan><tspan dy="2.39" style="font-size:7.70px">&#160;2p</tspan><tspan dy="2.08" style="font-size:5.08px">1/2</tspan></text>
<text class="b" x="536.10" y="172.80" fill="#1a1a1a" style="font-family:'Liberation Sans',sans-serif;font-weight:bold;font-size:7.70px"><tspan dy="0.00" style="font-size:7.70px">S</tspan><tspan dy="-2.39" style="font-size:5.24px">2-</tspan><tspan dy="2.39" style="font-size:7.70px">&#160;2p</tspan><tspan dy="2.08" style="font-size:5.08px">3/2</tspan></text>
<line x1="55.8" y1="100.8" x2="39.1" y2="85.4" stroke="#1e8a1e" stroke-width="1.50" stroke-dasharray="3.6 2.2"/>
<polygon points="36.5,83.0 42.4,85.5 39.4,88.7" fill="#1e8a1e"/>
<line x1="96.7" y1="89.0" x2="82.6" y2="72.7" stroke="#2020e0" stroke-width="1.50" stroke-dasharray="3.6 2.2"/>
<polygon points="80.2,70.0 85.8,73.1 82.5,75.9" fill="#2020e0"/>
<line x1="135.0" y1="97.0" x2="135.0" y2="79.1" stroke="#f020f0" stroke-width="1.50" stroke-dasharray="3.6 2.2"/>
<polygon points="135.0,75.5 137.2,81.5 132.8,81.5" fill="#f020f0"/>
<line x1="190.5" y1="100.5" x2="185.4" y2="81.5" stroke="#1e8a1e" stroke-width="1.50" stroke-dasharray="3.6 2.2"/>
<polygon points="184.5,78.0 188.1,83.2 184.0,84.4" fill="#1e8a1e"/>
<line x1="223.5" y1="88.5" x2="215.8" y2="67.9" stroke="#2020e0" stroke-width="1.50" stroke-dasharray="3.6 2.2"/>
<polygon points="214.5,64.5 218.6,69.4 214.6,70.9" fill="#2020e0"/>
<line x1="270.0" y1="97.5" x2="276.4" y2="76.9" stroke="#f020f0" stroke-width="1.50" stroke-dasharray="3.6 2.2"/>
<polygon points="277.5,73.5 277.8,79.9 273.6,78.6" fill="#f020f0"/>
<line x1="374.4" y1="101.6" x2="369.1" y2="90.3" stroke="#8a1a1a" stroke-width="1.50" stroke-dasharray="3.6 2.2"/>
<polygon points="367.6,87.0 372.1,91.5 368.2,93.4" fill="#8a1a1a"/>
<line x1="401.8" y1="89.0" x2="399.2" y2="84.6" stroke="#9a9a20" stroke-width="1.50" stroke-dasharray="3.6 2.2"/>
<polygon points="397.3,81.5 402.2,85.5 398.5,87.8" fill="#9a9a20"/>
<line x1="442.0" y1="74.0" x2="436.6" y2="63.2" stroke="#3a80d0" stroke-width="1.50" stroke-dasharray="3.6 2.2"/>
<polygon points="435.0,60.0 439.6,64.4 435.8,66.3" fill="#3a80d0"/>
<line x1="497.0" y1="66.0" x2="506.6" y2="44.3" stroke="#f09a40" stroke-width="1.50" stroke-dasharray="3.6 2.2"/>
<polygon points="508.0,41.0 507.6,47.4 503.6,45.6" fill="#f09a40"/>
<line x1="439.5" y1="150.5" x2="435.7" y2="140.4" stroke="#3a80d0" stroke-width="1.50" stroke-dasharray="3.6 2.2"/>
<polygon points="434.4,137.0 438.5,141.8 434.5,143.4" fill="#3a80d0"/>
<line x1="477.5" y1="158.0" x2="491.0" y2="128.8" stroke="#f09a40" stroke-width="1.50" stroke-dasharray="3.6 2.2"/>
<polygon points="492.5,125.5 491.9,131.9 488.0,130.0" fill="#f09a40"/>
<line x1="498.5" y1="186.5" x2="510.0" y2="175.0" stroke="#a020f0" stroke-width="1.50" stroke-dasharray="3.6 2.2"/>
<polygon points="512.5,172.5 509.8,178.3 506.7,175.2" fill="#a020f0"/>
<line x1="529.5" y1="186.5" x2="544.9" y2="177.3" stroke="#30e030" stroke-width="1.50" stroke-dasharray="3.6 2.2"/>
<polygon points="548.0,175.5 543.9,180.4 541.7,176.7" fill="#30e030"/>
<rect x="21.6" y="4.7" width="269.65" height="260.8" fill="none" stroke="#111" stroke-width="1.25"/>
<rect x="317.5" y="5.0" width="270.0" height="261.3" fill="none" stroke="#111" stroke-width="1.25"/>
<line x1="291.00" y1="265.5" x2="291.00" y2="268.9" stroke="#333" stroke-width="0.9"/>
<text x="291.00" y="279.6" text-anchor="middle" fill="#1a1a1a" style="font-family:'Liberation Sans',sans-serif;font-size:10.6px">705</text>
<line x1="281.03" y1="265.5" x2="281.03" y2="267.4" stroke="#333" stroke-width="0.9"/>
<line x1="271.06" y1="265.5" x2="271.06" y2="267.4" stroke="#333" stroke-width="0.9"/>
<line x1="261.10" y1="265.5" x2="261.10" y2="267.4" stroke="#333" stroke-width="0.9"/>
<line x1="251.13" y1="265.5" x2="251.13" y2="267.4" stroke="#333" stroke-width="0.9"/>
<line x1="241.16" y1="265.5" x2="241.16" y2="268.9" stroke="#333" stroke-width="0.9"/>
<text x="241.16" y="279.6" text-anchor="middle" fill="#1a1a1a" style="font-family:'Liberation Sans',sans-serif;font-size:10.6px">710</text>
<line x1="231.19" y1="265.5" x2="231.19" y2="267.4" stroke="#333" stroke-width="0.9"/>
<line x1="221.22" y1="265.5" x2="221.22" y2="267.4" stroke="#333" stroke-width="0.9"/>
<line x1="211.26" y1="265.5" x2="211.26" y2="267.4" stroke="#333" stroke-width="0.9"/>
<line x1="201.29" y1="265.5" x2="201.29" y2="267.4" stroke="#333" stroke-width="0.9"/>
<line x1="191.32" y1="265.5" x2="191.32" y2="268.9" stroke="#333" stroke-width="0.9"/>
<text x="191.32" y="279.6" text-anchor="middle" fill="#1a1a1a" style="font-family:'Liberation Sans',sans-serif;font-size:10.6px">715</text>
<line x1="181.35" y1="265.5" x2="181.35" y2="267.4" stroke="#333" stroke-width="0.9"/>
<line x1="171.38" y1="265.5" x2="171.38" y2="267.4" stroke="#333" stroke-width="0.9"/>
<line x1="161.42" y1="265.5" x2="161.42" y2="267.4" stroke="#333" stroke-width="0.9"/>
<line x1="151.45" y1="265.5" x2="151.45" y2="267.4" stroke="#333" stroke-width="0.9"/>
<line x1="141.48" y1="265.5" x2="141.48" y2="268.9" stroke="#333" stroke-width="0.9"/>
<text x="141.48" y="279.6" text-anchor="middle" fill="#1a1a1a" style="font-family:'Liberation Sans',sans-serif;font-size:10.6px">720</text>
<line x1="131.51" y1="265.5" x2="131.51" y2="267.4" stroke="#333" stroke-width="0.9"/>
<line x1="121.54" y1="265.5" x2="121.54" y2="267.4" stroke="#333" stroke-width="0.9"/>
<line x1="111.58" y1="265.5" x2="111.58" y2="267.4" stroke="#333" stroke-width="0.9"/>
<line x1="101.61" y1="265.5" x2="101.61" y2="267.4" stroke="#333" stroke-width="0.9"/>
<line x1="91.64" y1="265.5" x2="91.64" y2="268.9" stroke="#333" stroke-width="0.9"/>
<text x="91.64" y="279.6" text-anchor="middle" fill="#1a1a1a" style="font-family:'Liberation Sans',sans-serif;font-size:10.6px">725</text>
<line x1="81.67" y1="265.5" x2="81.67" y2="267.4" stroke="#333" stroke-width="0.9"/>
<line x1="71.70" y1="265.5" x2="71.70" y2="267.4" stroke="#333" stroke-width="0.9"/>
<line x1="61.74" y1="265.5" x2="61.74" y2="267.4" stroke="#333" stroke-width="0.9"/>
<line x1="51.77" y1="265.5" x2="51.77" y2="267.4" stroke="#333" stroke-width="0.9"/>
<line x1="41.80" y1="265.5" x2="41.80" y2="268.9" stroke="#333" stroke-width="0.9"/>
<text x="41.80" y="279.6" text-anchor="middle" fill="#1a1a1a" style="font-family:'Liberation Sans',sans-serif;font-size:10.6px">730</text>
<line x1="31.83" y1="265.5" x2="31.83" y2="267.4" stroke="#333" stroke-width="0.9"/>
<line x1="587.01" y1="266.3" x2="587.01" y2="268.0" stroke="#333" stroke-width="0.9"/>
<line x1="567.74" y1="266.3" x2="567.74" y2="269.5" stroke="#333" stroke-width="0.9"/>
<text x="567.74" y="279.8" text-anchor="middle" fill="#1a1a1a" style="font-family:'Liberation Serif',serif;font-size:10.6px">159</text>
<line x1="548.47" y1="266.3" x2="548.47" y2="268.0" stroke="#333" stroke-width="0.9"/>
<line x1="529.20" y1="266.3" x2="529.20" y2="268.0" stroke="#333" stroke-width="0.9"/>
<line x1="509.93" y1="266.3" x2="509.93" y2="269.5" stroke="#333" stroke-width="0.9"/>
<text x="509.93" y="279.8" text-anchor="middle" fill="#1a1a1a" style="font-family:'Liberation Serif',serif;font-size:10.6px">162</text>
<line x1="490.66" y1="266.3" x2="490.66" y2="268.0" stroke="#333" stroke-width="0.9"/>
<line x1="471.39" y1="266.3" x2="471.39" y2="268.0" stroke="#333" stroke-width="0.9"/>
<line x1="452.12" y1="266.3" x2="452.12" y2="269.5" stroke="#333" stroke-width="0.9"/>
<text x="452.12" y="279.8" text-anchor="middle" fill="#1a1a1a" style="font-family:'Liberation Serif',serif;font-size:10.6px">165</text>
<line x1="432.85" y1="266.3" x2="432.85" y2="268.0" stroke="#333" stroke-width="0.9"/>
<line x1="413.58" y1="266.3" x2="413.58" y2="268.0" stroke="#333" stroke-width="0.9"/>
<line x1="394.31" y1="266.3" x2="394.31" y2="269.5" stroke="#333" stroke-width="0.9"/>
<text x="394.31" y="279.8" text-anchor="middle" fill="#1a1a1a" style="font-family:'Liberation Serif',serif;font-size:10.6px">168</text>
<line x1="375.04" y1="266.3" x2="375.04" y2="268.0" stroke="#333" stroke-width="0.9"/>
<line x1="355.77" y1="266.3" x2="355.77" y2="268.0" stroke="#333" stroke-width="0.9"/>
<line x1="336.50" y1="266.3" x2="336.50" y2="269.5" stroke="#333" stroke-width="0.9"/>
<text x="336.50" y="279.8" text-anchor="middle" fill="#1a1a1a" style="font-family:'Liberation Serif',serif;font-size:10.6px">171</text>
<text x="156.5" y="295.6" text-anchor="middle" fill="#1a1a1a" style="font-family:'Liberation Sans',sans-serif;font-size:12.2px">Binding energy (eV)</text>
<text x="452.6" y="295.6" text-anchor="middle" fill="#1a1a1a" style="font-family:'Liberation Sans',sans-serif;font-size:12.2px">Binding energy (eV)</text>
<text transform="translate(13.9,134.2) rotate(-90)" text-anchor="middle" fill="#1a1a1a" style="font-family:'Liberation Sans',sans-serif;font-size:12.2px">Intensity</text>
<text transform="translate(311.7,134.0) rotate(-90)" text-anchor="middle" fill="#1a1a1a" style="font-family:'Liberation Sans',sans-serif;font-size:12.2px">Intensity</text>
<text x="2.0" y="14.0" fill="#1a1a1a" style="font-family:'Liberation Sans',sans-serif;font-size:11.6px">(a)</text>
<text x="297.7" y="15.3" fill="#1a1a1a" style="font-family:'Liberation Sans',sans-serif;font-size:11.6px">(b)</text>
<text x="28.3" y="115.6" fill="#1a1a1a" style="font-family:'Liberation Sans',sans-serif;font-size:10.1px">FeS<tspan dy="2" style="font-size:6.6px">2</tspan><tspan dy="-2">-C</tspan></text>
<text x="28.8" y="178.5" fill="#1a1a1a" style="font-family:'Liberation Sans',sans-serif;font-size:10.1px">FeS-C</text>
<text x="28.8" y="238.6" fill="#1a1a1a" style="font-family:'Liberation Sans',sans-serif;font-size:10.1px">Fe<tspan dy="2" style="font-size:6.4px">3</tspan><tspan dy="-2">O</tspan><tspan dy="2" style="font-size:6.4px">4</tspan><tspan dy="-2">-C</tspan></text>
<text x="325.2" y="115.9" fill="#1a1a1a" style="font-family:'Liberation Sans',sans-serif;font-size:10.1px">FeS<tspan dy="2" style="font-size:6.6px">2</tspan><tspan dy="-2">-C</tspan></text>
<text x="325.4" y="178.5" fill="#1a1a1a" style="font-family:'Liberation Sans',sans-serif;font-size:10.1px">FeS-C</text>
<text x="325.0" y="238.9" fill="#1a1a1a" style="font-family:'Liberation Sans',sans-serif;font-size:10.1px">Fe<tspan dy="2" style="font-size:6.4px">3</tspan><tspan dy="-2">O</tspan><tspan dy="2" style="font-size:6.4px">4</tspan><tspan dy="-2">-C</tspan></text>
<rect x="261.9" y="9.8" width="25.0" height="12.8" fill="#111"/>
<rect x="260.4" y="8.3" width="25.0" height="12.8" fill="#fff" stroke="#333" stroke-width="0.8"/>
<text x="262.3" y="18.0" fill="#111" style="font-family:'Liberation Sans',sans-serif;font-weight:bold;font-size:8.6px">Fe 2p</text>
<rect x="560.0" y="10.0" width="20.6" height="13.2" fill="#111"/>
<rect x="558.5" y="8.5" width="20.6" height="13.2" fill="#fff"/>
<line x1="558.6" y1="8.3" x2="558.6" y2="21.6" stroke="#555" stroke-width="0.7"/>
<text x="559.9" y="18.6" fill="#111" style="font-family:'Liberation Sans',sans-serif;font-weight:bold;font-size:8.8px">S 2p</text>
</svg>
</body></html>
